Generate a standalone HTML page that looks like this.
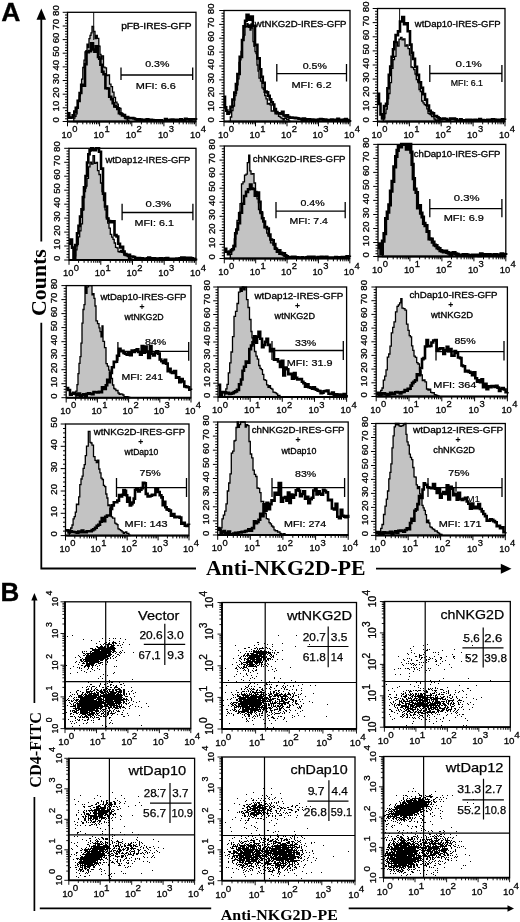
<!DOCTYPE html>
<html><head><meta charset="utf-8"><style>
html,body{margin:0;padding:0;background:#fff;width:520px;height:922px;overflow:hidden;position:relative}
text{fill:#000}
</style></head><body>
<svg width="520" height="922" viewBox="0 0 520 922" style="position:absolute;left:0;top:0;filter:blur(0.3px)"><text x="1.2" y="20.7" font-size="26.5" text-anchor="start" font-weight="bold" font-family='"Liberation Sans", sans-serif' stroke="#000" stroke-width="0.3">A</text><text x="0.4" y="600.8" font-size="26" text-anchor="start" font-weight="bold" font-family='"Liberation Sans", sans-serif' stroke="#000" stroke-width="0.3">B</text><path d="M41.3 18V241.4M41.3 322.7V568.5H196M376 568.6H502" stroke="#000" stroke-width="1.8" fill="none"/><path d="M41.3 8.5L36.5 19.7H46Z" fill="#000"/><path d="M511.5 568.7L500.8 563.8V573.8Z" fill="#000"/><text transform="translate(46.3,282.6) rotate(-90)" font-size="22" font-weight="bold" text-anchor="middle" font-family='"Liberation Serif", serif' textLength="67" lengthAdjust="spacingAndGlyphs">Counts</text><text x="205.9" y="575.4" font-size="21.5" font-weight="bold" font-family='"Liberation Serif", serif' textLength="159.7" lengthAdjust="spacingAndGlyphs">Anti-NKG2D-PE</text><path d="M72.7 121.5H73.8V118.1H74.9V116.4H76V113.9H77.1V106.8H78.2V100.3H79.3V95.9H80.4V93H81.6V79.1H82.8V67.5H84V60.2H85V51.8H86V50.6H87V44.2H88V47.7H89V38.7H90V35.4H91V32.8H92V26.5H93.5V31.5H95V38.6H96.2V35.3H97.3V38.3H98.8V46.1H100V54.3H101V59.2H102V55.8H103.5V67.1H105V67.9H106.5V75.5H108V75H109.5V84.2H111V86.6H112.5V92.2H114V97.4H115.5V102.1H117V104.1H118.3V107.7H119.7V108.3H121V113.2H122.2V114H123.5V116.4H124.8V118.5H126V118.8H127.3V120.1H128.7V121.5H130V121.5V121.5H72.7Z" fill="#c3c3c3" stroke="#000" stroke-width="1.3"/><path d="M93.7 12.3V40" stroke="#111" stroke-width="1"/><path d="M67.5 113.4H69.3V117.6H71.2V117.5H72.7V115.4H74.3V111.6H75.8V107.7H77.7V100.9H79.6V93H81.2V84.9H82.7V85.7H85V64.3H86.5V52.1H88.8V51.1H91V43.4H93V49.5H94.4V51.7H95.8V46.4H98V57H99.2V58.8H100.4V64.7H102V71.8H103.5V74.3H105.4V88.3H107.3V88.5H109.2V96.8H111.2V99.1H112.7V103.2H114.3V106.4H115.8V106.7H117.3V108.9H118.9V113.3H120.5V113.9H122V115.4H123.5V115H125V117.1H126.5V117H128.2V118.1H129.9V118.1H131.6V118H133.3V118.5H135V119.2H136.7V119.8H138.3V119.2H140V119.6H141.7V120.7H143.3V119.9H145V120.2H146.7V119.3H148.3V119.9H150V119.9H151.7V120H153.3V120.2H155V120.3H156.7V120.3H158.3V120.3H160V120.2H161.7V120.7H163.3V120.7H165V119.1H166.7V120.1H168.3V120.5H170V119.9H171.7V119.5H173.3V119.7H175V119.8H176.7V120H178.3V120H180V119.4H181.7V120.7H183.3V120.1H185V118.7H186.6V119.5H188.1V119.3H189.7V120.1H191.3V119.3H192.9V119.5H194.4V119.4H196V120" fill="none" stroke="#000" stroke-width="2.6" stroke-linejoin="miter" stroke-miterlimit="2"/><rect x="67.5" y="12.3" width="128.5" height="109.2" fill="none" stroke="#000" stroke-width="1.3"/><path d="M67.5 121.5H196" stroke="#000" stroke-width="2"/><path d="M67.5 121.5h-4.8M67.5 118.8h-2.5M67.5 116h-2.5M67.5 113.3h-2.5M67.5 110.6h-2.5M67.5 107.8h-4.8M67.5 105.1h-2.5M67.5 102.4h-2.5M67.5 99.7h-2.5M67.5 96.9h-2.5M67.5 94.2h-4.8M67.5 91.5h-2.5M67.5 88.7h-2.5M67.5 86h-2.5M67.5 83.3h-2.5M67.5 80.5h-4.8M67.5 77.8h-2.5M67.5 75.1h-2.5M67.5 72.4h-2.5M67.5 69.6h-2.5M67.5 66.9h-4.8M67.5 64.2h-2.5M67.5 61.4h-2.5M67.5 58.7h-2.5M67.5 56h-2.5M67.5 53.2h-4.8M67.5 50.5h-2.5M67.5 47.8h-2.5M67.5 45.1h-2.5M67.5 42.3h-2.5M67.5 39.6h-4.8M67.5 36.9h-2.5M67.5 34.1h-2.5M67.5 31.4h-2.5M67.5 28.7h-2.5M67.5 26h-4.8M67.5 23.2h-2.5M67.5 20.5h-2.5M67.5 17.8h-2.5M67.5 15h-2.5M67.5 12.3h-4.8" stroke="#000" stroke-width="1" fill="none"/><text transform="translate(59.4,119.8) rotate(-90)" font-size="9.6" text-anchor="middle" font-family='"Liberation Sans", sans-serif' stroke="#000" stroke-width="0.32">0</text><text transform="translate(59.4,106.1) rotate(-90)" font-size="9.6" text-anchor="middle" font-family='"Liberation Sans", sans-serif' stroke="#000" stroke-width="0.32">10</text><text transform="translate(59.4,92.5) rotate(-90)" font-size="9.6" text-anchor="middle" font-family='"Liberation Sans", sans-serif' stroke="#000" stroke-width="0.32">20</text><text transform="translate(59.4,78.8) rotate(-90)" font-size="9.6" text-anchor="middle" font-family='"Liberation Sans", sans-serif' stroke="#000" stroke-width="0.32">30</text><text transform="translate(59.4,65.2) rotate(-90)" font-size="9.6" text-anchor="middle" font-family='"Liberation Sans", sans-serif' stroke="#000" stroke-width="0.32">40</text><text transform="translate(59.4,51.5) rotate(-90)" font-size="9.6" text-anchor="middle" font-family='"Liberation Sans", sans-serif' stroke="#000" stroke-width="0.32">50</text><text transform="translate(59.4,37.9) rotate(-90)" font-size="9.6" text-anchor="middle" font-family='"Liberation Sans", sans-serif' stroke="#000" stroke-width="0.32">60</text><text transform="translate(59.4,24.3) rotate(-90)" font-size="9.6" text-anchor="middle" font-family='"Liberation Sans", sans-serif' stroke="#000" stroke-width="0.32">70</text><text transform="translate(59.4,10.6) rotate(-90)" font-size="9.6" text-anchor="middle" font-family='"Liberation Sans", sans-serif' stroke="#000" stroke-width="0.32">80</text><path d="M67.5 121.5v4.8M77.2 121.5v2.8M82.8 121.5v2.8M86.8 121.5v2.8M90 121.5v2.8M92.5 121.5v2.8M94.6 121.5v2.8M96.5 121.5v2.8M98.2 121.5v2.8M99.6 121.5v4.8M109.3 121.5v2.8M115 121.5v2.8M119 121.5v2.8M122.1 121.5v2.8M124.6 121.5v2.8M126.8 121.5v2.8M128.6 121.5v2.8M130.3 121.5v2.8M131.8 121.5v4.8M141.4 121.5v2.8M147.1 121.5v2.8M151.1 121.5v2.8M154.2 121.5v2.8M156.7 121.5v2.8M158.9 121.5v2.8M160.8 121.5v2.8M162.4 121.5v2.8M163.9 121.5v4.8M173.5 121.5v2.8M179.2 121.5v2.8M183.2 121.5v2.8M186.3 121.5v2.8M188.9 121.5v2.8M191 121.5v2.8M192.9 121.5v2.8M194.5 121.5v2.8M196 121.5v4.8" stroke="#000" stroke-width="1" fill="none"/><text x="66.7" y="137.8" font-size="9.4" text-anchor="middle" font-family='"Liberation Sans", sans-serif' stroke="#000" stroke-width="0.3">10</text><text x="74.9" y="132" font-size="9.4" text-anchor="middle" font-family='"Liberation Sans", sans-serif' stroke="#000" stroke-width="0.3">0</text><text x="98.8" y="137.8" font-size="9.4" text-anchor="middle" font-family='"Liberation Sans", sans-serif' stroke="#000" stroke-width="0.3">10</text><text x="107" y="132" font-size="9.4" text-anchor="middle" font-family='"Liberation Sans", sans-serif' stroke="#000" stroke-width="0.3">1</text><text x="130.9" y="137.8" font-size="9.4" text-anchor="middle" font-family='"Liberation Sans", sans-serif' stroke="#000" stroke-width="0.3">10</text><text x="139.2" y="132" font-size="9.4" text-anchor="middle" font-family='"Liberation Sans", sans-serif' stroke="#000" stroke-width="0.3">2</text><text x="163.1" y="137.8" font-size="9.4" text-anchor="middle" font-family='"Liberation Sans", sans-serif' stroke="#000" stroke-width="0.3">10</text><text x="171.3" y="132" font-size="9.4" text-anchor="middle" font-family='"Liberation Sans", sans-serif' stroke="#000" stroke-width="0.3">3</text><text x="195.2" y="137.8" font-size="9.4" text-anchor="middle" font-family='"Liberation Sans", sans-serif' stroke="#000" stroke-width="0.3">10</text><text x="203.4" y="132" font-size="9.4" text-anchor="middle" font-family='"Liberation Sans", sans-serif' stroke="#000" stroke-width="0.3">4</text><text x="121.2" y="29.2" font-size="8.3" text-anchor="start" font-weight="normal" font-family='"Liberation Sans", sans-serif' textLength="70.4" lengthAdjust="spacingAndGlyphs" stroke="#000" stroke-width="0.3">pFB-IRES-GFP</text><path d="M121 75H192.7M121 67.5V80M192.7 67.5V80" stroke="#000" stroke-width="1.3" fill="none"/><text x="145.2" y="66.8" font-size="8.8" text-anchor="start" font-weight="normal" font-family='"Liberation Sans", sans-serif' textLength="24.2" lengthAdjust="spacingAndGlyphs" stroke="#000" stroke-width="0.22">0.3%</text><text x="135.8" y="88.8" font-size="8.8" text-anchor="start" font-weight="normal" font-family='"Liberation Sans", sans-serif' textLength="40" lengthAdjust="spacingAndGlyphs" stroke="#000" stroke-width="0.22">MFI: 6.6</text><path d="M229 121.4H230.3V117H231.7V110.5H233V106H234.5V95.7H236V90.2H237.5V78.9H239V62.4H240V59.8H241V51.3H242V39.7H243V36.8H244V35H245V27.2H246V26.4H247V23.6H248V27.3H249V25H250V30.2H251V23.9H252V28H253V41.7H254V46.4H255V51.6H256V53.5H257V65H258V71H259V78.1H260.5V81.1H262V87.9H263.3V89.3H264.7V95.5H266V98.8H267.3V104.2H268.7V103.3H270V104.9H271.2V111.1H272.5V111H273.8V109.8H275V113.9H276.2V113.6H277.3V113.5H278.5V116.3H279.7V116.9H280.8V117.8H282V118.7H283.1V119.8H284.3V118.4H285.4V117.8H286.6V119.3H287.7V119.3H288.9V121.1H290V121.5V121.5H229Z" fill="#c3c3c3" stroke="#000" stroke-width="1.3"/><path d="M224 96.7H225V107.4H226.2V110.6H227.4V113.6H228.9V112.2H230.5V106.9H232.4V99.5H234.3V92.6H235.9V84.1H237.4V74H239.7V56.9H242V40H243.5V26.2H245.1V20.7H246.6V14.8H248.5V19.7H250.5V16.6H252.8V25.9H255V44.9H257.4V58.4H259.7V69.3H261.2V76.7H262.8V82.8H264.7V91.6H266.6V92.4H268.1V95.8H269.7V99.4H271.2V102.3H272.8V104.5H274.3V109H275.9V112H277.4V113.3H278.9V113.3H280.5V114H282V111.7H283.5V115.5H285V116.2H286.5V115.2H288V117H289.5V117.6H291V117.5H292.5V117.8H294V117.9H295.5V118.1H297V118.2H298.5V118.8H300V118.8H301.7V120.4H303.3V118.6H305V119.9H306.7V119.4H308.3V119.3H310V120.7H311.7V119.5H313.3V120.3H315V119.7H316.7V119.8H318.3V119.5H320V119.1H321.6V119.4H323.2V120.2H324.7V119.5H326.3V120H327.9V120.5H329.5V120H331.1V119.6H332.6V119.8H334.2V119.8H335.8V120.6H337.4V118.9H338.9V119.7H340.5V120.1H342.1V120.7H343.7V119.6H345.3V119H346.8V120H348.4V120.6H350V120" fill="none" stroke="#000" stroke-width="2.6" stroke-linejoin="miter" stroke-miterlimit="2"/><rect x="224" y="10.5" width="126" height="111" fill="none" stroke="#000" stroke-width="1.3"/><path d="M224 121.5H350" stroke="#000" stroke-width="2"/><path d="M224 121.5h-4.8M224 118.7h-2.5M224 116h-2.5M224 113.2h-2.5M224 110.4h-2.5M224 107.6h-4.8M224 104.8h-2.5M224 102.1h-2.5M224 99.3h-2.5M224 96.5h-2.5M224 93.8h-4.8M224 91h-2.5M224 88.2h-2.5M224 85.4h-2.5M224 82.7h-2.5M224 79.9h-4.8M224 77.1h-2.5M224 74.3h-2.5M224 71.5h-2.5M224 68.8h-2.5M224 66h-4.8M224 63.2h-2.5M224 60.5h-2.5M224 57.7h-2.5M224 54.9h-2.5M224 52.1h-4.8M224 49.3h-2.5M224 46.6h-2.5M224 43.8h-2.5M224 41h-2.5M224 38.2h-4.8M224 35.5h-2.5M224 32.7h-2.5M224 29.9h-2.5M224 27.2h-2.5M224 24.4h-4.8M224 21.6h-2.5M224 18.8h-2.5M224 16h-2.5M224 13.3h-2.5M224 10.5h-4.8" stroke="#000" stroke-width="1" fill="none"/><text transform="translate(214,119.8) rotate(-90)" font-size="9.6" text-anchor="middle" font-family='"Liberation Sans", sans-serif' stroke="#000" stroke-width="0.32">0</text><text transform="translate(214,105.9) rotate(-90)" font-size="9.6" text-anchor="middle" font-family='"Liberation Sans", sans-serif' stroke="#000" stroke-width="0.32">10</text><text transform="translate(214,92) rotate(-90)" font-size="9.6" text-anchor="middle" font-family='"Liberation Sans", sans-serif' stroke="#000" stroke-width="0.32">20</text><text transform="translate(214,78.2) rotate(-90)" font-size="9.6" text-anchor="middle" font-family='"Liberation Sans", sans-serif' stroke="#000" stroke-width="0.32">30</text><text transform="translate(214,64.3) rotate(-90)" font-size="9.6" text-anchor="middle" font-family='"Liberation Sans", sans-serif' stroke="#000" stroke-width="0.32">40</text><text transform="translate(214,50.4) rotate(-90)" font-size="9.6" text-anchor="middle" font-family='"Liberation Sans", sans-serif' stroke="#000" stroke-width="0.32">50</text><text transform="translate(214,36.5) rotate(-90)" font-size="9.6" text-anchor="middle" font-family='"Liberation Sans", sans-serif' stroke="#000" stroke-width="0.32">60</text><text transform="translate(214,22.7) rotate(-90)" font-size="9.6" text-anchor="middle" font-family='"Liberation Sans", sans-serif' stroke="#000" stroke-width="0.32">70</text><text transform="translate(214,8.8) rotate(-90)" font-size="9.6" text-anchor="middle" font-family='"Liberation Sans", sans-serif' stroke="#000" stroke-width="0.32">80</text><path d="M224 121.5v4.8M233.5 121.5v2.8M239 121.5v2.8M243 121.5v2.8M246 121.5v2.8M248.5 121.5v2.8M250.6 121.5v2.8M252.4 121.5v2.8M254.1 121.5v2.8M255.5 121.5v4.8M265 121.5v2.8M270.5 121.5v2.8M274.5 121.5v2.8M277.5 121.5v2.8M280 121.5v2.8M282.1 121.5v2.8M283.9 121.5v2.8M285.6 121.5v2.8M287 121.5v4.8M296.5 121.5v2.8M302 121.5v2.8M306 121.5v2.8M309 121.5v2.8M311.5 121.5v2.8M313.6 121.5v2.8M315.4 121.5v2.8M317.1 121.5v2.8M318.5 121.5v4.8M328 121.5v2.8M333.5 121.5v2.8M337.5 121.5v2.8M340.5 121.5v2.8M343 121.5v2.8M345.1 121.5v2.8M346.9 121.5v2.8M348.6 121.5v2.8M350 121.5v4.8" stroke="#000" stroke-width="1" fill="none"/><text x="223.2" y="137.8" font-size="9.4" text-anchor="middle" font-family='"Liberation Sans", sans-serif' stroke="#000" stroke-width="0.3">10</text><text x="231.4" y="132" font-size="9.4" text-anchor="middle" font-family='"Liberation Sans", sans-serif' stroke="#000" stroke-width="0.3">0</text><text x="254.7" y="137.8" font-size="9.4" text-anchor="middle" font-family='"Liberation Sans", sans-serif' stroke="#000" stroke-width="0.3">10</text><text x="262.9" y="132" font-size="9.4" text-anchor="middle" font-family='"Liberation Sans", sans-serif' stroke="#000" stroke-width="0.3">1</text><text x="286.2" y="137.8" font-size="9.4" text-anchor="middle" font-family='"Liberation Sans", sans-serif' stroke="#000" stroke-width="0.3">10</text><text x="294.4" y="132" font-size="9.4" text-anchor="middle" font-family='"Liberation Sans", sans-serif' stroke="#000" stroke-width="0.3">2</text><text x="317.7" y="137.8" font-size="9.4" text-anchor="middle" font-family='"Liberation Sans", sans-serif' stroke="#000" stroke-width="0.3">10</text><text x="325.9" y="132" font-size="9.4" text-anchor="middle" font-family='"Liberation Sans", sans-serif' stroke="#000" stroke-width="0.3">3</text><text x="349.2" y="137.8" font-size="9.4" text-anchor="middle" font-family='"Liberation Sans", sans-serif' stroke="#000" stroke-width="0.3">10</text><text x="357.4" y="132" font-size="9.4" text-anchor="middle" font-family='"Liberation Sans", sans-serif' stroke="#000" stroke-width="0.3">4</text><text x="254.8" y="27.3" font-size="8.3" text-anchor="start" font-weight="normal" font-family='"Liberation Sans", sans-serif' textLength="91.7" lengthAdjust="spacingAndGlyphs" stroke="#000" stroke-width="0.3">wtNKG2D-IRES-GFP</text><path d="M276.8 73.6H346.5M276.8 64V81.5M346.5 64V81.5" stroke="#000" stroke-width="1.3" fill="none"/><text x="302.7" y="68.6" font-size="8.8" text-anchor="start" font-weight="normal" font-family='"Liberation Sans", sans-serif' textLength="24.2" lengthAdjust="spacingAndGlyphs" stroke="#000" stroke-width="0.22">0.5%</text><text x="291.4" y="88" font-size="8.8" text-anchor="start" font-weight="normal" font-family='"Liberation Sans", sans-serif' textLength="40.2" lengthAdjust="spacingAndGlyphs" stroke="#000" stroke-width="0.22">MFI: 6.2</text><path d="M382 121.4H383.3V117.5H384.7V113.5H386V109H387.3V98.7H388.7V93.5H390V82.6H391.5V68.4H393V59.6H394.5V56.4H396V41.9H397.5V46.2H399V39.1H400.5V37.5H402V39.9H403.5V38.9H405V46.2H406.5V44.8H408V48.6H409.5V54.8H411V67H412.3V67.7H413.7V69.6H415V74H416.3V79.7H417.7V82.2H419V89.5H420.3V91.5H421.7V101H423V102.8H424.2V104.6H425.5V105.3H426.8V108.9H428V113.3H429.2V114.1H430.4V114.9H431.6V116.5H432.8V116.6H434V119H435.2V120H436.4V119.9H437.6V120H438.8V120.7H440V121.5V121.5H382Z" fill="#c3c3c3" stroke="#000" stroke-width="1.3"/><path d="M399.6 8.5V30" stroke="#111" stroke-width="1"/><path d="M377.5 93.9H379V103.9H380.5V114.4H382V118.4H384V106.1H386V103.7H387.4V88.3H388.8V74.9H390.2V66.5H391.6V56.8H393V49.2H394.3V42H395.6V35.1H398V31.4H400V21.5H402.3V17H404V24.1H405.5V23.4H407.7V31.3H410V44.6H411.5V52.8H413V58.9H415V66.7H417V74.9H419V82.3H421V87.7H423V94.1H425V99.6H427V105.5H429V110.7H430.7V112.6H432.3V113.4H434V116H435.5V116.1H437V117.2H438.5V118.3H440V119.5H441.7V119.1H443.3V118.6H445V119H446.7V120H448.3V119.8H450V118.6H451.7V118.9H453.3V118.6H455V119.4H456.7V120.5H458.3V120.5H460V119.4H461.6V120.4H463.2V120.2H464.8V120.2H466.4V119.7H468V120.7H469.6V119.7H471.2V120.5H472.9V120H474.5V119.8H476.1V120H477.7V120.7H479.3V119.1H480.9V120.3H482.5V120H484.1V120.7H485.7V120.4H487.3V119.8H488.9V120.2H490.5V119.7H492.1V119.3H493.8V119.5H495.4V120H497V119.7H498.6V120.1H500.2V120.2H501.8V119.3H503.4V119.7H505V120" fill="none" stroke="#000" stroke-width="2.6" stroke-linejoin="miter" stroke-miterlimit="2"/><rect x="377.5" y="8.5" width="127.5" height="113" fill="none" stroke="#000" stroke-width="1.3"/><path d="M377.5 121.5H505" stroke="#000" stroke-width="2"/><path d="M377.5 121.5h-4.8M377.5 118.7h-2.5M377.5 115.8h-2.5M377.5 113h-2.5M377.5 110.2h-2.5M377.5 107.4h-4.8M377.5 104.5h-2.5M377.5 101.7h-2.5M377.5 98.9h-2.5M377.5 96.1h-2.5M377.5 93.2h-4.8M377.5 90.4h-2.5M377.5 87.6h-2.5M377.5 84.8h-2.5M377.5 82h-2.5M377.5 79.1h-4.8M377.5 76.3h-2.5M377.5 73.5h-2.5M377.5 70.7h-2.5M377.5 67.8h-2.5M377.5 65h-4.8M377.5 62.2h-2.5M377.5 59.4h-2.5M377.5 56.5h-2.5M377.5 53.7h-2.5M377.5 50.9h-4.8M377.5 48h-2.5M377.5 45.2h-2.5M377.5 42.4h-2.5M377.5 39.6h-2.5M377.5 36.8h-4.8M377.5 33.9h-2.5M377.5 31.1h-2.5M377.5 28.3h-2.5M377.5 25.5h-2.5M377.5 22.6h-4.8M377.5 19.8h-2.5M377.5 17h-2.5M377.5 14.2h-2.5M377.5 11.3h-2.5M377.5 8.5h-4.8" stroke="#000" stroke-width="1" fill="none"/><text transform="translate(368.7,119.8) rotate(-90)" font-size="9.6" text-anchor="middle" font-family='"Liberation Sans", sans-serif' stroke="#000" stroke-width="0.32">0</text><text transform="translate(368.7,105.7) rotate(-90)" font-size="9.6" text-anchor="middle" font-family='"Liberation Sans", sans-serif' stroke="#000" stroke-width="0.32">10</text><text transform="translate(368.7,91.5) rotate(-90)" font-size="9.6" text-anchor="middle" font-family='"Liberation Sans", sans-serif' stroke="#000" stroke-width="0.32">20</text><text transform="translate(368.7,77.4) rotate(-90)" font-size="9.6" text-anchor="middle" font-family='"Liberation Sans", sans-serif' stroke="#000" stroke-width="0.32">30</text><text transform="translate(368.7,63.3) rotate(-90)" font-size="9.6" text-anchor="middle" font-family='"Liberation Sans", sans-serif' stroke="#000" stroke-width="0.32">40</text><text transform="translate(368.7,49.2) rotate(-90)" font-size="9.6" text-anchor="middle" font-family='"Liberation Sans", sans-serif' stroke="#000" stroke-width="0.32">50</text><text transform="translate(368.7,35) rotate(-90)" font-size="9.6" text-anchor="middle" font-family='"Liberation Sans", sans-serif' stroke="#000" stroke-width="0.32">60</text><text transform="translate(368.7,20.9) rotate(-90)" font-size="9.6" text-anchor="middle" font-family='"Liberation Sans", sans-serif' stroke="#000" stroke-width="0.32">70</text><text transform="translate(368.7,6.8) rotate(-90)" font-size="9.6" text-anchor="middle" font-family='"Liberation Sans", sans-serif' stroke="#000" stroke-width="0.32">80</text><path d="M377.5 121.5v4.8M387.1 121.5v2.8M392.7 121.5v2.8M396.7 121.5v2.8M399.8 121.5v2.8M402.3 121.5v2.8M404.4 121.5v2.8M406.3 121.5v2.8M407.9 121.5v2.8M409.4 121.5v4.8M419 121.5v2.8M424.6 121.5v2.8M428.6 121.5v2.8M431.7 121.5v2.8M434.2 121.5v2.8M436.3 121.5v2.8M438.2 121.5v2.8M439.8 121.5v2.8M441.2 121.5v4.8M450.8 121.5v2.8M456.5 121.5v2.8M460.4 121.5v2.8M463.5 121.5v2.8M466.1 121.5v2.8M468.2 121.5v2.8M470 121.5v2.8M471.7 121.5v2.8M473.1 121.5v4.8M482.7 121.5v2.8M488.3 121.5v2.8M492.3 121.5v2.8M495.4 121.5v2.8M497.9 121.5v2.8M500.1 121.5v2.8M501.9 121.5v2.8M503.5 121.5v2.8M505 121.5v4.8" stroke="#000" stroke-width="1" fill="none"/><text x="376.7" y="137.8" font-size="9.4" text-anchor="middle" font-family='"Liberation Sans", sans-serif' stroke="#000" stroke-width="0.3">10</text><text x="384.9" y="132" font-size="9.4" text-anchor="middle" font-family='"Liberation Sans", sans-serif' stroke="#000" stroke-width="0.3">0</text><text x="408.6" y="137.8" font-size="9.4" text-anchor="middle" font-family='"Liberation Sans", sans-serif' stroke="#000" stroke-width="0.3">10</text><text x="416.8" y="132" font-size="9.4" text-anchor="middle" font-family='"Liberation Sans", sans-serif' stroke="#000" stroke-width="0.3">1</text><text x="440.4" y="137.8" font-size="9.4" text-anchor="middle" font-family='"Liberation Sans", sans-serif' stroke="#000" stroke-width="0.3">10</text><text x="448.6" y="132" font-size="9.4" text-anchor="middle" font-family='"Liberation Sans", sans-serif' stroke="#000" stroke-width="0.3">2</text><text x="472.3" y="137.8" font-size="9.4" text-anchor="middle" font-family='"Liberation Sans", sans-serif' stroke="#000" stroke-width="0.3">10</text><text x="480.5" y="132" font-size="9.4" text-anchor="middle" font-family='"Liberation Sans", sans-serif' stroke="#000" stroke-width="0.3">3</text><text x="504.2" y="137.8" font-size="9.4" text-anchor="middle" font-family='"Liberation Sans", sans-serif' stroke="#000" stroke-width="0.3">10</text><text x="512.4" y="132" font-size="9.4" text-anchor="middle" font-family='"Liberation Sans", sans-serif' stroke="#000" stroke-width="0.3">4</text><text x="414.8" y="27.2" font-size="8.3" text-anchor="start" font-weight="normal" font-family='"Liberation Sans", sans-serif' textLength="85.8" lengthAdjust="spacingAndGlyphs" stroke="#000" stroke-width="0.3">wtDap10-IRES-GFP</text><path d="M429.8 73.5H501.9M429.8 65V82M501.9 65V82" stroke="#000" stroke-width="1.3" fill="none"/><text x="455.5" y="66.8" font-size="9.6" text-anchor="start" font-weight="normal" font-family='"Liberation Sans", sans-serif' textLength="26.4" lengthAdjust="spacingAndGlyphs" stroke="#000" stroke-width="0.22">0.1%</text><text x="450.8" y="85.8" font-size="8.8" text-anchor="start" font-weight="normal" font-family='"Liberation Sans", sans-serif' textLength="32.2" lengthAdjust="spacingAndGlyphs" stroke="#000" stroke-width="0.22">MFI: 6.1</text><path d="M73 260H74.3V255.8H75.7V249.9H77V244.4H78.3V236.8H79.7V230.8H81V223.8H82.5V209.9H84V191.6H85.5V186.2H87V178.3H88.5V166.8H90V162.1H91.5V164.2H93V155.6H94.5V163.4H96V162.4H97.5V170.6H99V174.5H100.5V183H102V191.6H103.5V200.5H105V209.8H106.3V217.7H107.7V223.2H109V228.1H110.3V234.3H111.7V237.1H113V239.3H114.2V243H115.5V247.4H116.8V247.8H118V251.6H119.2V252.2H120.3V250.3H121.5V252.3H122.7V252.7H123.8V255.2H125V255.6H126.2V255.8H127.3V256.6H128.5V259H129.7V257.9H130.8V259H132V260V260H73Z" fill="#c3c3c3" stroke="#000" stroke-width="1.3"/><path d="M69 243.8H70.5V239.6H72V247.6H73.5V257.6H75.2V245.1H77V233.2H78.5V225.9H80V216.6H81.5V209.4H82.8V197H84V187.4H85.5V176H87V162.5H88.3V154.2H89.6V150.4H91.2V148.3H92.7V149.8H94.3V150.2H95.9V148.3H97.4V148.3H99V151.7H101V168.6H103V193.6H105V206.5H107V218.5H108.5V221.1H110V222.3H111.2V222.2H112.5V221.4H114.5V235.1H116.5V236.5H118.2V243.8H120V247.5H121.5V246.7H123.1V251.5H124.6V254H126.4V254.8H128.2V254.8H130V256.5H131.7V256.5H133.3V257H135V258.5H136.7V258.1H138.3V258H140V258.8H141.7V258.3H143.3V259H145V259.2H146.7V258.3H148.3V257.6H150V258.3H151.7V258.6H153.3V258.4H155V258.6H156.7V258.5H158.3V258.6H160V258.3H161.6V258.5H163.3V259.2H164.9V258.2H166.5V258H168.2V259.2H169.8V258.8H171.5V258.7H173.1V259H174.7V258.7H176.4V258.6H178V259H179.6V258.2H181.3V257.5H182.9V257.6H184.5V258.5H186.2V257.9H187.8V259.2H189.5V257.7H191.1V258.4H192.7V258.8H194.4V259.1H196V258.5" fill="none" stroke="#000" stroke-width="2.6" stroke-linejoin="miter" stroke-miterlimit="2"/><rect x="69" y="148.3" width="127" height="111.7" fill="none" stroke="#000" stroke-width="1.3"/><path d="M69 260H196" stroke="#000" stroke-width="2"/><path d="M69 260h-4.8M69 257.2h-2.5M69 254.4h-2.5M69 251.6h-2.5M69 248.8h-2.5M69 246h-4.8M69 243.2h-2.5M69 240.5h-2.5M69 237.7h-2.5M69 234.9h-2.5M69 232.1h-4.8M69 229.3h-2.5M69 226.5h-2.5M69 223.7h-2.5M69 220.9h-2.5M69 218.1h-4.8M69 215.3h-2.5M69 212.5h-2.5M69 209.7h-2.5M69 206.9h-2.5M69 204.2h-4.8M69 201.4h-2.5M69 198.6h-2.5M69 195.8h-2.5M69 193h-2.5M69 190.2h-4.8M69 187.4h-2.5M69 184.6h-2.5M69 181.8h-2.5M69 179h-2.5M69 176.2h-4.8M69 173.4h-2.5M69 170.6h-2.5M69 167.8h-2.5M69 165.1h-2.5M69 162.3h-4.8M69 159.5h-2.5M69 156.7h-2.5M69 153.9h-2.5M69 151.1h-2.5M69 148.3h-4.8" stroke="#000" stroke-width="1" fill="none"/><text transform="translate(59.8,258.3) rotate(-90)" font-size="9.6" text-anchor="middle" font-family='"Liberation Sans", sans-serif' stroke="#000" stroke-width="0.32">0</text><text transform="translate(59.8,244.3) rotate(-90)" font-size="9.6" text-anchor="middle" font-family='"Liberation Sans", sans-serif' stroke="#000" stroke-width="0.32">10</text><text transform="translate(59.8,230.4) rotate(-90)" font-size="9.6" text-anchor="middle" font-family='"Liberation Sans", sans-serif' stroke="#000" stroke-width="0.32">20</text><text transform="translate(59.8,216.4) rotate(-90)" font-size="9.6" text-anchor="middle" font-family='"Liberation Sans", sans-serif' stroke="#000" stroke-width="0.32">30</text><text transform="translate(59.8,202.5) rotate(-90)" font-size="9.6" text-anchor="middle" font-family='"Liberation Sans", sans-serif' stroke="#000" stroke-width="0.32">40</text><text transform="translate(59.8,188.5) rotate(-90)" font-size="9.6" text-anchor="middle" font-family='"Liberation Sans", sans-serif' stroke="#000" stroke-width="0.32">50</text><text transform="translate(59.8,174.5) rotate(-90)" font-size="9.6" text-anchor="middle" font-family='"Liberation Sans", sans-serif' stroke="#000" stroke-width="0.32">60</text><text transform="translate(59.8,160.6) rotate(-90)" font-size="9.6" text-anchor="middle" font-family='"Liberation Sans", sans-serif' stroke="#000" stroke-width="0.32">70</text><text transform="translate(59.8,146.6) rotate(-90)" font-size="9.6" text-anchor="middle" font-family='"Liberation Sans", sans-serif' stroke="#000" stroke-width="0.32">80</text><path d="M69 260v4.8M78.6 260v2.8M84.1 260v2.8M88.1 260v2.8M91.2 260v2.8M93.7 260v2.8M95.8 260v2.8M97.7 260v2.8M99.3 260v2.8M100.8 260v4.8M110.3 260v2.8M115.9 260v2.8M119.9 260v2.8M122.9 260v2.8M125.5 260v2.8M127.6 260v2.8M129.4 260v2.8M131 260v2.8M132.5 260v4.8M142.1 260v2.8M147.6 260v2.8M151.6 260v2.8M154.7 260v2.8M157.2 260v2.8M159.3 260v2.8M161.2 260v2.8M162.8 260v2.8M164.2 260v4.8M173.8 260v2.8M179.4 260v2.8M183.4 260v2.8M186.4 260v2.8M189 260v2.8M191.1 260v2.8M192.9 260v2.8M194.5 260v2.8M196 260v4.8" stroke="#000" stroke-width="1" fill="none"/><text x="68.2" y="276.3" font-size="9.4" text-anchor="middle" font-family='"Liberation Sans", sans-serif' stroke="#000" stroke-width="0.3">10</text><text x="76.4" y="270.5" font-size="9.4" text-anchor="middle" font-family='"Liberation Sans", sans-serif' stroke="#000" stroke-width="0.3">0</text><text x="100" y="276.3" font-size="9.4" text-anchor="middle" font-family='"Liberation Sans", sans-serif' stroke="#000" stroke-width="0.3">10</text><text x="108.2" y="270.5" font-size="9.4" text-anchor="middle" font-family='"Liberation Sans", sans-serif' stroke="#000" stroke-width="0.3">1</text><text x="131.7" y="276.3" font-size="9.4" text-anchor="middle" font-family='"Liberation Sans", sans-serif' stroke="#000" stroke-width="0.3">10</text><text x="139.9" y="270.5" font-size="9.4" text-anchor="middle" font-family='"Liberation Sans", sans-serif' stroke="#000" stroke-width="0.3">2</text><text x="163.4" y="276.3" font-size="9.4" text-anchor="middle" font-family='"Liberation Sans", sans-serif' stroke="#000" stroke-width="0.3">10</text><text x="171.7" y="270.5" font-size="9.4" text-anchor="middle" font-family='"Liberation Sans", sans-serif' stroke="#000" stroke-width="0.3">3</text><text x="195.2" y="276.3" font-size="9.4" text-anchor="middle" font-family='"Liberation Sans", sans-serif' stroke="#000" stroke-width="0.3">10</text><text x="203.4" y="270.5" font-size="9.4" text-anchor="middle" font-family='"Liberation Sans", sans-serif' stroke="#000" stroke-width="0.3">4</text><text x="105.4" y="163.1" font-size="8.3" text-anchor="start" font-weight="normal" font-family='"Liberation Sans", sans-serif' textLength="85" lengthAdjust="spacingAndGlyphs" stroke="#000" stroke-width="0.3">wtDap12-IRES-GFP</text><path d="M122.1 212.5H192.9M122.1 203.8V220.2M192.9 203.8V220.2" stroke="#000" stroke-width="1.3" fill="none"/><text x="145.6" y="206.7" font-size="9.4" text-anchor="start" font-weight="normal" font-family='"Liberation Sans", sans-serif' textLength="25.8" lengthAdjust="spacingAndGlyphs" stroke="#000" stroke-width="0.22">0.3%</text><text x="134.6" y="226" font-size="8.8" text-anchor="start" font-weight="normal" font-family='"Liberation Sans", sans-serif' textLength="39.4" lengthAdjust="spacingAndGlyphs" stroke="#000" stroke-width="0.22">MFI: 6.1</text><path d="M229 258.5H230.3V254.3H231.7V248.7H233V245.5H234.3V239H235.7V229.7H237V220.5H238.5V212.6H240V203.6H241.5V183.8H243V181.9H244.5V175.1H246V174.1H247.3V162.6H248.7V155.1H249.8V170.8H251V174.2H252.5V173.7H254V183H255.5V191.5H257V198.9H258.5V209.5H260V213.7H261.3V212.9H262.7V221.6H264V227.8H265.3V227.9H266.7V233.2H268V236.1H269.2V236.6H270.5V242.8H271.8V242.8H273V245.2H274.2V249.2H275.3V247.7H276.5V252H277.7V252.2H278.8V254.4H280V254H281.1V254.6H282.3V255.1H283.4V256H284.6V256.3H285.7V257.7H286.9V258.4H288V258.5V258.5H229Z" fill="#c3c3c3" stroke="#000" stroke-width="1.3"/><path d="M224.3 248.8H226.2V251.7H228V254.1H229.4V251.6H230.9V250.1H232.4V249.2H233.8V246.1H235.2V233.3H236.6V229.4H238V223.1H240V212.8H242V203.7H244V196H246V191.9H248V189.3H250V184.5H251.5V188.6H253V189H254.8V195.8H256.7V192.5H259V201.9H260.5V212.3H262V218.2H263.5V221.5H265V227H266.9V228.6H268.8V234.5H270.4V239.5H272V240.3H273.7V244.1H275.3V248.7H277V251.8H278.7V250.4H280.3V252.7H282V253.5H283.4V253.2H284.9V255.2H286.3V256.4H287.7V257.6H289.2V257.1H290.8V257.2H292.3V256.7H293.9V256.8H295.4V257.4H296.9V257.3H298.5V257.7H300V257.7H301.6V257.2H303.2V257.7H304.8V257.7H306.4V257.4H308V256.8H309.6V257.7H311.2V256.9H312.9V256.9H314.5V257.6H316.1V257.5H317.7V257H319.3V257.4H320.9V256.7H322.5V257.1H324.1V257.3H325.7V256.9H327.3V257.6H328.9V257.7H330.5V257.6H332.1V257.7H333.7V257.6H335.3V257.1H336.9V257.2H338.6V257.5H340.2V257.3H341.8V257.1H343.4V257.5H345V257H346.6V256.3H348.2V256.9H349.8V257" fill="none" stroke="#000" stroke-width="2.6" stroke-linejoin="miter" stroke-miterlimit="2"/><rect x="224.3" y="146" width="125.5" height="112.5" fill="none" stroke="#000" stroke-width="1.3"/><path d="M224.3 258.5H349.8" stroke="#000" stroke-width="2"/><path d="M224.3 258.5h-4.8M224.3 255.7h-2.5M224.3 252.9h-2.5M224.3 250.1h-2.5M224.3 247.2h-2.5M224.3 244.4h-4.8M224.3 241.6h-2.5M224.3 238.8h-2.5M224.3 236h-2.5M224.3 233.2h-2.5M224.3 230.4h-4.8M224.3 227.6h-2.5M224.3 224.8h-2.5M224.3 221.9h-2.5M224.3 219.1h-2.5M224.3 216.3h-4.8M224.3 213.5h-2.5M224.3 210.7h-2.5M224.3 207.9h-2.5M224.3 205.1h-2.5M224.3 202.2h-4.8M224.3 199.4h-2.5M224.3 196.6h-2.5M224.3 193.8h-2.5M224.3 191h-2.5M224.3 188.2h-4.8M224.3 185.4h-2.5M224.3 182.6h-2.5M224.3 179.8h-2.5M224.3 176.9h-2.5M224.3 174.1h-4.8M224.3 171.3h-2.5M224.3 168.5h-2.5M224.3 165.7h-2.5M224.3 162.9h-2.5M224.3 160.1h-4.8M224.3 157.2h-2.5M224.3 154.4h-2.5M224.3 151.6h-2.5M224.3 148.8h-2.5M224.3 146h-4.8" stroke="#000" stroke-width="1" fill="none"/><text transform="translate(215.3,256.8) rotate(-90)" font-size="9.6" text-anchor="middle" font-family='"Liberation Sans", sans-serif' stroke="#000" stroke-width="0.32">0</text><text transform="translate(215.3,242.7) rotate(-90)" font-size="9.6" text-anchor="middle" font-family='"Liberation Sans", sans-serif' stroke="#000" stroke-width="0.32">10</text><text transform="translate(215.3,228.7) rotate(-90)" font-size="9.6" text-anchor="middle" font-family='"Liberation Sans", sans-serif' stroke="#000" stroke-width="0.32">20</text><text transform="translate(215.3,214.6) rotate(-90)" font-size="9.6" text-anchor="middle" font-family='"Liberation Sans", sans-serif' stroke="#000" stroke-width="0.32">30</text><text transform="translate(215.3,200.6) rotate(-90)" font-size="9.6" text-anchor="middle" font-family='"Liberation Sans", sans-serif' stroke="#000" stroke-width="0.32">40</text><text transform="translate(215.3,186.5) rotate(-90)" font-size="9.6" text-anchor="middle" font-family='"Liberation Sans", sans-serif' stroke="#000" stroke-width="0.32">50</text><text transform="translate(215.3,172.4) rotate(-90)" font-size="9.6" text-anchor="middle" font-family='"Liberation Sans", sans-serif' stroke="#000" stroke-width="0.32">60</text><text transform="translate(215.3,158.4) rotate(-90)" font-size="9.6" text-anchor="middle" font-family='"Liberation Sans", sans-serif' stroke="#000" stroke-width="0.32">70</text><text transform="translate(215.3,144.3) rotate(-90)" font-size="9.6" text-anchor="middle" font-family='"Liberation Sans", sans-serif' stroke="#000" stroke-width="0.32">80</text><path d="M224.3 258.5v4.8M233.7 258.5v2.8M239.3 258.5v2.8M243.2 258.5v2.8M246.2 258.5v2.8M248.7 258.5v2.8M250.8 258.5v2.8M252.6 258.5v2.8M254.2 258.5v2.8M255.7 258.5v4.8M265.1 258.5v2.8M270.6 258.5v2.8M274.6 258.5v2.8M277.6 258.5v2.8M280.1 258.5v2.8M282.2 258.5v2.8M284 258.5v2.8M285.6 258.5v2.8M287.1 258.5v4.8M296.5 258.5v2.8M302 258.5v2.8M305.9 258.5v2.8M309 258.5v2.8M311.5 258.5v2.8M313.6 258.5v2.8M315.4 258.5v2.8M317 258.5v2.8M318.4 258.5v4.8M327.9 258.5v2.8M333.4 258.5v2.8M337.3 258.5v2.8M340.4 258.5v2.8M342.8 258.5v2.8M344.9 258.5v2.8M346.8 258.5v2.8M348.4 258.5v2.8M349.8 258.5v4.8" stroke="#000" stroke-width="1" fill="none"/><text x="223.5" y="274.8" font-size="9.4" text-anchor="middle" font-family='"Liberation Sans", sans-serif' stroke="#000" stroke-width="0.3">10</text><text x="231.7" y="269" font-size="9.4" text-anchor="middle" font-family='"Liberation Sans", sans-serif' stroke="#000" stroke-width="0.3">0</text><text x="254.9" y="274.8" font-size="9.4" text-anchor="middle" font-family='"Liberation Sans", sans-serif' stroke="#000" stroke-width="0.3">10</text><text x="263.1" y="269" font-size="9.4" text-anchor="middle" font-family='"Liberation Sans", sans-serif' stroke="#000" stroke-width="0.3">1</text><text x="286.2" y="274.8" font-size="9.4" text-anchor="middle" font-family='"Liberation Sans", sans-serif' stroke="#000" stroke-width="0.3">10</text><text x="294.4" y="269" font-size="9.4" text-anchor="middle" font-family='"Liberation Sans", sans-serif' stroke="#000" stroke-width="0.3">2</text><text x="317.6" y="274.8" font-size="9.4" text-anchor="middle" font-family='"Liberation Sans", sans-serif' stroke="#000" stroke-width="0.3">10</text><text x="325.8" y="269" font-size="9.4" text-anchor="middle" font-family='"Liberation Sans", sans-serif' stroke="#000" stroke-width="0.3">3</text><text x="349" y="274.8" font-size="9.4" text-anchor="middle" font-family='"Liberation Sans", sans-serif' stroke="#000" stroke-width="0.3">10</text><text x="357.2" y="269" font-size="9.4" text-anchor="middle" font-family='"Liberation Sans", sans-serif' stroke="#000" stroke-width="0.3">4</text><text x="252.7" y="161.5" font-size="8.3" text-anchor="start" font-weight="normal" font-family='"Liberation Sans", sans-serif' textLength="92.9" lengthAdjust="spacingAndGlyphs" stroke="#000" stroke-width="0.3">chNKG2D-IRES-GFP</text><path d="M276 211.2H345.2M276 202V218.3M345.2 202V218.3" stroke="#000" stroke-width="1.3" fill="none"/><text x="300.4" y="205.8" font-size="8.8" text-anchor="start" font-weight="normal" font-family='"Liberation Sans", sans-serif' textLength="24.2" lengthAdjust="spacingAndGlyphs" stroke="#000" stroke-width="0.22">0.4%</text><text x="289.4" y="224" font-size="8.8" text-anchor="start" font-weight="normal" font-family='"Liberation Sans", sans-serif' textLength="38.5" lengthAdjust="spacingAndGlyphs" stroke="#000" stroke-width="0.22">MFI: 7.4</text><path d="M382.4 241.2H384V233.6H385.6V218.5H387.2V212.2H388.8V204.8H390.4V191.1H392V181.4H393.8V166.8H395.6V156.5H397V150.3H398.3V145.8H399.9V147H401.5V144.4H403.1V144.4H404.7V144.4H406.3V149.2H407.9V144.5H409.5V144.4H410.8V152.2H412V164.3H413.2V178.7H414.5V189.2H416V192.5H417.5V208H419V205.7H420.5V213.2H422V217H423.5V223.3H425V225.6H427V231.5H429V238.8H430.7V239.2H432.3V242.1H434V245H435.5V245.6H437V247.9H438.5V248.7H440V250.7H441.7V251.1H443.3V251.8H445V251H446.7V252.5H448.3V253.1H450V254.8V256.5H382.4Z" fill="#c3c3c3" stroke="#000" stroke-width="1.3"/><path d="M378 243.9H379.5V247.6H380.8V253.8H382.4V241.2H384V233.6H385.6V218.5H387.2V212.2H388.8V204.8H390.4V191.1H392V181.4H393.8V166.8H395.6V156.5H397V150.3H398.3V145.8H399.9V147H401.5V144.4H403.1V144.4H404.7V144.4H406.3V149.2H407.9V144.5H409.5V144.4H410.8V152.2H412V164.3H413.2V178.7H414.5V189.2H416V192.5H417.5V208H419V205.7H420.5V213.2H422V217H423.5V223.3H425V225.6H427V231.5H429V238.8H430.7V239.2H432.3V242.1H434V245H435.5V245.6H437V247.9H438.5V248.7H440V250.7H441.7V251.1H443.3V251.8H445V251H446.7V252.5H448.3V253.1H450V254.8H451.7V253H453.3V252.7H455V253.8H456.7V254.3H458.3V255.3H460V255.4H461.6V255.2H463.2V254.5H464.7V254.6H466.3V254.8H467.9V255.5H469.5V255.6H471.1V255.4H472.6V255H474.2V255.5H475.8V255.2H477.4V255.1H479V255.7H480.5V253.8H482.1V255.5H483.7V254.6H485.3V255H486.8V255H488.4V254.7H490V254.9H491.6V254.9H493.2V254.9H494.7V254.5H496.3V254.9H497.9V255.6H499.5V255.6H501.1V253.9H502.6V254.4H504.2V254.7H505.8V255" fill="none" stroke="#000" stroke-width="3.2" stroke-linejoin="miter" stroke-miterlimit="2"/><rect x="378" y="144.4" width="127.8" height="112.1" fill="none" stroke="#000" stroke-width="1.3"/><path d="M378 256.5H505.8" stroke="#000" stroke-width="2"/><path d="M378 256.5h-4.8M378 253.7h-2.5M378 250.9h-2.5M378 248.1h-2.5M378 245.3h-2.5M378 242.5h-4.8M378 239.7h-2.5M378 236.9h-2.5M378 234.1h-2.5M378 231.3h-2.5M378 228.5h-4.8M378 225.7h-2.5M378 222.9h-2.5M378 220.1h-2.5M378 217.3h-2.5M378 214.5h-4.8M378 211.7h-2.5M378 208.9h-2.5M378 206.1h-2.5M378 203.3h-2.5M378 200.4h-4.8M378 197.6h-2.5M378 194.8h-2.5M378 192h-2.5M378 189.2h-2.5M378 186.4h-4.8M378 183.6h-2.5M378 180.8h-2.5M378 178h-2.5M378 175.2h-2.5M378 172.4h-4.8M378 169.6h-2.5M378 166.8h-2.5M378 164h-2.5M378 161.2h-2.5M378 158.4h-4.8M378 155.6h-2.5M378 152.8h-2.5M378 150h-2.5M378 147.2h-2.5M378 144.4h-4.8" stroke="#000" stroke-width="1" fill="none"/><text transform="translate(369,254.8) rotate(-90)" font-size="9.6" text-anchor="middle" font-family='"Liberation Sans", sans-serif' stroke="#000" stroke-width="0.32">0</text><text transform="translate(369,240.8) rotate(-90)" font-size="9.6" text-anchor="middle" font-family='"Liberation Sans", sans-serif' stroke="#000" stroke-width="0.32">10</text><text transform="translate(369,226.8) rotate(-90)" font-size="9.6" text-anchor="middle" font-family='"Liberation Sans", sans-serif' stroke="#000" stroke-width="0.32">20</text><text transform="translate(369,212.8) rotate(-90)" font-size="9.6" text-anchor="middle" font-family='"Liberation Sans", sans-serif' stroke="#000" stroke-width="0.32">30</text><text transform="translate(369,198.8) rotate(-90)" font-size="9.6" text-anchor="middle" font-family='"Liberation Sans", sans-serif' stroke="#000" stroke-width="0.32">40</text><text transform="translate(369,184.7) rotate(-90)" font-size="9.6" text-anchor="middle" font-family='"Liberation Sans", sans-serif' stroke="#000" stroke-width="0.32">50</text><text transform="translate(369,170.7) rotate(-90)" font-size="9.6" text-anchor="middle" font-family='"Liberation Sans", sans-serif' stroke="#000" stroke-width="0.32">60</text><text transform="translate(369,156.7) rotate(-90)" font-size="9.6" text-anchor="middle" font-family='"Liberation Sans", sans-serif' stroke="#000" stroke-width="0.32">70</text><text transform="translate(369,142.7) rotate(-90)" font-size="9.6" text-anchor="middle" font-family='"Liberation Sans", sans-serif' stroke="#000" stroke-width="0.32">80</text><path d="M378 256.5v4.8M387.6 256.5v2.8M393.2 256.5v2.8M397.2 256.5v2.8M400.3 256.5v2.8M402.9 256.5v2.8M405 256.5v2.8M406.9 256.5v2.8M408.5 256.5v2.8M409.9 256.5v4.8M419.6 256.5v2.8M425.2 256.5v2.8M429.2 256.5v2.8M432.3 256.5v2.8M434.8 256.5v2.8M437 256.5v2.8M438.8 256.5v2.8M440.4 256.5v2.8M441.9 256.5v4.8M451.5 256.5v2.8M457.1 256.5v2.8M461.1 256.5v2.8M464.2 256.5v2.8M466.8 256.5v2.8M468.9 256.5v2.8M470.8 256.5v2.8M472.4 256.5v2.8M473.9 256.5v4.8M483.5 256.5v2.8M489.1 256.5v2.8M493.1 256.5v2.8M496.2 256.5v2.8M498.7 256.5v2.8M500.9 256.5v2.8M502.7 256.5v2.8M504.3 256.5v2.8M505.8 256.5v4.8" stroke="#000" stroke-width="1" fill="none"/><text x="377.2" y="272.8" font-size="9.4" text-anchor="middle" font-family='"Liberation Sans", sans-serif' stroke="#000" stroke-width="0.3">10</text><text x="385.4" y="267" font-size="9.4" text-anchor="middle" font-family='"Liberation Sans", sans-serif' stroke="#000" stroke-width="0.3">0</text><text x="409.1" y="272.8" font-size="9.4" text-anchor="middle" font-family='"Liberation Sans", sans-serif' stroke="#000" stroke-width="0.3">10</text><text x="417.3" y="267" font-size="9.4" text-anchor="middle" font-family='"Liberation Sans", sans-serif' stroke="#000" stroke-width="0.3">1</text><text x="441.1" y="272.8" font-size="9.4" text-anchor="middle" font-family='"Liberation Sans", sans-serif' stroke="#000" stroke-width="0.3">10</text><text x="449.3" y="267" font-size="9.4" text-anchor="middle" font-family='"Liberation Sans", sans-serif' stroke="#000" stroke-width="0.3">2</text><text x="473.1" y="272.8" font-size="9.4" text-anchor="middle" font-family='"Liberation Sans", sans-serif' stroke="#000" stroke-width="0.3">10</text><text x="481.2" y="267" font-size="9.4" text-anchor="middle" font-family='"Liberation Sans", sans-serif' stroke="#000" stroke-width="0.3">3</text><text x="505" y="272.8" font-size="9.4" text-anchor="middle" font-family='"Liberation Sans", sans-serif' stroke="#000" stroke-width="0.3">10</text><text x="513.2" y="267" font-size="9.4" text-anchor="middle" font-family='"Liberation Sans", sans-serif' stroke="#000" stroke-width="0.3">4</text><text x="413.8" y="157" font-size="8.3" text-anchor="start" font-weight="normal" font-family='"Liberation Sans", sans-serif' textLength="86.6" lengthAdjust="spacingAndGlyphs" stroke="#000" stroke-width="0.3">chDap10-IRES-GFP</text><path d="M429.8 208.6H501.9M429.8 199V217.2M501.9 199V217.2" stroke="#000" stroke-width="1.3" fill="none"/><text x="453.8" y="200.9" font-size="9.4" text-anchor="start" font-weight="normal" font-family='"Liberation Sans", sans-serif' textLength="25.8" lengthAdjust="spacingAndGlyphs" stroke="#000" stroke-width="0.22">0.3%</text><text x="443.7" y="221" font-size="8.8" text-anchor="start" font-weight="normal" font-family='"Liberation Sans", sans-serif' textLength="40.3" lengthAdjust="spacingAndGlyphs" stroke="#000" stroke-width="0.22">MFI: 6.9</text><path d="M74.8 397.6H75.9V391.2H77V384.6H78V373.6H79V363.4H80V356.7H81V343.1H82V323.1H83V309.5H84V304.7H85V286.4H86V293.3H87V286.9H88.5V285.6H90V285.6H91V285.6H92V294.8H93V293.7H94V298.4H95V306H96V320.9H97.5V323.7H99V327.9H100V331.6H101V336.9H102V325.8H103V341.4H104.5V347.7H106V363.7H107.3V366.1H108.7V370.2H110V373H111.3V378.5H112.5V385H113.8V388.5H114.8V389.2H115.9V390.7H117V390.5H118V393H119.2V394.3H120.4V394H121.6V394.1H122.8V395H124V396.8H125.2V396.7H126.4V396.7H127.6V397H128.8V397.3H130V397.7V397.7H74.8Z" fill="#c3c3c3" stroke="#000" stroke-width="1.3"/><path d="M66.2 388.1H68.1V390H70V394.7H71.7V393.8H73.3V392.9H75V394H76.7V395.2H78.3V393.6H80V396.2H81.7V395H83.3V394.2H85V396.1H86.7V393.8H88.3V393.4H90V393.8H91.8V394.1H93.5V392H95.2V392.2H97V392.4H98.7V391.9H100.3V392.1H102V387.2H103.9V389H105.8V385.2H107.2V379.9H108.6V382.3H110V372.9H111.9V367.2H113.8V361.9H115.4V361.8H117V355.8H119V348.9H120.5V351.3H122V350.8H123.5V352.9H125V353.7H126.7V354.8H128.3V352.3H130V355.1H131.7V350.6H133.3V352H135V350.2H136.7V349.4H138.3V352H140V354.7H141.7V346H143.3V352.8H145V346.6H146.6V351.6H148.2V358H149.9V346H151.5V353.7H153.1V355.4H154.8V352.7H156.4V351.3H158V353.6H159.7V359.5H161.3V361.3H163V362.9H164.6V359.9H166.1V363.6H167.7V371.2H169.1V368.9H170.6V372.1H172V372.9H174V371.1H176V377.7H177.7V377.3H179.3V382.3H181V379H182.7V381.5H184.3V386.4H186V386.9H187.7V387.2H189.3V389.7H191V390" fill="none" stroke="#000" stroke-width="2.6" stroke-linejoin="miter" stroke-miterlimit="2"/><rect x="66.2" y="285.6" width="124.8" height="112.1" fill="none" stroke="#000" stroke-width="1.3"/><path d="M66.2 397.7H191" stroke="#000" stroke-width="2"/><path d="M66.2 397.7h-4.8M66.2 394.9h-2.5M66.2 392.1h-2.5M66.2 389.3h-2.5M66.2 386.5h-2.5M66.2 383.7h-4.8M66.2 380.9h-2.5M66.2 378.1h-2.5M66.2 375.3h-2.5M66.2 372.5h-2.5M66.2 369.7h-4.8M66.2 366.9h-2.5M66.2 364.1h-2.5M66.2 361.3h-2.5M66.2 358.5h-2.5M66.2 355.7h-4.8M66.2 352.9h-2.5M66.2 350.1h-2.5M66.2 347.3h-2.5M66.2 344.5h-2.5M66.2 341.7h-4.8M66.2 338.8h-2.5M66.2 336h-2.5M66.2 333.2h-2.5M66.2 330.4h-2.5M66.2 327.6h-4.8M66.2 324.8h-2.5M66.2 322h-2.5M66.2 319.2h-2.5M66.2 316.4h-2.5M66.2 313.6h-4.8M66.2 310.8h-2.5M66.2 308h-2.5M66.2 305.2h-2.5M66.2 302.4h-2.5M66.2 299.6h-4.8M66.2 296.8h-2.5M66.2 294h-2.5M66.2 291.2h-2.5M66.2 288.4h-2.5M66.2 285.6h-4.8" stroke="#000" stroke-width="1" fill="none"/><text transform="translate(57.1,396) rotate(-90)" font-size="9.6" text-anchor="middle" font-family='"Liberation Sans", sans-serif' stroke="#000" stroke-width="0.32">0</text><text transform="translate(57.1,382) rotate(-90)" font-size="9.6" text-anchor="middle" font-family='"Liberation Sans", sans-serif' stroke="#000" stroke-width="0.32">10</text><text transform="translate(57.1,368) rotate(-90)" font-size="9.6" text-anchor="middle" font-family='"Liberation Sans", sans-serif' stroke="#000" stroke-width="0.32">20</text><text transform="translate(57.1,354) rotate(-90)" font-size="9.6" text-anchor="middle" font-family='"Liberation Sans", sans-serif' stroke="#000" stroke-width="0.32">30</text><text transform="translate(57.1,340) rotate(-90)" font-size="9.6" text-anchor="middle" font-family='"Liberation Sans", sans-serif' stroke="#000" stroke-width="0.32">40</text><text transform="translate(57.1,325.9) rotate(-90)" font-size="9.6" text-anchor="middle" font-family='"Liberation Sans", sans-serif' stroke="#000" stroke-width="0.32">50</text><text transform="translate(57.1,311.9) rotate(-90)" font-size="9.6" text-anchor="middle" font-family='"Liberation Sans", sans-serif' stroke="#000" stroke-width="0.32">60</text><text transform="translate(57.1,297.9) rotate(-90)" font-size="9.6" text-anchor="middle" font-family='"Liberation Sans", sans-serif' stroke="#000" stroke-width="0.32">70</text><text transform="translate(57.1,283.9) rotate(-90)" font-size="9.6" text-anchor="middle" font-family='"Liberation Sans", sans-serif' stroke="#000" stroke-width="0.32">80</text><path d="M66.2 397.7v4.8M75.6 397.7v2.8M81.1 397.7v2.8M85 397.7v2.8M88 397.7v2.8M90.5 397.7v2.8M92.6 397.7v2.8M94.4 397.7v2.8M96 397.7v2.8M97.4 397.7v4.8M106.8 397.7v2.8M112.3 397.7v2.8M116.2 397.7v2.8M119.2 397.7v2.8M121.7 397.7v2.8M123.8 397.7v2.8M125.6 397.7v2.8M127.2 397.7v2.8M128.6 397.7v4.8M138 397.7v2.8M143.5 397.7v2.8M147.4 397.7v2.8M150.4 397.7v2.8M152.9 397.7v2.8M155 397.7v2.8M156.8 397.7v2.8M158.4 397.7v2.8M159.8 397.7v4.8M169.2 397.7v2.8M174.7 397.7v2.8M178.6 397.7v2.8M181.6 397.7v2.8M184.1 397.7v2.8M186.2 397.7v2.8M188 397.7v2.8M189.6 397.7v2.8M191 397.7v4.8" stroke="#000" stroke-width="1" fill="none"/><text x="65.4" y="414" font-size="9.4" text-anchor="middle" font-family='"Liberation Sans", sans-serif' stroke="#000" stroke-width="0.3">10</text><text x="73.6" y="408.2" font-size="9.4" text-anchor="middle" font-family='"Liberation Sans", sans-serif' stroke="#000" stroke-width="0.3">0</text><text x="96.6" y="414" font-size="9.4" text-anchor="middle" font-family='"Liberation Sans", sans-serif' stroke="#000" stroke-width="0.3">10</text><text x="104.8" y="408.2" font-size="9.4" text-anchor="middle" font-family='"Liberation Sans", sans-serif' stroke="#000" stroke-width="0.3">1</text><text x="127.8" y="414" font-size="9.4" text-anchor="middle" font-family='"Liberation Sans", sans-serif' stroke="#000" stroke-width="0.3">10</text><text x="136" y="408.2" font-size="9.4" text-anchor="middle" font-family='"Liberation Sans", sans-serif' stroke="#000" stroke-width="0.3">2</text><text x="159" y="414" font-size="9.4" text-anchor="middle" font-family='"Liberation Sans", sans-serif' stroke="#000" stroke-width="0.3">10</text><text x="167.2" y="408.2" font-size="9.4" text-anchor="middle" font-family='"Liberation Sans", sans-serif' stroke="#000" stroke-width="0.3">3</text><text x="190.2" y="414" font-size="9.4" text-anchor="middle" font-family='"Liberation Sans", sans-serif' stroke="#000" stroke-width="0.3">10</text><text x="198.4" y="408.2" font-size="9.4" text-anchor="middle" font-family='"Liberation Sans", sans-serif' stroke="#000" stroke-width="0.3">4</text><text x="100.4" y="300.2" font-size="8.3" text-anchor="start" font-weight="normal" font-family='"Liberation Sans", sans-serif' textLength="86.1" lengthAdjust="spacingAndGlyphs" stroke="#000" stroke-width="0.3">wtDap10-IRES-GFP</text><text x="142" y="309.8" font-size="8.5" text-anchor="middle" font-weight="bold" font-family='"Liberation Sans", sans-serif' stroke="#000" stroke-width="0.1">+</text><text x="124.6" y="319.8" font-size="8.3" text-anchor="start" font-weight="normal" font-family='"Liberation Sans", sans-serif' textLength="39.1" lengthAdjust="spacingAndGlyphs" stroke="#000" stroke-width="0.3">wtNKG2D</text><path d="M117.9 351.4H188.7M117.9 342V360.8M188.7 342V360.8" stroke="#000" stroke-width="1.3" fill="none"/><text x="145" y="344.6" font-size="8.8" text-anchor="start" font-weight="normal" font-family='"Liberation Sans", sans-serif' textLength="21.2" lengthAdjust="spacingAndGlyphs" stroke="#000" stroke-width="0.22">84%</text><text x="121.5" y="380" font-size="8.8" text-anchor="start" font-weight="normal" font-family='"Liberation Sans", sans-serif' textLength="41.5" lengthAdjust="spacingAndGlyphs" stroke="#000" stroke-width="0.22">MFI: 241</text><path d="M223.5 397H224.7V393.7H225.8V388.9H227V384.4H228.3V372.8H229.7V362.8H231V352H232.5V336.6H234V316.3H235.5V311.3H237V303.5H238.5V292.2H240V288H241.2V291.3H242.3V287H243.7V289.9H245V287.2H246.5V299.6H248V307.5H249.5V319.5H251V331.5H252V337.8H253V344.4H254.5V351.5H256V356.2H257.3V359.1H258.7V365.5H260V368.3H261.3V369.6H262.5V374.3H263.8V379.7H265.2V380.3H266.6V384.9H268V387.3H269.2V385.7H270.5V388.3H271.8V389.2H273V392.2H274.2V392.4H275.3V392.8H276.5V393.8H277.7V396.3H278.8V395.5H280V397V397H223.5Z" fill="#c3c3c3" stroke="#000" stroke-width="1.3"/><path d="M218 384.7H220V394.8H222V392H224V392.4H226V393.1H227.5V392.9H229V393.9H230.5V393.8H232V393.1H233.7V392.1H235.3V391.4H237V389.9H239V384.4H241V379.5H242.5V370.8H244V366.7H245.8V361.5H247.7V362.6H249.3V349.1H251V345.5H252.5V342.2H254V336.3H255.5V342.8H257V336.7H258.5V331.8H260.2V338.8H262V347.3H263.5V345H265V341.9H266.5V338.9H268V344.9H270V351.1H272V349.1H274V359.6H276V359.4H278V361.5H280V366.9H281.7V360.9H283.3V375.4H285V367.6H286.7V369.3H288.3V374.1H290V373.8H292V378.7H294V373H295.6V377.9H297.2V379.4H298.8V379.3H300.4V379H301.9V381.7H303.4V383.3H305V386.8H306.8V384.2H308.5V387.2H310.2V387.6H312V388.6H313.4V387.4H314.9V389.1H316.3V389.8H317.7V390.8H319.2V391H320.6V393.1H322.1V392.7H323.5V391.2H325V391.1H326.8V390.6H328.5V393.7H330.2V393.9H332V392.5H333.8V395.2H335.5V394.4H337.2V395.1H339V394.6H340.5V395.4H342V394.8H343.6V394H345.1V396.2H346.6V395" fill="none" stroke="#000" stroke-width="2.6" stroke-linejoin="miter" stroke-miterlimit="2"/><rect x="218" y="287" width="128.6" height="110" fill="none" stroke="#000" stroke-width="1.3"/><path d="M218 397H346.6" stroke="#000" stroke-width="2"/><path d="M218 397h-4.8M218 394.2h-2.5M218 391.5h-2.5M218 388.8h-2.5M218 386h-2.5M218 383.2h-4.8M218 380.5h-2.5M218 377.8h-2.5M218 375h-2.5M218 372.2h-2.5M218 369.5h-4.8M218 366.8h-2.5M218 364h-2.5M218 361.2h-2.5M218 358.5h-2.5M218 355.8h-4.8M218 353h-2.5M218 350.2h-2.5M218 347.5h-2.5M218 344.8h-2.5M218 342h-4.8M218 339.2h-2.5M218 336.5h-2.5M218 333.8h-2.5M218 331h-2.5M218 328.2h-4.8M218 325.5h-2.5M218 322.8h-2.5M218 320h-2.5M218 317.2h-2.5M218 314.5h-4.8M218 311.8h-2.5M218 309h-2.5M218 306.2h-2.5M218 303.5h-2.5M218 300.8h-4.8M218 298h-2.5M218 295.2h-2.5M218 292.5h-2.5M218 289.8h-2.5M218 287h-4.8" stroke="#000" stroke-width="1" fill="none"/><text transform="translate(209.5,395.3) rotate(-90)" font-size="9.6" text-anchor="middle" font-family='"Liberation Sans", sans-serif' stroke="#000" stroke-width="0.32">0</text><text transform="translate(209.5,381.6) rotate(-90)" font-size="9.6" text-anchor="middle" font-family='"Liberation Sans", sans-serif' stroke="#000" stroke-width="0.32">10</text><text transform="translate(209.5,367.8) rotate(-90)" font-size="9.6" text-anchor="middle" font-family='"Liberation Sans", sans-serif' stroke="#000" stroke-width="0.32">20</text><text transform="translate(209.5,354.1) rotate(-90)" font-size="9.6" text-anchor="middle" font-family='"Liberation Sans", sans-serif' stroke="#000" stroke-width="0.32">30</text><text transform="translate(209.5,340.3) rotate(-90)" font-size="9.6" text-anchor="middle" font-family='"Liberation Sans", sans-serif' stroke="#000" stroke-width="0.32">40</text><text transform="translate(209.5,326.6) rotate(-90)" font-size="9.6" text-anchor="middle" font-family='"Liberation Sans", sans-serif' stroke="#000" stroke-width="0.32">50</text><text transform="translate(209.5,312.8) rotate(-90)" font-size="9.6" text-anchor="middle" font-family='"Liberation Sans", sans-serif' stroke="#000" stroke-width="0.32">60</text><text transform="translate(209.5,299.1) rotate(-90)" font-size="9.6" text-anchor="middle" font-family='"Liberation Sans", sans-serif' stroke="#000" stroke-width="0.32">70</text><text transform="translate(209.5,285.3) rotate(-90)" font-size="9.6" text-anchor="middle" font-family='"Liberation Sans", sans-serif' stroke="#000" stroke-width="0.32">80</text><path d="M218 397v4.8M227.7 397v2.8M233.3 397v2.8M237.4 397v2.8M240.5 397v2.8M243 397v2.8M245.2 397v2.8M247 397v2.8M248.7 397v2.8M250.2 397v4.8M259.8 397v2.8M265.5 397v2.8M269.5 397v2.8M272.6 397v2.8M275.2 397v2.8M277.3 397v2.8M279.2 397v2.8M280.8 397v2.8M282.3 397v4.8M292 397v2.8M297.6 397v2.8M301.7 397v2.8M304.8 397v2.8M307.3 397v2.8M309.5 397v2.8M311.3 397v2.8M313 397v2.8M314.5 397v4.8M324.1 397v2.8M329.8 397v2.8M333.8 397v2.8M336.9 397v2.8M339.5 397v2.8M341.6 397v2.8M343.5 397v2.8M345.1 397v2.8M346.6 397v4.8" stroke="#000" stroke-width="1" fill="none"/><text x="217.2" y="413.3" font-size="9.4" text-anchor="middle" font-family='"Liberation Sans", sans-serif' stroke="#000" stroke-width="0.3">10</text><text x="225.4" y="407.5" font-size="9.4" text-anchor="middle" font-family='"Liberation Sans", sans-serif' stroke="#000" stroke-width="0.3">0</text><text x="249.3" y="413.3" font-size="9.4" text-anchor="middle" font-family='"Liberation Sans", sans-serif' stroke="#000" stroke-width="0.3">10</text><text x="257.6" y="407.5" font-size="9.4" text-anchor="middle" font-family='"Liberation Sans", sans-serif' stroke="#000" stroke-width="0.3">1</text><text x="281.5" y="413.3" font-size="9.4" text-anchor="middle" font-family='"Liberation Sans", sans-serif' stroke="#000" stroke-width="0.3">10</text><text x="289.7" y="407.5" font-size="9.4" text-anchor="middle" font-family='"Liberation Sans", sans-serif' stroke="#000" stroke-width="0.3">2</text><text x="313.7" y="413.3" font-size="9.4" text-anchor="middle" font-family='"Liberation Sans", sans-serif' stroke="#000" stroke-width="0.3">10</text><text x="321.9" y="407.5" font-size="9.4" text-anchor="middle" font-family='"Liberation Sans", sans-serif' stroke="#000" stroke-width="0.3">3</text><text x="345.8" y="413.3" font-size="9.4" text-anchor="middle" font-family='"Liberation Sans", sans-serif' stroke="#000" stroke-width="0.3">10</text><text x="354" y="407.5" font-size="9.4" text-anchor="middle" font-family='"Liberation Sans", sans-serif' stroke="#000" stroke-width="0.3">4</text><text x="254.4" y="298.8" font-size="8.3" text-anchor="start" font-weight="normal" font-family='"Liberation Sans", sans-serif' textLength="88.9" lengthAdjust="spacingAndGlyphs" stroke="#000" stroke-width="0.3">wtDap12-IRES-GFP</text><text x="297.5" y="308.8" font-size="8.5" text-anchor="middle" font-weight="bold" font-family='"Liberation Sans", sans-serif' stroke="#000" stroke-width="0.1">+</text><text x="274.6" y="319" font-size="8.3" text-anchor="start" font-weight="normal" font-family='"Liberation Sans", sans-serif' textLength="40.4" lengthAdjust="spacingAndGlyphs" stroke="#000" stroke-width="0.3">wtNKG2D</text><path d="M272 350.5H343.3M272 341V360M343.3 341V360" stroke="#000" stroke-width="1.3" fill="none"/><text x="295" y="346" font-size="8.8" text-anchor="start" font-weight="normal" font-family='"Liberation Sans", sans-serif' textLength="21.2" lengthAdjust="spacingAndGlyphs" stroke="#000" stroke-width="0.22">33%</text><text x="286.7" y="366.2" font-size="8.8" text-anchor="start" font-weight="normal" font-family='"Liberation Sans", sans-serif' textLength="45.8" lengthAdjust="spacingAndGlyphs" stroke="#000" stroke-width="0.22">MFI: 31.9</text><path d="M378 396.4H379.3V394.2H380.7V390.3H382V388H383.3V380.1H384.7V376.2H386V369.9H387.3V357.1H388.7V354H390V346.1H391.3V332.9H392.7V327.3H394V321.8H395.5V311.8H397V306.4H398.3V304.8H399.6V302.8H400.8V298.7H402V308.2H403.5V308.6H405V310.2H406.5V324.1H408V330.4H409.2V335.7H410.4V336.8H411.6V345.8H412.8V350.4H414V356.1H415.3V357.4H416.7V362.6H418V364H419.5V370.8H421V374.8H422.3V380.5H423.7V380H425V381.9H426.5V389H428V390.2H429.3V389.2H430.7V392.4H432V392.9H433.1V392.7H434.3V394.6H435.4V394.9H436.6V395.4H437.7V396H438.9V396.5H440V396.5V396.5H378Z" fill="#c3c3c3" stroke="#000" stroke-width="1.3"/><path d="M376.2 394.3H377.7V392.8H379.1V394.6H380.6V394.4H382.1V393.3H383.5V393.4H385V394H386.7V395.7H388.3V394.4H390V392.8H391.7V393.7H393.3V393.6H395V392.2H396.6V392.1H398.2V392.5H399.8V393.5H401.4V392.2H403V392H404.6V390H406.1V390.8H407.7V388.9H409.1V388.8H410.6V385.6H412V383.1H413.5V381.7H415V380.2H416.8V374.4H418.5V375.2H420.2V368H422V359.1H423.5V358.1H425V346.5H426.5V340H428V346.1H429.7V346H431.4V342.5H433.2V340.5H435V340H436.7V350.8H438.3V349.1H440V348.2H441.7V348.4H443.3V354H445V350H446.7V346.9H448.3V351.1H450V349.1H451.5V355.7H453V355.8H454.5V351H456V352.9H458V357.5H460V358.1H461.5V365.5H463V366.2H465V371.5H467V370.7H468.7V371.9H470.3V372.6H472V375.3H473.7V372.3H475.3V378.3H477V381.7H478.5V380.2H480V382.3H481.5V379.4H483V387.2H484.8V383.7H486.5V389.1H488.2V386.4H490V387.2H491.5V386H493V386.1H494.5V387H496V385.9H497.5V387.6H499V391H500.5V388.7H502V388.1H503.8V389.5H505.6V392.3H507.4V392" fill="none" stroke="#000" stroke-width="2.6" stroke-linejoin="miter" stroke-miterlimit="2"/><rect x="376.2" y="287" width="131.2" height="109.5" fill="none" stroke="#000" stroke-width="1.3"/><path d="M376.2 396.5H507.4" stroke="#000" stroke-width="2"/><path d="M376.2 396.5h-4.8M376.2 393.8h-2.5M376.2 391h-2.5M376.2 388.3h-2.5M376.2 385.6h-2.5M376.2 382.8h-4.8M376.2 380.1h-2.5M376.2 377.3h-2.5M376.2 374.6h-2.5M376.2 371.9h-2.5M376.2 369.1h-4.8M376.2 366.4h-2.5M376.2 363.6h-2.5M376.2 360.9h-2.5M376.2 358.2h-2.5M376.2 355.4h-4.8M376.2 352.7h-2.5M376.2 350h-2.5M376.2 347.2h-2.5M376.2 344.5h-2.5M376.2 341.8h-4.8M376.2 339h-2.5M376.2 336.3h-2.5M376.2 333.5h-2.5M376.2 330.8h-2.5M376.2 328.1h-4.8M376.2 325.3h-2.5M376.2 322.6h-2.5M376.2 319.9h-2.5M376.2 317.1h-2.5M376.2 314.4h-4.8M376.2 311.6h-2.5M376.2 308.9h-2.5M376.2 306.2h-2.5M376.2 303.4h-2.5M376.2 300.7h-4.8M376.2 297.9h-2.5M376.2 295.2h-2.5M376.2 292.5h-2.5M376.2 289.7h-2.5M376.2 287h-4.8" stroke="#000" stroke-width="1" fill="none"/><text transform="translate(367.2,394.8) rotate(-90)" font-size="9.6" text-anchor="middle" font-family='"Liberation Sans", sans-serif' stroke="#000" stroke-width="0.32">0</text><text transform="translate(367.2,381.1) rotate(-90)" font-size="9.6" text-anchor="middle" font-family='"Liberation Sans", sans-serif' stroke="#000" stroke-width="0.32">10</text><text transform="translate(367.2,367.4) rotate(-90)" font-size="9.6" text-anchor="middle" font-family='"Liberation Sans", sans-serif' stroke="#000" stroke-width="0.32">20</text><text transform="translate(367.2,353.7) rotate(-90)" font-size="9.6" text-anchor="middle" font-family='"Liberation Sans", sans-serif' stroke="#000" stroke-width="0.32">30</text><text transform="translate(367.2,340.1) rotate(-90)" font-size="9.6" text-anchor="middle" font-family='"Liberation Sans", sans-serif' stroke="#000" stroke-width="0.32">40</text><text transform="translate(367.2,326.4) rotate(-90)" font-size="9.6" text-anchor="middle" font-family='"Liberation Sans", sans-serif' stroke="#000" stroke-width="0.32">50</text><text transform="translate(367.2,312.7) rotate(-90)" font-size="9.6" text-anchor="middle" font-family='"Liberation Sans", sans-serif' stroke="#000" stroke-width="0.32">60</text><text transform="translate(367.2,299) rotate(-90)" font-size="9.6" text-anchor="middle" font-family='"Liberation Sans", sans-serif' stroke="#000" stroke-width="0.32">70</text><text transform="translate(367.2,285.3) rotate(-90)" font-size="9.6" text-anchor="middle" font-family='"Liberation Sans", sans-serif' stroke="#000" stroke-width="0.32">80</text><path d="M376.2 396.5v4.8M386.1 396.5v2.8M391.8 396.5v2.8M395.9 396.5v2.8M399.1 396.5v2.8M401.7 396.5v2.8M403.9 396.5v2.8M405.8 396.5v2.8M407.5 396.5v2.8M409 396.5v4.8M418.9 396.5v2.8M424.6 396.5v2.8M428.7 396.5v2.8M431.9 396.5v2.8M434.5 396.5v2.8M436.7 396.5v2.8M438.6 396.5v2.8M440.3 396.5v2.8M441.8 396.5v4.8M451.7 396.5v2.8M457.4 396.5v2.8M461.5 396.5v2.8M464.7 396.5v2.8M467.3 396.5v2.8M469.5 396.5v2.8M471.4 396.5v2.8M473.1 396.5v2.8M474.6 396.5v4.8M484.5 396.5v2.8M490.2 396.5v2.8M494.3 396.5v2.8M497.5 396.5v2.8M500.1 396.5v2.8M502.3 396.5v2.8M504.2 396.5v2.8M505.9 396.5v2.8M507.4 396.5v4.8" stroke="#000" stroke-width="1" fill="none"/><text x="375.4" y="412.8" font-size="9.4" text-anchor="middle" font-family='"Liberation Sans", sans-serif' stroke="#000" stroke-width="0.3">10</text><text x="383.6" y="407" font-size="9.4" text-anchor="middle" font-family='"Liberation Sans", sans-serif' stroke="#000" stroke-width="0.3">0</text><text x="408.2" y="412.8" font-size="9.4" text-anchor="middle" font-family='"Liberation Sans", sans-serif' stroke="#000" stroke-width="0.3">10</text><text x="416.4" y="407" font-size="9.4" text-anchor="middle" font-family='"Liberation Sans", sans-serif' stroke="#000" stroke-width="0.3">1</text><text x="441" y="412.8" font-size="9.4" text-anchor="middle" font-family='"Liberation Sans", sans-serif' stroke="#000" stroke-width="0.3">10</text><text x="449.2" y="407" font-size="9.4" text-anchor="middle" font-family='"Liberation Sans", sans-serif' stroke="#000" stroke-width="0.3">2</text><text x="473.8" y="412.8" font-size="9.4" text-anchor="middle" font-family='"Liberation Sans", sans-serif' stroke="#000" stroke-width="0.3">10</text><text x="482" y="407" font-size="9.4" text-anchor="middle" font-family='"Liberation Sans", sans-serif' stroke="#000" stroke-width="0.3">3</text><text x="506.6" y="412.8" font-size="9.4" text-anchor="middle" font-family='"Liberation Sans", sans-serif' stroke="#000" stroke-width="0.3">10</text><text x="514.8" y="407" font-size="9.4" text-anchor="middle" font-family='"Liberation Sans", sans-serif' stroke="#000" stroke-width="0.3">4</text><text x="409.5" y="297.5" font-size="8.3" text-anchor="start" font-weight="normal" font-family='"Liberation Sans", sans-serif' textLength="88" lengthAdjust="spacingAndGlyphs" stroke="#000" stroke-width="0.3">chDap10-IRES-GFP</text><text x="450.8" y="307.8" font-size="8.5" text-anchor="middle" font-weight="bold" font-family='"Liberation Sans", sans-serif' stroke="#000" stroke-width="0.1">+</text><text x="431" y="317.8" font-size="8.3" text-anchor="start" font-weight="normal" font-family='"Liberation Sans", sans-serif' textLength="42" lengthAdjust="spacingAndGlyphs" stroke="#000" stroke-width="0.3">wtNKG2D</text><path d="M436 351.7H504M436 341V360.4M504 341V360.4" stroke="#000" stroke-width="1.3" fill="none"/><text x="454.4" y="344.3" font-size="8.8" text-anchor="start" font-weight="normal" font-family='"Liberation Sans", sans-serif' textLength="21.2" lengthAdjust="spacingAndGlyphs" stroke="#000" stroke-width="0.22">85%</text><text x="433.3" y="387.6" font-size="8.8" text-anchor="start" font-weight="normal" font-family='"Liberation Sans", sans-serif' textLength="43.1" lengthAdjust="spacingAndGlyphs" stroke="#000" stroke-width="0.22">MFI: 364</text><path d="M68 535.5H69.3V532.7H70.7V528H72V525H73.1V518.9H74.2V516.7H75.3V512.2H76.4V504.1H77.5V504.5H78.7V496.9H79.8V484.6H81V479H82.1V476.1H83.1V468.4H84.2V464.7H85.3V455.7H86.5V446.2H88.3V431.3H90V442.3H91V443H92V445.1H93.5V456.6H95V460.4H96.3V462.6H97.7V460.2H98.8V469H99.9V472.9H101V478.1H102.2V479.5H103.4V485.4H104.6V486.7H105.8V494H106.9V498H107.9V505.6H109V505H110.2V507.3H111.4V516.8H112.6V518.2H113.8V518.2H114.8V523.1H115.9V523.8H117V524.7H118V528.9H119.3V529.7H120.6V530.7H122V531.8H123.3V533.3H124.6V532.4H125.7V531.8H126.8V533.3H127.8V533.4H128.9V535.2H130V535.6V535.6H68Z" fill="#c3c3c3" stroke="#000" stroke-width="1.3"/><path d="M65.5 530.3H67V530.4H68.5V532.5H70V531.4H71.7V531.7H73.3V532H75V532.2H76.7V532.8H78.3V531.6H80V532.1H81.7V530.5H83.3V532.1H85V532.2H86.7V531.3H88.3V531.2H90V531.2H91.7V530.1H93.3V529.3H95V527.7H96.7V525.8H98.3V524.8H100V521.7H101.7V518.1H103.5V521.1H105.2V516.7H106.9V515.5H108.7V515.5H110.4V509H112.1V505.4H113.8V502.2H115.5V502.3H117.3V500.6H119V495.1H120.8V496.5H122.1V494.8H123.4V490.1H124.7V490.9H126V495.3H127.2V501.6H128.5V497.8H129.8V505.5H131.1V504.1H132.4V502.5H133.7V498.6H135V489.8H136.3V488.2H138.1V491.5H139.8V489.8H141.4V488.1H142.9V482.7H144.4V483.2H145.8V493.9H147.6V496.4H149.3V496.2H150.6V495.8H151.9V494.9H153.7V495H155.4V488.5H156.7V488.8H158V492H159.7V495.2H161.4V497.4H162.7V505.1H164V501.7H165.3V507.2H166.6V509.4H167.9V509.6H169.2V510.6H170.9V515.8H172.7V514.1H174.4V517.1H176.1V516.9H177.8V516.8H179.6V517.6H181.3V523.7H183V522.8H184.8V525.8H186.5V526H187.8V524.8H189V525" fill="none" stroke="#000" stroke-width="2.6" stroke-linejoin="miter" stroke-miterlimit="2"/><rect x="65.5" y="424" width="123.5" height="111.6" fill="none" stroke="#000" stroke-width="1.3"/><path d="M65.5 535.6H189" stroke="#000" stroke-width="2"/><path d="M65.5 535.6h-4.8M65.5 531.1h-2.5M65.5 526.7h-2.5M65.5 522.2h-2.5M65.5 517.7h-2.5M65.5 513.3h-4.8M65.5 508.8h-2.5M65.5 504.4h-2.5M65.5 499.9h-2.5M65.5 495.4h-2.5M65.5 491h-4.8M65.5 486.5h-2.5M65.5 482h-2.5M65.5 477.6h-2.5M65.5 473.1h-2.5M65.5 468.6h-4.8M65.5 464.2h-2.5M65.5 459.7h-2.5M65.5 455.2h-2.5M65.5 450.8h-2.5M65.5 446.3h-4.8M65.5 441.9h-2.5M65.5 437.4h-2.5M65.5 432.9h-2.5M65.5 428.5h-2.5M65.5 424h-4.8" stroke="#000" stroke-width="1" fill="none"/><text transform="translate(57.1,533.9) rotate(-90)" font-size="9.6" text-anchor="middle" font-family='"Liberation Sans", sans-serif' stroke="#000" stroke-width="0.32">0</text><text transform="translate(57.1,511.6) rotate(-90)" font-size="9.6" text-anchor="middle" font-family='"Liberation Sans", sans-serif' stroke="#000" stroke-width="0.32">10</text><text transform="translate(57.1,489.3) rotate(-90)" font-size="9.6" text-anchor="middle" font-family='"Liberation Sans", sans-serif' stroke="#000" stroke-width="0.32">20</text><text transform="translate(57.1,466.9) rotate(-90)" font-size="9.6" text-anchor="middle" font-family='"Liberation Sans", sans-serif' stroke="#000" stroke-width="0.32">30</text><text transform="translate(57.1,444.6) rotate(-90)" font-size="9.6" text-anchor="middle" font-family='"Liberation Sans", sans-serif' stroke="#000" stroke-width="0.32">40</text><text transform="translate(57.1,422.3) rotate(-90)" font-size="9.6" text-anchor="middle" font-family='"Liberation Sans", sans-serif' stroke="#000" stroke-width="0.32">50</text><path d="M65.5 535.6v4.8M74.8 535.6v2.8M80.2 535.6v2.8M84.1 535.6v2.8M87.1 535.6v2.8M89.5 535.6v2.8M91.6 535.6v2.8M93.4 535.6v2.8M95 535.6v2.8M96.4 535.6v4.8M105.7 535.6v2.8M111.1 535.6v2.8M115 535.6v2.8M118 535.6v2.8M120.4 535.6v2.8M122.5 535.6v2.8M124.3 535.6v2.8M125.8 535.6v2.8M127.2 535.6v4.8M136.5 535.6v2.8M142 535.6v2.8M145.8 535.6v2.8M148.8 535.6v2.8M151.3 535.6v2.8M153.3 535.6v2.8M155.1 535.6v2.8M156.7 535.6v2.8M158.1 535.6v4.8M167.4 535.6v2.8M172.9 535.6v2.8M176.7 535.6v2.8M179.7 535.6v2.8M182.2 535.6v2.8M184.2 535.6v2.8M186 535.6v2.8M187.6 535.6v2.8M189 535.6v4.8" stroke="#000" stroke-width="1" fill="none"/><text x="64.7" y="551.9" font-size="9.4" text-anchor="middle" font-family='"Liberation Sans", sans-serif' stroke="#000" stroke-width="0.3">10</text><text x="72.9" y="546.1" font-size="9.4" text-anchor="middle" font-family='"Liberation Sans", sans-serif' stroke="#000" stroke-width="0.3">0</text><text x="95.6" y="551.9" font-size="9.4" text-anchor="middle" font-family='"Liberation Sans", sans-serif' stroke="#000" stroke-width="0.3">10</text><text x="103.8" y="546.1" font-size="9.4" text-anchor="middle" font-family='"Liberation Sans", sans-serif' stroke="#000" stroke-width="0.3">1</text><text x="126.5" y="551.9" font-size="9.4" text-anchor="middle" font-family='"Liberation Sans", sans-serif' stroke="#000" stroke-width="0.3">10</text><text x="134.7" y="546.1" font-size="9.4" text-anchor="middle" font-family='"Liberation Sans", sans-serif' stroke="#000" stroke-width="0.3">2</text><text x="157.3" y="551.9" font-size="9.4" text-anchor="middle" font-family='"Liberation Sans", sans-serif' stroke="#000" stroke-width="0.3">10</text><text x="165.5" y="546.1" font-size="9.4" text-anchor="middle" font-family='"Liberation Sans", sans-serif' stroke="#000" stroke-width="0.3">3</text><text x="188.2" y="551.9" font-size="9.4" text-anchor="middle" font-family='"Liberation Sans", sans-serif' stroke="#000" stroke-width="0.3">10</text><text x="196.4" y="546.1" font-size="9.4" text-anchor="middle" font-family='"Liberation Sans", sans-serif' stroke="#000" stroke-width="0.3">4</text><text x="93.7" y="435.2" font-size="8.3" text-anchor="start" font-weight="normal" font-family='"Liberation Sans", sans-serif' textLength="91.5" lengthAdjust="spacingAndGlyphs" stroke="#000" stroke-width="0.3">wtNKG2D-IRES-GFP</text><text x="140.8" y="444.8" font-size="8.5" text-anchor="middle" font-weight="bold" font-family='"Liberation Sans", sans-serif' stroke="#000" stroke-width="0.1">+</text><text x="124.6" y="455.4" font-size="8.3" text-anchor="start" font-weight="normal" font-family='"Liberation Sans", sans-serif' textLength="33.7" lengthAdjust="spacingAndGlyphs" stroke="#000" stroke-width="0.3">wtDap10</text><path d="M116.5 487.7H186.5M116.5 478V497M186.5 478V497" stroke="#000" stroke-width="1.3" fill="none"/><text x="139.6" y="475.6" font-size="8.8" text-anchor="start" font-weight="normal" font-family='"Liberation Sans", sans-serif' textLength="21.2" lengthAdjust="spacingAndGlyphs" stroke="#000" stroke-width="0.22">75%</text><text x="124.6" y="526.7" font-size="8.8" text-anchor="start" font-weight="normal" font-family='"Liberation Sans", sans-serif' textLength="43.1" lengthAdjust="spacingAndGlyphs" stroke="#000" stroke-width="0.22">MFI: 143</text><path d="M219.4 535H220.7V527.9H222V518.9H223.3V515.2H224.7V511.2H226V503.9H227.3V491H228.7V483H230V473.8H231.3V453.1H232.7V451.2H234V441H235V440.3H236V427.5H237.2V422H238.3V427.3H239.4V424.5H240.6V422H241.7V422H242.9V422H244V422H245.2V427.2H246.3V424.7H247.7V425.7H249V441.5H250.3V454H251.7V457.9H253V470.1H254.3V474.4H255.7V476.5H257V488H258.3V488.4H259.7V492.6H261V501.7H262.3V501.3H263.7V510.9H265V513.5H266.3V518.6H267.7V519.1H269V522.7H270.2V523.9H271.5V526H272.8V527H274V529.8H275.2V530.9H276.4V530.7H277.6V532H278.8V531.8H280V533.4H281.2V534H282.5V534.4H283.8V533.6H285V535V535H219.4Z" fill="#c3c3c3" stroke="#000" stroke-width="1.3"/><path d="M217.7 528H219.2V529.7H220.6V532.6H222.1V531.9H223.5V531H225V533H226.7V532.7H228.3V531.5H230V534.2H231.7V534.2H233.3V533.5H235V532.8H236.7V532.7H238.3V532.5H240V532.4H241.7V531.9H243.3V532H245V531.1H246.7V530.8H248.3V529.4H250V530.8H252V528.1H254V521.3H255.5V523.1H257V522H258.5V519.7H260.2V513.9H262V516.3H263.5V504.2H265V510.7H266.5V502.8H268.2V509.3H270V504.1H271.5V500.3H273.1V500.8H274.6V492.9H277V494.8H278.7V483.1H281V501.7H283V497.9H285V497.1H286.4V500.6H287.9V492.6H289.4V503H290.8V494.6H292.4V497.8H294V495H295.8V490.3H297.5V489H298.8V490.8H300V496.3H301.7V494H303.3V491.4H305V498.8H306.7V496.8H308.3V503.3H310V499.1H311.7V497.8H313.3V490.5H315V489.4H316.5V494.4H318V491.2H319.7V493.7H321.3V494.6H323V489.8H324.5V490.8H326V492.4H328V500.3H330V499.9H331.9V508.5H333.9V509.5H335.6V503.8H337.3V516.7H339V518.1H340.7V509.8H342.3V515.7H344V516.6H345.4V517.3H346.8V516H348.2V518" fill="none" stroke="#000" stroke-width="2.6" stroke-linejoin="miter" stroke-miterlimit="2"/><rect x="217.7" y="422" width="130.5" height="113" fill="none" stroke="#000" stroke-width="1.3"/><path d="M217.7 535H348.2" stroke="#000" stroke-width="2"/><path d="M217.7 535h-4.8M217.7 532.2h-2.5M217.7 529.4h-2.5M217.7 526.5h-2.5M217.7 523.7h-2.5M217.7 520.9h-4.8M217.7 518h-2.5M217.7 515.2h-2.5M217.7 512.4h-2.5M217.7 509.6h-2.5M217.7 506.8h-4.8M217.7 503.9h-2.5M217.7 501.1h-2.5M217.7 498.3h-2.5M217.7 495.4h-2.5M217.7 492.6h-4.8M217.7 489.8h-2.5M217.7 487h-2.5M217.7 484.1h-2.5M217.7 481.3h-2.5M217.7 478.5h-4.8M217.7 475.7h-2.5M217.7 472.9h-2.5M217.7 470h-2.5M217.7 467.2h-2.5M217.7 464.4h-4.8M217.7 461.6h-2.5M217.7 458.7h-2.5M217.7 455.9h-2.5M217.7 453.1h-2.5M217.7 450.2h-4.8M217.7 447.4h-2.5M217.7 444.6h-2.5M217.7 441.8h-2.5M217.7 438.9h-2.5M217.7 436.1h-4.8M217.7 433.3h-2.5M217.7 430.5h-2.5M217.7 427.6h-2.5M217.7 424.8h-2.5M217.7 422h-4.8" stroke="#000" stroke-width="1" fill="none"/><text transform="translate(208.7,533.3) rotate(-90)" font-size="9.6" text-anchor="middle" font-family='"Liberation Sans", sans-serif' stroke="#000" stroke-width="0.32">0</text><text transform="translate(208.7,519.2) rotate(-90)" font-size="9.6" text-anchor="middle" font-family='"Liberation Sans", sans-serif' stroke="#000" stroke-width="0.32">10</text><text transform="translate(208.7,505.1) rotate(-90)" font-size="9.6" text-anchor="middle" font-family='"Liberation Sans", sans-serif' stroke="#000" stroke-width="0.32">20</text><text transform="translate(208.7,490.9) rotate(-90)" font-size="9.6" text-anchor="middle" font-family='"Liberation Sans", sans-serif' stroke="#000" stroke-width="0.32">30</text><text transform="translate(208.7,476.8) rotate(-90)" font-size="9.6" text-anchor="middle" font-family='"Liberation Sans", sans-serif' stroke="#000" stroke-width="0.32">40</text><text transform="translate(208.7,462.7) rotate(-90)" font-size="9.6" text-anchor="middle" font-family='"Liberation Sans", sans-serif' stroke="#000" stroke-width="0.32">50</text><text transform="translate(208.7,448.6) rotate(-90)" font-size="9.6" text-anchor="middle" font-family='"Liberation Sans", sans-serif' stroke="#000" stroke-width="0.32">60</text><text transform="translate(208.7,434.4) rotate(-90)" font-size="9.6" text-anchor="middle" font-family='"Liberation Sans", sans-serif' stroke="#000" stroke-width="0.32">70</text><text transform="translate(208.7,420.3) rotate(-90)" font-size="9.6" text-anchor="middle" font-family='"Liberation Sans", sans-serif' stroke="#000" stroke-width="0.32">80</text><path d="M217.7 535v4.8M227.5 535v2.8M233.3 535v2.8M237.3 535v2.8M240.5 535v2.8M243.1 535v2.8M245.3 535v2.8M247.2 535v2.8M248.8 535v2.8M250.3 535v4.8M260.1 535v2.8M265.9 535v2.8M270 535v2.8M273.1 535v2.8M275.7 535v2.8M277.9 535v2.8M279.8 535v2.8M281.5 535v2.8M282.9 535v4.8M292.8 535v2.8M298.5 535v2.8M302.6 535v2.8M305.8 535v2.8M308.3 535v2.8M310.5 535v2.8M312.4 535v2.8M314.1 535v2.8M315.6 535v4.8M325.4 535v2.8M331.1 535v2.8M335.2 535v2.8M338.4 535v2.8M341 535v2.8M343.1 535v2.8M345 535v2.8M346.7 535v2.8M348.2 535v4.8" stroke="#000" stroke-width="1" fill="none"/><text x="216.9" y="551.3" font-size="9.4" text-anchor="middle" font-family='"Liberation Sans", sans-serif' stroke="#000" stroke-width="0.3">10</text><text x="225.1" y="545.5" font-size="9.4" text-anchor="middle" font-family='"Liberation Sans", sans-serif' stroke="#000" stroke-width="0.3">0</text><text x="249.5" y="551.3" font-size="9.4" text-anchor="middle" font-family='"Liberation Sans", sans-serif' stroke="#000" stroke-width="0.3">10</text><text x="257.7" y="545.5" font-size="9.4" text-anchor="middle" font-family='"Liberation Sans", sans-serif' stroke="#000" stroke-width="0.3">1</text><text x="282.1" y="551.3" font-size="9.4" text-anchor="middle" font-family='"Liberation Sans", sans-serif' stroke="#000" stroke-width="0.3">10</text><text x="290.3" y="545.5" font-size="9.4" text-anchor="middle" font-family='"Liberation Sans", sans-serif' stroke="#000" stroke-width="0.3">2</text><text x="314.8" y="551.3" font-size="9.4" text-anchor="middle" font-family='"Liberation Sans", sans-serif' stroke="#000" stroke-width="0.3">10</text><text x="323" y="545.5" font-size="9.4" text-anchor="middle" font-family='"Liberation Sans", sans-serif' stroke="#000" stroke-width="0.3">3</text><text x="347.4" y="551.3" font-size="9.4" text-anchor="middle" font-family='"Liberation Sans", sans-serif' stroke="#000" stroke-width="0.3">10</text><text x="355.6" y="545.5" font-size="9.4" text-anchor="middle" font-family='"Liberation Sans", sans-serif' stroke="#000" stroke-width="0.3">4</text><text x="251.7" y="432.5" font-size="8.3" text-anchor="start" font-weight="normal" font-family='"Liberation Sans", sans-serif' textLength="92.9" lengthAdjust="spacingAndGlyphs" stroke="#000" stroke-width="0.3">chNKG2D-IRES-GFP</text><text x="298" y="442.8" font-size="8.5" text-anchor="middle" font-weight="bold" font-family='"Liberation Sans", sans-serif' stroke="#000" stroke-width="0.1">+</text><text x="281.4" y="454" font-size="8.3" text-anchor="start" font-weight="normal" font-family='"Liberation Sans", sans-serif' textLength="35" lengthAdjust="spacingAndGlyphs" stroke="#000" stroke-width="0.3">wtDap10</text><path d="M272 487.7H344.6M272 478V497M344.6 478V497" stroke="#000" stroke-width="1.3" fill="none"/><text x="295" y="477" font-size="8.8" text-anchor="start" font-weight="normal" font-family='"Liberation Sans", sans-serif' textLength="21.2" lengthAdjust="spacingAndGlyphs" stroke="#000" stroke-width="0.22">83%</text><text x="284" y="526.7" font-size="8.8" text-anchor="start" font-weight="normal" font-family='"Liberation Sans", sans-serif' textLength="42.3" lengthAdjust="spacingAndGlyphs" stroke="#000" stroke-width="0.22">MFI: 274</text><path d="M378 535.4H379.3V532.6H380.7V528.3H382V524.5H383.5V514.5H385V506.1H386.3V499.2H387.5V491H388.8V478.9H389.9V472.4H390.9V463.8H392V447.9H393.1V435.8H394.2V426.9H395.4V423.5H396.6V424.9H397.8V423.5H399V425.8H400.2V426.3H401.4V425.8H402.6V425.5H403.8V424.2H405V423.5H406V434.3H407V441.8H408.1V445.2H409.3V454.2H410.4V457.4H411.6V459.7H412.8V467.5H414V476.8H415.1V477.2H416.2V484.8H417.4V488.5H418.5V486.6H419.7V493.8H420.8V497.2H422V505.4H423.1V507.8H424.2V510.4H425.4V514.6H426.5V522.5H427.6V520.1H428.8V523H429.9V526.9H431V527.5H432.3V528.8H433.5V529.5H434.8V531.1H436V530.8H437.3V532.5H438.5V533.2H439.6V534.2H440.8V534.4H442V535.4V535.4H378Z" fill="#c3c3c3" stroke="#000" stroke-width="1.3"/><path d="M375.8 533H377.3V532H378.9V534.3H380.4V532.6H381.9V533.7H383.5V532.4H385V532.8H386.7V532.5H388.3V532.7H390V531.9H391.7V533.9H393.3V532.5H395V531.2H396.7V532.8H398.3V530.9H400V530.6H401.7V530.9H403.3V531.8H405V530H406.7V528.2H408.3V529.3H410V523H411.4V518.8H412.9V520.7H414.4V510.7H415.8V509.4H417.4V504.1H419V496.1H420.8V498H422.5V489.5H423.8V483.4H425V484.7H427.3V487.2H429.1V487.7H431V488.1H433V484H435V488.8H436.7V492.9H438.3V489.1H440V497.7H441.7V493.8H443.3V492.1H445V494H446.7V485.2H448.3V499.4H450V486.8H451.7V488.7H453.3V495.2H455V493.8H456.7V499.8H458.3V492.7H460V499H461.7V500H463.3V498.9H465V497.9H466.7V501.5H468.3V503.7H470V508.8H471.7V503.6H473.3V508.3H475V506.7H476.7V508.2H478.3V504.1H480V509H481.7V511.4H483.3V514H485V516.1H486.7V520.6H488.3V520.8H490V519.4H491.7V519.9H493.3V521.1H495V522.2H496.7V526.2H498.3V525.8H500V528.2H501.8V527.2H503.5V532.1H505.3V532" fill="none" stroke="#000" stroke-width="2.6" stroke-linejoin="miter" stroke-miterlimit="2"/><rect x="375.8" y="423.5" width="129.5" height="111.9" fill="none" stroke="#000" stroke-width="1.3"/><path d="M375.8 535.4H505.3" stroke="#000" stroke-width="2"/><path d="M375.8 535.4h-4.8M375.8 532.6h-2.5M375.8 529.8h-2.5M375.8 527h-2.5M375.8 524.2h-2.5M375.8 521.4h-4.8M375.8 518.6h-2.5M375.8 515.8h-2.5M375.8 513h-2.5M375.8 510.2h-2.5M375.8 507.4h-4.8M375.8 504.6h-2.5M375.8 501.8h-2.5M375.8 499h-2.5M375.8 496.2h-2.5M375.8 493.4h-4.8M375.8 490.6h-2.5M375.8 487.8h-2.5M375.8 485h-2.5M375.8 482.2h-2.5M375.8 479.4h-4.8M375.8 476.7h-2.5M375.8 473.9h-2.5M375.8 471.1h-2.5M375.8 468.3h-2.5M375.8 465.5h-4.8M375.8 462.7h-2.5M375.8 459.9h-2.5M375.8 457.1h-2.5M375.8 454.3h-2.5M375.8 451.5h-4.8M375.8 448.7h-2.5M375.8 445.9h-2.5M375.8 443.1h-2.5M375.8 440.3h-2.5M375.8 437.5h-4.8M375.8 434.7h-2.5M375.8 431.9h-2.5M375.8 429.1h-2.5M375.8 426.3h-2.5M375.8 423.5h-4.8" stroke="#000" stroke-width="1" fill="none"/><text transform="translate(367.6,533.7) rotate(-90)" font-size="9.6" text-anchor="middle" font-family='"Liberation Sans", sans-serif' stroke="#000" stroke-width="0.32">0</text><text transform="translate(367.6,519.7) rotate(-90)" font-size="9.6" text-anchor="middle" font-family='"Liberation Sans", sans-serif' stroke="#000" stroke-width="0.32">10</text><text transform="translate(367.6,505.7) rotate(-90)" font-size="9.6" text-anchor="middle" font-family='"Liberation Sans", sans-serif' stroke="#000" stroke-width="0.32">20</text><text transform="translate(367.6,491.7) rotate(-90)" font-size="9.6" text-anchor="middle" font-family='"Liberation Sans", sans-serif' stroke="#000" stroke-width="0.32">30</text><text transform="translate(367.6,477.8) rotate(-90)" font-size="9.6" text-anchor="middle" font-family='"Liberation Sans", sans-serif' stroke="#000" stroke-width="0.32">40</text><text transform="translate(367.6,463.8) rotate(-90)" font-size="9.6" text-anchor="middle" font-family='"Liberation Sans", sans-serif' stroke="#000" stroke-width="0.32">50</text><text transform="translate(367.6,449.8) rotate(-90)" font-size="9.6" text-anchor="middle" font-family='"Liberation Sans", sans-serif' stroke="#000" stroke-width="0.32">60</text><text transform="translate(367.6,435.8) rotate(-90)" font-size="9.6" text-anchor="middle" font-family='"Liberation Sans", sans-serif' stroke="#000" stroke-width="0.32">70</text><text transform="translate(367.6,421.8) rotate(-90)" font-size="9.6" text-anchor="middle" font-family='"Liberation Sans", sans-serif' stroke="#000" stroke-width="0.32">80</text><path d="M375.8 535.4v4.8M385.5 535.4v2.8M391.2 535.4v2.8M395.3 535.4v2.8M398.4 535.4v2.8M401 535.4v2.8M403.2 535.4v2.8M405 535.4v2.8M406.7 535.4v2.8M408.2 535.4v4.8M417.9 535.4v2.8M423.6 535.4v2.8M427.7 535.4v2.8M430.8 535.4v2.8M433.4 535.4v2.8M435.5 535.4v2.8M437.4 535.4v2.8M439.1 535.4v2.8M440.6 535.4v4.8M450.3 535.4v2.8M456 535.4v2.8M460 535.4v2.8M463.2 535.4v2.8M465.7 535.4v2.8M467.9 535.4v2.8M469.8 535.4v2.8M471.4 535.4v2.8M472.9 535.4v4.8M482.7 535.4v2.8M488.4 535.4v2.8M492.4 535.4v2.8M495.6 535.4v2.8M498.1 535.4v2.8M500.3 535.4v2.8M502.2 535.4v2.8M503.8 535.4v2.8M505.3 535.4v4.8" stroke="#000" stroke-width="1" fill="none"/><text x="375" y="551.7" font-size="9.4" text-anchor="middle" font-family='"Liberation Sans", sans-serif' stroke="#000" stroke-width="0.3">10</text><text x="383.2" y="545.9" font-size="9.4" text-anchor="middle" font-family='"Liberation Sans", sans-serif' stroke="#000" stroke-width="0.3">0</text><text x="407.4" y="551.7" font-size="9.4" text-anchor="middle" font-family='"Liberation Sans", sans-serif' stroke="#000" stroke-width="0.3">10</text><text x="415.6" y="545.9" font-size="9.4" text-anchor="middle" font-family='"Liberation Sans", sans-serif' stroke="#000" stroke-width="0.3">1</text><text x="439.8" y="551.7" font-size="9.4" text-anchor="middle" font-family='"Liberation Sans", sans-serif' stroke="#000" stroke-width="0.3">10</text><text x="447.9" y="545.9" font-size="9.4" text-anchor="middle" font-family='"Liberation Sans", sans-serif' stroke="#000" stroke-width="0.3">2</text><text x="472.1" y="551.7" font-size="9.4" text-anchor="middle" font-family='"Liberation Sans", sans-serif' stroke="#000" stroke-width="0.3">10</text><text x="480.3" y="545.9" font-size="9.4" text-anchor="middle" font-family='"Liberation Sans", sans-serif' stroke="#000" stroke-width="0.3">3</text><text x="504.5" y="551.7" font-size="9.4" text-anchor="middle" font-family='"Liberation Sans", sans-serif' stroke="#000" stroke-width="0.3">10</text><text x="512.7" y="545.9" font-size="9.4" text-anchor="middle" font-family='"Liberation Sans", sans-serif' stroke="#000" stroke-width="0.3">4</text><text x="413" y="432.5" font-size="8.3" text-anchor="start" font-weight="normal" font-family='"Liberation Sans", sans-serif' textLength="90.3" lengthAdjust="spacingAndGlyphs" stroke="#000" stroke-width="0.3">wtDap12-IRES-GFP</text><text x="458" y="442.8" font-size="8.5" text-anchor="middle" font-weight="bold" font-family='"Liberation Sans", sans-serif' stroke="#000" stroke-width="0.1">+</text><text x="433.3" y="452.7" font-size="8.3" text-anchor="start" font-weight="normal" font-family='"Liberation Sans", sans-serif' textLength="41.7" lengthAdjust="spacingAndGlyphs" stroke="#000" stroke-width="0.3">chNKG2D</text><path d="M428 487.7H502M428 478V497M502 478V497M456 481.7V491.7" stroke="#000" stroke-width="1.3" fill="none"/><text x="448.3" y="476.2" font-size="8.8" text-anchor="start" font-weight="normal" font-family='"Liberation Sans", sans-serif' textLength="21.2" lengthAdjust="spacingAndGlyphs" stroke="#000" stroke-width="0.22">75%</text><text x="438.7" y="526.7" font-size="8.8" text-anchor="start" font-weight="normal" font-family='"Liberation Sans", sans-serif' textLength="43" lengthAdjust="spacingAndGlyphs" stroke="#000" stroke-width="0.22">MFI: 171</text><text x="466.5" y="501.5" font-size="9" text-anchor="start" font-weight="normal" font-family='"Liberation Sans", sans-serif' textLength="13.5" lengthAdjust="spacingAndGlyphs" stroke="#000" stroke-width="0.1">M1</text><path d="M34.4 598V703M34.4 797V911M39.8 908.3H211.2M348.7 908.3H508" stroke="#000" stroke-width="1.7" fill="none"/><path d="M34.4 593L31.3 600.5H37.5Z" fill="#000"/><path d="M514 908.5L507.5 905.3V911.7Z" fill="#000"/><text transform="translate(40.8,749.9) rotate(-90)" font-size="16.5" font-weight="bold" text-anchor="middle" font-family='"Liberation Serif", serif' textLength="75.6" lengthAdjust="spacingAndGlyphs">CD4-FITC</text><text x="220.8" y="919.5" font-size="15.5" font-weight="bold" font-family='"Liberation Serif", serif' textLength="117" lengthAdjust="spacingAndGlyphs">Anti-NKG2D-PE</text><path d="M143 634.5h1M72 635.5h1M67 636.5h1M102 638.5h1M109 638.5h1M113 638.5h1M115 638.5h1M120 638.5h1M83 639.5h1M125 639.5h1M91 640.5h1M109 640.5h1M99 641.5h1M113 641.5h1M119 641.5h1M105 642.5h2M109 642.5h1M112 642.5h4M123 642.5h1M96 643.5h1M104 643.5h1M108 643.5h2M112 643.5h2M115 643.5h2M119 643.5h1M100 644.5h1M103 644.5h1M106 644.5h6M113 644.5h1M122 644.5h1M129 644.5h1M101 645.5h1M107 645.5h2M111 645.5h4M117 645.5h2M120 645.5h1M96 646.5h2M100 646.5h3M104 646.5h2M107 646.5h2M110 646.5h4M97 647.5h9M107 647.5h8M121 647.5h1M90 648.5h3M95 648.5h1M98 648.5h18M92 649.5h23M92 650.5h8M101 650.5h10M112 650.5h3M122 650.5h1M82 651.5h1M84 651.5h1M86 651.5h1M90 651.5h2M94 651.5h18M113 651.5h3M120 651.5h1M82 652.5h1M90 652.5h1M92 652.5h19M112 652.5h2M116 652.5h1M119 652.5h1M121 652.5h1M124 652.5h1M133 652.5h1M83 653.5h2M86 653.5h25M115 653.5h1M120 653.5h1M85 654.5h1M87 654.5h2M90 654.5h17M108 654.5h4M117 654.5h2M78 655.5h1M83 655.5h2M86 655.5h25M113 655.5h1M119 655.5h1M79 656.5h1M86 656.5h24M112 656.5h1M116 656.5h1M75 657.5h1M80 657.5h1M85 657.5h23M110 657.5h1M115 657.5h1M82 658.5h1M85 658.5h20M107 658.5h2M110 658.5h1M113 658.5h1M80 659.5h2M83 659.5h21M105 659.5h3M153 659.5h1M80 660.5h2M83 660.5h1M85 660.5h14M100 660.5h3M105 660.5h2M116 660.5h1M76 661.5h1M81 661.5h2M84 661.5h16M105 661.5h1M107 661.5h1M75 662.5h1M79 662.5h1M83 662.5h1M86 662.5h2M89 662.5h10M100 662.5h3M107 662.5h1M82 663.5h3M86 663.5h9M98 663.5h3M78 664.5h1M86 664.5h8M96 664.5h1M102 664.5h1M106 664.5h1M66 665.5h1M81 665.5h2M85 665.5h5M91 665.5h3M95 665.5h1M99 665.5h1M73 666.5h1M84 666.5h2M87 666.5h3M92 666.5h1M97 666.5h1M114 666.5h1M116 666.5h1M77 667.5h1M79 667.5h1M84 667.5h1M88 667.5h1M92 667.5h1M70 668.5h1M79 668.5h1M81 668.5h1M88 668.5h1M91 668.5h1M97 668.5h1M87 669.5h1M92 669.5h1M99 669.5h1M81 670.5h1M94 670.5h1M84 671.5h1M90 671.5h1M105 671.5h1M77 672.5h1M86 672.5h1M114 672.5h1M70 673.5h1M113 673.5h1M103 674.5h1M107 675.5h1M100 676.5h1M98 678.5h1M102 678.5h1M132 679.5h1M109 680.5h1M69 681.5h1M88 682.5h1M109 682.5h1M111 682.5h2M119 682.5h1M100 683.5h1M107 683.5h1M123 683.5h1M90 684.5h2M100 684.5h1M104 684.5h2M110 684.5h2M120 684.5h2M99 685.5h1M110 685.5h1M113 685.5h1M116 685.5h1M124 685.5h1M87 686.5h1M89 686.5h1M92 686.5h3M99 686.5h1M107 686.5h2M115 686.5h2M82 687.5h1M86 687.5h1M91 687.5h1M96 687.5h1M102 687.5h2M106 687.5h1M110 687.5h2M114 687.5h4M121 687.5h1M131 687.5h1M88 688.5h1M91 688.5h1M95 688.5h1M105 688.5h3M114 688.5h1M118 688.5h2M86 689.5h3M91 689.5h1M94 689.5h1M96 689.5h2M101 689.5h1M103 689.5h2M106 689.5h1M108 689.5h3M112 689.5h2M115 689.5h6M123 689.5h2M77 690.5h2M86 690.5h1M90 690.5h1M93 690.5h2M97 690.5h2M100 690.5h2M103 690.5h3M107 690.5h1M109 690.5h1M112 690.5h2M115 690.5h2M119 690.5h3M123 690.5h2M132 690.5h1M76 691.5h1M80 691.5h1M86 691.5h7M96 691.5h1M99 691.5h4M104 691.5h1M106 691.5h2M109 691.5h5M116 691.5h6M123 691.5h2M128 691.5h1M131 691.5h1M70 692.5h1M76 692.5h1M82 692.5h2M86 692.5h4M91 692.5h1M94 692.5h1M96 692.5h3M100 692.5h6M107 692.5h2M110 692.5h7M118 692.5h4M123 692.5h2M135 692.5h1M77 693.5h1M82 693.5h1M85 693.5h1M87 693.5h1M89 693.5h7M97 693.5h2M101 693.5h3M105 693.5h2M108 693.5h8M117 693.5h2M120 693.5h1M123 693.5h2M126 693.5h1M129 693.5h1M133 693.5h1M72 694.5h1M74 694.5h1M77 694.5h1M81 694.5h2M84 694.5h3M88 694.5h4M93 694.5h6M100 694.5h1M103 694.5h2M106 694.5h9M116 694.5h6M123 694.5h2M126 694.5h1M129 694.5h1M70 695.5h1M78 695.5h4M83 695.5h1M85 695.5h14M100 695.5h23M124 695.5h1M69 696.5h1M71 696.5h1M78 696.5h5M84 696.5h13M98 696.5h24M125 696.5h3M134 696.5h1M74 697.5h1M76 697.5h1M78 697.5h23M103 697.5h20M130 697.5h1M68 698.5h1M73 698.5h1M80 698.5h16M97 698.5h5M103 698.5h1M105 698.5h17M123 698.5h2M126 698.5h1M131 698.5h1M67 699.5h1M74 699.5h1M76 699.5h3M80 699.5h14M96 699.5h8M105 699.5h23M131 699.5h1M66 700.5h1M68 700.5h2M71 700.5h1M73 700.5h1M75 700.5h3M79 700.5h18M98 700.5h4M103 700.5h10M114 700.5h10M126 700.5h1M128 700.5h1M131 700.5h1M71 701.5h2M76 701.5h1M78 701.5h26M105 701.5h16M123 701.5h2M126 701.5h1M133 701.5h1M139 701.5h1M69 702.5h1M74 702.5h2M77 702.5h1M79 702.5h35M115 702.5h7M123 702.5h2M129 702.5h1M136 702.5h1M70 703.5h1M73 703.5h1M76 703.5h30M107 703.5h14M123 703.5h1M125 703.5h2M128 703.5h1M146 703.5h1M71 704.5h1M73 704.5h1M75 704.5h1M77 704.5h25M104 704.5h11M116 704.5h1M118 704.5h2M121 704.5h1M126 704.5h1M132 704.5h1M67 705.5h1M73 705.5h3M77 705.5h26M104 705.5h4M109 705.5h9M119 705.5h1M121 705.5h1M130 705.5h1M70 706.5h6M77 706.5h28M106 706.5h3M110 706.5h2M113 706.5h2M116 706.5h6M123 706.5h1M129 706.5h1M135 706.5h1M138 706.5h1M148 706.5h1M75 707.5h1M77 707.5h3M81 707.5h18M100 707.5h3M105 707.5h1M108 707.5h4M113 707.5h5M119 707.5h2M122 707.5h3M141 707.5h1M73 708.5h29M105 708.5h2M108 708.5h2M112 708.5h1M115 708.5h4M120 708.5h1M125 708.5h1M129 708.5h1M75 709.5h2M78 709.5h17M96 709.5h2M100 709.5h1M102 709.5h4M109 709.5h1M114 709.5h1M70 710.5h1M72 710.5h3M76 710.5h3M80 710.5h19M101 710.5h1M103 710.5h1M107 710.5h1M109 710.5h2M113 710.5h1M116 710.5h1M118 710.5h1M123 710.5h1M70 711.5h1M72 711.5h1M74 711.5h3M80 711.5h8M89 711.5h4M95 711.5h4M100 711.5h1M102 711.5h1M104 711.5h2M108 711.5h2M111 711.5h1M113 711.5h1M117 711.5h3M66 712.5h1M73 712.5h4M78 712.5h1M80 712.5h10M91 712.5h4M96 712.5h1M99 712.5h1M103 712.5h1M105 712.5h1M107 712.5h2M111 712.5h1M115 712.5h1M122 712.5h1M70 713.5h2M76 713.5h2M80 713.5h8M89 713.5h6M96 713.5h3M101 713.5h3M105 713.5h1M107 713.5h2M110 713.5h5M127 713.5h1M70 714.5h1M73 714.5h1M79 714.5h1M82 714.5h4M87 714.5h7M95 714.5h1M97 714.5h1M101 714.5h1M104 714.5h1M107 714.5h2M112 714.5h1M117 714.5h1M121 714.5h2M81 715.5h1M85 715.5h2M88 715.5h3M92 715.5h2M96 715.5h1M98 715.5h2M103 715.5h1M107 715.5h1M111 715.5h1M128 715.5h1M139 715.5h1M70 716.5h3M74 716.5h1M78 716.5h1M80 716.5h1M82 716.5h1M84 716.5h4M90 716.5h2M94 716.5h1M100 716.5h2M103 716.5h2M106 716.5h1M123 716.5h2M75 717.5h1M79 717.5h2M82 717.5h3M86 717.5h3M90 717.5h1M92 717.5h1M94 717.5h1M96 717.5h3M109 717.5h2M75 718.5h1M88 718.5h1M93 718.5h1M99 718.5h1M109 718.5h1M68 719.5h1M77 719.5h1M79 719.5h1M82 719.5h1M87 719.5h2M98 719.5h2M75 720.5h1M78 720.5h2M84 720.5h2M87 720.5h1M91 720.5h1M93 720.5h1M111 720.5h1M70 721.5h1M72 721.5h1M76 722.5h1M87 722.5h1M93 722.5h1M110 722.5h1M71 723.5h1M74 723.5h1M83 723.5h1M86 723.5h1M109 723.5h1M112 723.5h1M79 725.5h1M102 725.5h1M105 725.5h1M141 725.5h1M72 726.5h1M106 726.5h1M105 727.5h1" stroke="#000" stroke-width="1" fill="none"/><path d="M105.7 601.8V728.6M65 681.6H190.8" stroke="#000" stroke-width="1.2"/><rect x="65" y="601.8" width="125.8" height="126.8" fill="none" stroke="#000" stroke-width="1.3"/><path d="M65 728.6H190.8M65 601.8V728.6" stroke="#000" stroke-width="1.8"/><path d="M65 728.6v4.5M65 728.6h-4.5M74.5 728.6v2.6M65 719.1h-2.6M80 728.6v2.6M65 713.5h-2.6M83.9 728.6v2.6M65 709.5h-2.6M87 728.6v2.6M65 706.4h-2.6M89.5 728.6v2.6M65 703.9h-2.6M91.6 728.6v2.6M65 701.8h-2.6M93.4 728.6v2.6M65 700h-2.6M95 728.6v2.6M65 698.4h-2.6M96.5 728.6v4.5M65 696.9h-4.5M105.9 728.6v2.6M65 687.4h-2.6M111.5 728.6v2.6M65 681.8h-2.6M115.4 728.6v2.6M65 677.8h-2.6M118.4 728.6v2.6M65 674.7h-2.6M120.9 728.6v2.6M65 672.2h-2.6M123 728.6v2.6M65 670.1h-2.6M124.9 728.6v2.6M65 668.3h-2.6M126.5 728.6v2.6M65 666.7h-2.6M127.9 728.6v4.5M65 665.2h-4.5M137.4 728.6v2.6M65 655.7h-2.6M142.9 728.6v2.6M65 650.1h-2.6M146.8 728.6v2.6M65 646.1h-2.6M149.9 728.6v2.6M65 643h-2.6M152.4 728.6v2.6M65 640.5h-2.6M154.5 728.6v2.6M65 638.4h-2.6M156.3 728.6v2.6M65 636.6h-2.6M157.9 728.6v2.6M65 635h-2.6M159.4 728.6v4.5M65 633.5h-4.5M168.8 728.6v2.6M65 624h-2.6M174.4 728.6v2.6M65 618.4h-2.6M178.3 728.6v2.6M65 614.4h-2.6M181.3 728.6v2.6M65 611.3h-2.6M183.8 728.6v2.6M65 608.8h-2.6M185.9 728.6v2.6M65 606.7h-2.6M187.8 728.6v2.6M65 604.9h-2.6M189.4 728.6v2.6M65 603.3h-2.6M190.8 728.6v4.5M65 601.8h-4.5" stroke="#000" stroke-width="0.9" fill="none"/><text x="63.8" y="745.4" font-size="9.8" text-anchor="middle" font-family='"Liberation Sans", sans-serif' stroke="#000" stroke-width="0.3">10</text><text x="71.6" y="739.4" font-size="9.8" text-anchor="middle" font-family='"Liberation Sans", sans-serif' stroke="#000" stroke-width="0.3">0</text><text x="95.2" y="745.4" font-size="9.8" text-anchor="middle" font-family='"Liberation Sans", sans-serif' stroke="#000" stroke-width="0.3">10</text><text x="103" y="739.4" font-size="9.8" text-anchor="middle" font-family='"Liberation Sans", sans-serif' stroke="#000" stroke-width="0.3">1</text><text x="126.7" y="745.4" font-size="9.8" text-anchor="middle" font-family='"Liberation Sans", sans-serif' stroke="#000" stroke-width="0.3">10</text><text x="134.5" y="739.4" font-size="9.8" text-anchor="middle" font-family='"Liberation Sans", sans-serif' stroke="#000" stroke-width="0.3">2</text><text x="158.2" y="745.4" font-size="9.8" text-anchor="middle" font-family='"Liberation Sans", sans-serif' stroke="#000" stroke-width="0.3">10</text><text x="166" y="739.4" font-size="9.8" text-anchor="middle" font-family='"Liberation Sans", sans-serif' stroke="#000" stroke-width="0.3">3</text><text x="189.6" y="745.4" font-size="9.8" text-anchor="middle" font-family='"Liberation Sans", sans-serif' stroke="#000" stroke-width="0.3">10</text><text x="197.4" y="739.4" font-size="9.8" text-anchor="middle" font-family='"Liberation Sans", sans-serif' stroke="#000" stroke-width="0.3">4</text><text transform="translate(58.2,728.6) rotate(-90)" font-size="8.6" text-anchor="middle" font-family='"Liberation Sans", sans-serif' stroke="#000" stroke-width="0.3">10</text><text transform="translate(52.1,719.8) rotate(-90)" font-size="8.6" text-anchor="middle" font-family='"Liberation Sans", sans-serif' stroke="#000" stroke-width="0.3">0</text><text transform="translate(58.2,696.9) rotate(-90)" font-size="8.6" text-anchor="middle" font-family='"Liberation Sans", sans-serif' stroke="#000" stroke-width="0.3">10</text><text transform="translate(52.1,688.1) rotate(-90)" font-size="8.6" text-anchor="middle" font-family='"Liberation Sans", sans-serif' stroke="#000" stroke-width="0.3">1</text><text transform="translate(58.2,665.2) rotate(-90)" font-size="8.6" text-anchor="middle" font-family='"Liberation Sans", sans-serif' stroke="#000" stroke-width="0.3">10</text><text transform="translate(52.1,656.4) rotate(-90)" font-size="8.6" text-anchor="middle" font-family='"Liberation Sans", sans-serif' stroke="#000" stroke-width="0.3">2</text><text transform="translate(58.2,633.5) rotate(-90)" font-size="8.6" text-anchor="middle" font-family='"Liberation Sans", sans-serif' stroke="#000" stroke-width="0.3">10</text><text transform="translate(52.1,624.7) rotate(-90)" font-size="8.6" text-anchor="middle" font-family='"Liberation Sans", sans-serif' stroke="#000" stroke-width="0.3">3</text><text transform="translate(58.2,601.8) rotate(-90)" font-size="8.6" text-anchor="middle" font-family='"Liberation Sans", sans-serif' stroke="#000" stroke-width="0.3">10</text><text transform="translate(52.1,593) rotate(-90)" font-size="8.6" text-anchor="middle" font-family='"Liberation Sans", sans-serif' stroke="#000" stroke-width="0.3">4</text><text x="138.1" y="620" font-size="13.3" text-anchor="start" font-weight="normal" font-family='"Liberation Sans", sans-serif' textLength="41.3" lengthAdjust="spacingAndGlyphs" stroke="#000" stroke-width="0.25">Vector</text><text x="139.4" y="638.5" font-size="11.2" text-anchor="start" font-weight="normal" font-family='"Liberation Sans", sans-serif' textLength="23.3" lengthAdjust="spacingAndGlyphs" stroke="#000" stroke-width="0.25">20.6</text><text x="166.9" y="638.5" font-size="11.2" text-anchor="start" font-weight="normal" font-family='"Liberation Sans", sans-serif' textLength="16.8" lengthAdjust="spacingAndGlyphs" stroke="#000" stroke-width="0.25">3.0</text><text x="138.5" y="658.8" font-size="11.2" text-anchor="start" font-weight="normal" font-family='"Liberation Sans", sans-serif' textLength="22.1" lengthAdjust="spacingAndGlyphs" stroke="#000" stroke-width="0.25">67.1</text><text x="167.2" y="658.8" font-size="11.2" text-anchor="start" font-weight="normal" font-family='"Liberation Sans", sans-serif' textLength="16.8" lengthAdjust="spacingAndGlyphs" stroke="#000" stroke-width="0.25">9.3</text><path d="M143.8 644.4H185.2M164.8 623.8V665" stroke="#000" stroke-width="1.2"/><path d="M278 635.5h1M296 635.5h1M257 642.5h2M264 643.5h1M282 643.5h1M258 644.5h1M267 644.5h1M272 644.5h1M309 644.5h1M235 645.5h1M254 645.5h1M272 646.5h1M295 646.5h1M248 647.5h2M256 647.5h1M262 647.5h1M265 647.5h2M244 648.5h2M254 648.5h2M257 648.5h1M259 648.5h5M267 648.5h1M269 648.5h1M251 649.5h1M257 649.5h1M259 649.5h1M270 649.5h1M238 650.5h1M253 650.5h2M256 650.5h1M258 650.5h1M260 650.5h2M264 650.5h1M272 650.5h1M275 650.5h1M282 650.5h1M246 651.5h1M249 651.5h1M251 651.5h1M253 651.5h14M268 651.5h1M240 652.5h1M253 652.5h18M272 652.5h1M274 652.5h1M277 652.5h2M245 653.5h1M247 653.5h2M250 653.5h4M256 653.5h11M268 653.5h3M274 653.5h1M244 654.5h1M247 654.5h2M251 654.5h7M259 654.5h7M267 654.5h1M270 654.5h2M276 654.5h1M238 655.5h1M243 655.5h2M246 655.5h16M263 655.5h2M269 655.5h1M271 655.5h1M273 655.5h1M241 656.5h1M243 656.5h1M245 656.5h1M247 656.5h1M249 656.5h16M266 656.5h1M270 656.5h1M272 656.5h2M240 657.5h1M248 657.5h12M261 657.5h6M271 657.5h1M273 657.5h1M308 657.5h1M233 658.5h1M239 658.5h2M244 658.5h2M247 658.5h8M256 658.5h6M263 658.5h3M267 658.5h4M241 659.5h1M244 659.5h1M246 659.5h3M250 659.5h12M263 659.5h3M267 659.5h2M270 659.5h1M272 659.5h1M277 659.5h1M282 659.5h1M239 660.5h1M244 660.5h1M247 660.5h4M252 660.5h3M256 660.5h6M263 660.5h1M265 660.5h2M268 660.5h1M240 661.5h1M246 661.5h15M262 661.5h1M265 661.5h2M275 661.5h1M236 662.5h1M241 662.5h1M243 662.5h10M254 662.5h9M241 663.5h2M246 663.5h2M249 663.5h4M255 663.5h3M259 663.5h1M261 663.5h1M265 663.5h1M267 663.5h1M232 664.5h1M239 664.5h1M241 664.5h1M243 664.5h3M247 664.5h8M256 664.5h1M259 664.5h1M261 664.5h2M264 664.5h1M268 664.5h1M237 665.5h1M244 665.5h1M246 665.5h2M249 665.5h5M255 665.5h1M257 665.5h2M261 665.5h1M266 665.5h1M238 666.5h1M243 666.5h2M246 666.5h1M248 666.5h9M261 666.5h1M263 666.5h1M267 666.5h1M271 666.5h1M236 667.5h1M239 667.5h1M241 667.5h1M243 667.5h4M256 667.5h1M290 667.5h1M225 668.5h1M235 668.5h2M240 668.5h1M242 668.5h2M247 668.5h1M253 668.5h1M275 668.5h1M237 669.5h1M244 669.5h1M248 669.5h1M256 669.5h1M272 669.5h1M243 670.5h1M245 670.5h1M248 670.5h1M252 670.5h1M255 670.5h2M268 670.5h1M276 670.5h1M237 671.5h1M248 671.5h1M253 671.5h1M274 671.5h1M250 672.5h1M240 673.5h1M246 673.5h1M257 673.5h1M236 674.5h1M246 674.5h1M247 675.5h1M251 675.5h1M234 676.5h1M243 676.5h1M256 676.5h1M252 677.5h1M274 677.5h1M250 678.5h1M254 678.5h1M274 678.5h1M280 678.5h1M241 679.5h1M228 680.5h1M243 680.5h1M249 680.5h1M261 680.5h1M291 680.5h1M236 681.5h1M269 681.5h1M278 681.5h1M295 681.5h1M242 682.5h1M260 682.5h1M270 682.5h1M273 682.5h1M250 683.5h1M254 683.5h1M266 683.5h1M284 683.5h1M249 684.5h1M257 684.5h1M266 684.5h2M269 684.5h1M271 684.5h1M302 684.5h1M226 685.5h1M248 685.5h1M264 685.5h1M276 685.5h2M283 685.5h1M287 685.5h1M293 685.5h1M298 685.5h1M310 685.5h1M315 685.5h1M245 686.5h1M248 686.5h1M251 686.5h1M254 686.5h1M270 686.5h1M276 686.5h1M282 686.5h1M285 686.5h1M290 686.5h1M293 686.5h1M246 687.5h2M259 687.5h2M270 687.5h2M283 687.5h1M285 687.5h1M241 688.5h1M245 688.5h1M249 688.5h1M251 688.5h1M253 688.5h1M262 688.5h1M266 688.5h1M269 688.5h1M274 688.5h1M281 688.5h1M284 688.5h1M301 688.5h1M241 689.5h1M244 689.5h1M247 689.5h1M250 689.5h1M252 689.5h3M257 689.5h1M261 689.5h2M270 689.5h1M284 689.5h1M286 689.5h2M292 689.5h1M296 689.5h1M236 690.5h1M248 690.5h1M251 690.5h1M256 690.5h2M259 690.5h1M262 690.5h2M275 690.5h2M278 690.5h2M289 690.5h1M296 690.5h1M301 690.5h1M242 691.5h3M246 691.5h1M248 691.5h1M250 691.5h1M252 691.5h2M256 691.5h1M260 691.5h2M265 691.5h1M270 691.5h1M273 691.5h2M278 691.5h1M283 691.5h1M225 692.5h1M231 692.5h1M237 692.5h2M241 692.5h1M250 692.5h1M252 692.5h13M270 692.5h1M273 692.5h2M276 692.5h1M279 692.5h1M288 692.5h1M294 692.5h1M241 693.5h1M244 693.5h1M246 693.5h1M249 693.5h1M251 693.5h1M254 693.5h2M257 693.5h1M261 693.5h1M263 693.5h1M265 693.5h1M268 693.5h1M270 693.5h2M273 693.5h1M276 693.5h3M281 693.5h1M285 693.5h1M288 693.5h2M292 693.5h1M294 693.5h1M301 693.5h1M313 693.5h1M232 694.5h1M235 694.5h1M237 694.5h1M239 694.5h1M241 694.5h5M247 694.5h1M249 694.5h3M253 694.5h1M255 694.5h4M260 694.5h4M265 694.5h2M269 694.5h3M274 694.5h4M279 694.5h4M284 694.5h2M287 694.5h4M293 694.5h1M298 694.5h1M300 694.5h1M233 695.5h1M237 695.5h2M242 695.5h8M251 695.5h6M259 695.5h3M263 695.5h3M268 695.5h2M272 695.5h1M274 695.5h7M283 695.5h4M290 695.5h1M293 695.5h1M295 695.5h2M237 696.5h4M243 696.5h1M245 696.5h4M250 696.5h14M265 696.5h1M269 696.5h3M273 696.5h3M277 696.5h2M280 696.5h8M292 696.5h2M298 696.5h1M305 696.5h1M233 697.5h1M235 697.5h1M239 697.5h24M264 697.5h4M269 697.5h2M278 697.5h1M281 697.5h2M285 697.5h1M288 697.5h1M290 697.5h1M292 697.5h1M298 697.5h1M231 698.5h1M238 698.5h8M247 698.5h10M258 698.5h11M270 698.5h1M272 698.5h4M277 698.5h1M281 698.5h5M287 698.5h1M289 698.5h1M291 698.5h1M227 699.5h1M230 699.5h1M236 699.5h2M239 699.5h22M262 699.5h3M266 699.5h1M268 699.5h6M277 699.5h3M281 699.5h2M284 699.5h4M290 699.5h4M299 699.5h1M302 699.5h1M223 700.5h1M236 700.5h2M239 700.5h3M243 700.5h23M267 700.5h1M269 700.5h3M275 700.5h1M279 700.5h1M281 700.5h3M285 700.5h2M292 700.5h2M295 700.5h2M238 701.5h23M262 701.5h9M272 701.5h1M275 701.5h1M277 701.5h1M279 701.5h6M288 701.5h2M293 701.5h1M295 701.5h2M300 701.5h1M309 701.5h1M231 702.5h1M233 702.5h5M240 702.5h24M270 702.5h1M272 702.5h1M274 702.5h3M279 702.5h1M283 702.5h6M292 702.5h1M295 702.5h1M312 702.5h1M230 703.5h1M232 703.5h2M236 703.5h1M238 703.5h24M263 703.5h4M268 703.5h1M270 703.5h6M277 703.5h9M287 703.5h2M295 703.5h3M303 703.5h1M231 704.5h2M234 704.5h2M238 704.5h24M264 704.5h1M266 704.5h1M268 704.5h2M271 704.5h1M273 704.5h1M279 704.5h1M281 704.5h2M284 704.5h2M289 704.5h1M292 704.5h1M296 704.5h1M298 704.5h1M327 704.5h1M223 705.5h1M228 705.5h1M232 705.5h2M235 705.5h2M238 705.5h2M241 705.5h7M249 705.5h12M262 705.5h5M268 705.5h2M271 705.5h1M273 705.5h1M275 705.5h1M277 705.5h2M280 705.5h3M289 705.5h2M293 705.5h1M301 705.5h1M231 706.5h1M234 706.5h1M236 706.5h24M261 706.5h2M264 706.5h3M271 706.5h1M273 706.5h3M277 706.5h4M282 706.5h2M287 706.5h1M289 706.5h1M299 706.5h1M301 706.5h1M234 707.5h3M238 707.5h1M240 707.5h1M242 707.5h8M251 707.5h3M255 707.5h12M268 707.5h3M272 707.5h1M276 707.5h1M279 707.5h1M281 707.5h2M286 707.5h4M297 707.5h1M299 707.5h2M234 708.5h1M240 708.5h1M242 708.5h2M245 708.5h13M259 708.5h1M261 708.5h1M263 708.5h5M269 708.5h3M277 708.5h1M279 708.5h3M283 708.5h1M298 708.5h1M300 708.5h1M226 709.5h2M232 709.5h1M234 709.5h2M239 709.5h1M242 709.5h19M262 709.5h3M266 709.5h1M270 709.5h1M274 709.5h4M279 709.5h2M284 709.5h1M289 709.5h1M230 710.5h1M233 710.5h2M236 710.5h1M238 710.5h1M242 710.5h7M250 710.5h9M260 710.5h1M263 710.5h1M265 710.5h2M270 710.5h3M274 710.5h1M279 710.5h2M285 710.5h2M290 710.5h1M295 710.5h1M302 710.5h1M227 711.5h1M235 711.5h2M238 711.5h11M250 711.5h3M254 711.5h2M258 711.5h3M262 711.5h1M266 711.5h2M271 711.5h1M278 711.5h1M283 711.5h1M286 711.5h1M300 711.5h1M228 712.5h1M238 712.5h2M241 712.5h4M247 712.5h6M254 712.5h1M256 712.5h1M262 712.5h1M266 712.5h1M269 712.5h1M271 712.5h1M274 712.5h1M280 712.5h1M284 712.5h1M289 712.5h1M227 713.5h1M229 713.5h1M231 713.5h1M237 713.5h2M240 713.5h1M245 713.5h2M248 713.5h1M250 713.5h2M255 713.5h1M259 713.5h1M261 713.5h2M272 713.5h1M275 713.5h5M282 713.5h1M284 713.5h1M297 713.5h1M233 714.5h1M242 714.5h1M244 714.5h1M247 714.5h3M251 714.5h1M256 714.5h1M259 714.5h1M267 714.5h1M271 714.5h1M274 714.5h1M226 715.5h1M233 715.5h1M244 715.5h1M248 715.5h2M254 715.5h1M257 715.5h1M259 715.5h1M261 715.5h2M268 715.5h2M292 715.5h1M298 715.5h1M245 716.5h1M248 716.5h2M253 716.5h1M255 716.5h1M257 716.5h1M267 716.5h1M272 716.5h1M278 716.5h1M280 716.5h2M294 716.5h1M304 716.5h1M326 716.5h1M242 717.5h1M252 717.5h1M260 717.5h1M271 717.5h3M284 717.5h1M292 717.5h1M246 718.5h1M249 718.5h1M254 718.5h1M268 718.5h1M273 718.5h2M277 718.5h1M284 718.5h1M246 719.5h1M263 719.5h1M283 719.5h1M247 720.5h1M252 720.5h1M265 720.5h1M269 720.5h1M275 720.5h1M246 721.5h1M248 721.5h1M286 721.5h1M229 723.5h1M264 723.5h2M271 723.5h1M253 724.5h1M267 727.5h1M273 727.5h1" stroke="#000" stroke-width="1" fill="none"/><path d="M265.2 602.5V729M222 682.5H356.5" stroke="#000" stroke-width="1.2"/><rect x="222" y="602.5" width="134.5" height="126.5" fill="none" stroke="#000" stroke-width="1.3"/><path d="M222 729H356.5M222 602.5V729" stroke="#000" stroke-width="1.8"/><path d="M222 729v4.5M222 729h-4.5M232.1 729v2.6M222 719.5h-2.6M238 729v2.6M222 713.9h-2.6M242.2 729v2.6M222 710h-2.6M245.5 729v2.6M222 706.9h-2.6M248.2 729v2.6M222 704.4h-2.6M250.4 729v2.6M222 702.3h-2.6M252.4 729v2.6M222 700.4h-2.6M254.1 729v2.6M222 698.8h-2.6M255.6 729v4.5M222 697.4h-4.5M265.7 729v2.6M222 687.9h-2.6M271.7 729v2.6M222 682.3h-2.6M275.9 729v2.6M222 678.3h-2.6M279.1 729v2.6M222 675.3h-2.6M281.8 729v2.6M222 672.8h-2.6M284 729v2.6M222 670.6h-2.6M286 729v2.6M222 668.8h-2.6M287.7 729v2.6M222 667.2h-2.6M289.2 729v4.5M222 665.8h-4.5M299.4 729v2.6M222 656.2h-2.6M305.3 729v2.6M222 650.7h-2.6M309.5 729v2.6M222 646.7h-2.6M312.8 729v2.6M222 643.6h-2.6M315.4 729v2.6M222 641.1h-2.6M317.7 729v2.6M222 639h-2.6M319.6 729v2.6M222 637.2h-2.6M321.3 729v2.6M222 635.6h-2.6M322.9 729v4.5M222 634.1h-4.5M333 729v2.6M222 624.6h-2.6M338.9 729v2.6M222 619h-2.6M343.1 729v2.6M222 615.1h-2.6M346.4 729v2.6M222 612h-2.6M349 729v2.6M222 609.5h-2.6M351.3 729v2.6M222 607.4h-2.6M353.2 729v2.6M222 605.6h-2.6M355 729v2.6M222 603.9h-2.6M356.5 729v4.5M222 602.5h-4.5" stroke="#000" stroke-width="0.9" fill="none"/><text x="220.8" y="745.8" font-size="9.8" text-anchor="middle" font-family='"Liberation Sans", sans-serif' stroke="#000" stroke-width="0.3">10</text><text x="228.6" y="739.8" font-size="9.8" text-anchor="middle" font-family='"Liberation Sans", sans-serif' stroke="#000" stroke-width="0.3">0</text><text x="254.4" y="745.8" font-size="9.8" text-anchor="middle" font-family='"Liberation Sans", sans-serif' stroke="#000" stroke-width="0.3">10</text><text x="262.2" y="739.8" font-size="9.8" text-anchor="middle" font-family='"Liberation Sans", sans-serif' stroke="#000" stroke-width="0.3">1</text><text x="288.1" y="745.8" font-size="9.8" text-anchor="middle" font-family='"Liberation Sans", sans-serif' stroke="#000" stroke-width="0.3">10</text><text x="295.9" y="739.8" font-size="9.8" text-anchor="middle" font-family='"Liberation Sans", sans-serif' stroke="#000" stroke-width="0.3">2</text><text x="321.7" y="745.8" font-size="9.8" text-anchor="middle" font-family='"Liberation Sans", sans-serif' stroke="#000" stroke-width="0.3">10</text><text x="329.5" y="739.8" font-size="9.8" text-anchor="middle" font-family='"Liberation Sans", sans-serif' stroke="#000" stroke-width="0.3">3</text><text x="355.3" y="745.8" font-size="9.8" text-anchor="middle" font-family='"Liberation Sans", sans-serif' stroke="#000" stroke-width="0.3">10</text><text x="363.1" y="739.8" font-size="9.8" text-anchor="middle" font-family='"Liberation Sans", sans-serif' stroke="#000" stroke-width="0.3">4</text><text transform="translate(212.9,729) rotate(-90)" font-size="10.2" text-anchor="middle" font-family='"Liberation Sans", sans-serif' stroke="#000" stroke-width="0.3">10</text><text transform="translate(206.8,720.2) rotate(-90)" font-size="10.2" text-anchor="middle" font-family='"Liberation Sans", sans-serif' stroke="#000" stroke-width="0.3">0</text><text transform="translate(212.9,697.4) rotate(-90)" font-size="10.2" text-anchor="middle" font-family='"Liberation Sans", sans-serif' stroke="#000" stroke-width="0.3">10</text><text transform="translate(206.8,688.6) rotate(-90)" font-size="10.2" text-anchor="middle" font-family='"Liberation Sans", sans-serif' stroke="#000" stroke-width="0.3">1</text><text transform="translate(212.9,665.8) rotate(-90)" font-size="10.2" text-anchor="middle" font-family='"Liberation Sans", sans-serif' stroke="#000" stroke-width="0.3">10</text><text transform="translate(206.8,657) rotate(-90)" font-size="10.2" text-anchor="middle" font-family='"Liberation Sans", sans-serif' stroke="#000" stroke-width="0.3">2</text><text transform="translate(212.9,634.1) rotate(-90)" font-size="10.2" text-anchor="middle" font-family='"Liberation Sans", sans-serif' stroke="#000" stroke-width="0.3">10</text><text transform="translate(206.8,625.3) rotate(-90)" font-size="10.2" text-anchor="middle" font-family='"Liberation Sans", sans-serif' stroke="#000" stroke-width="0.3">3</text><text transform="translate(212.9,602.5) rotate(-90)" font-size="10.2" text-anchor="middle" font-family='"Liberation Sans", sans-serif' stroke="#000" stroke-width="0.3">10</text><text transform="translate(206.8,593.7) rotate(-90)" font-size="10.2" text-anchor="middle" font-family='"Liberation Sans", sans-serif' stroke="#000" stroke-width="0.3">4</text><text x="286.9" y="620.4" font-size="13.3" text-anchor="start" font-weight="normal" font-family='"Liberation Sans", sans-serif' textLength="65.1" lengthAdjust="spacingAndGlyphs" stroke="#000" stroke-width="0.25">wtNKG2D</text><text x="302.8" y="641.2" font-size="11.2" text-anchor="start" font-weight="normal" font-family='"Liberation Sans", sans-serif' textLength="23" lengthAdjust="spacingAndGlyphs" stroke="#000" stroke-width="0.25">20.7</text><text x="330.8" y="641.2" font-size="11.2" text-anchor="start" font-weight="normal" font-family='"Liberation Sans", sans-serif' textLength="16.6" lengthAdjust="spacingAndGlyphs" stroke="#000" stroke-width="0.25">3.5</text><text x="302.8" y="661.2" font-size="11.2" text-anchor="start" font-weight="normal" font-family='"Liberation Sans", sans-serif' textLength="23" lengthAdjust="spacingAndGlyphs" stroke="#000" stroke-width="0.25">61.8</text><text x="330.8" y="661.2" font-size="11.2" text-anchor="start" font-weight="normal" font-family='"Liberation Sans", sans-serif' textLength="12.2" lengthAdjust="spacingAndGlyphs" stroke="#000" stroke-width="0.25">14</text><path d="M307.4 646.5H348.5M328.2 626.5V667.3" stroke="#000" stroke-width="1.2"/><path d="M463 640.5h1M427 644.5h1M423 645.5h1M472 645.5h1M413 646.5h1M410 648.5h1M423 649.5h1M427 649.5h1M429 649.5h1M454 649.5h1M411 650.5h1M426 650.5h2M442 650.5h1M425 651.5h1M411 652.5h1M424 652.5h1M433 652.5h1M435 652.5h1M438 652.5h1M461 652.5h1M407 653.5h1M414 653.5h1M425 653.5h1M408 654.5h1M419 654.5h1M423 654.5h1M438 654.5h1M452 654.5h1M419 655.5h3M398 656.5h1M415 656.5h2M419 656.5h1M426 656.5h1M434 656.5h1M446 656.5h1M453 656.5h2M467 656.5h1M419 657.5h1M421 657.5h2M424 657.5h1M429 657.5h1M440 657.5h2M453 657.5h1M407 658.5h1M409 658.5h1M421 658.5h1M430 658.5h1M432 658.5h1M441 658.5h1M454 658.5h1M468 658.5h1M403 659.5h1M411 659.5h1M420 659.5h1M426 659.5h1M428 659.5h2M435 659.5h1M440 659.5h1M404 660.5h1M411 660.5h1M416 660.5h2M426 660.5h1M436 660.5h1M445 660.5h1M408 661.5h1M425 661.5h1M428 661.5h1M435 661.5h2M442 661.5h1M461 661.5h1M401 662.5h1M419 662.5h1M421 662.5h1M423 662.5h1M426 662.5h1M406 663.5h1M408 663.5h1M410 663.5h1M412 663.5h2M440 663.5h1M402 664.5h1M411 664.5h1M414 664.5h1M416 664.5h1M419 664.5h1M436 664.5h1M449 664.5h1M403 665.5h1M413 665.5h1M415 665.5h1M422 665.5h1M438 665.5h1M411 667.5h1M413 667.5h1M416 667.5h1M421 667.5h1M451 667.5h1M398 668.5h1M400 668.5h1M405 668.5h1M407 668.5h2M414 668.5h1M419 668.5h1M428 668.5h1M430 668.5h1M394 669.5h1M409 669.5h1M414 669.5h1M417 669.5h1M444 669.5h1M419 670.5h1M426 670.5h1M429 670.5h1M413 671.5h1M425 672.5h1M409 673.5h1M395 674.5h1M400 674.5h1M409 676.5h1M443 678.5h1M468 678.5h1M408 679.5h1M430 680.5h1M439 680.5h1M490 680.5h1M416 682.5h1M420 682.5h1M431 682.5h1M434 682.5h1M420 683.5h1M438 683.5h1M386 684.5h1M410 684.5h1M430 684.5h1M418 685.5h1M459 685.5h1M476 685.5h1M399 686.5h1M414 686.5h1M397 687.5h1M418 687.5h1M435 687.5h1M447 687.5h1M392 688.5h1M420 688.5h1M423 688.5h1M428 688.5h1M430 688.5h1M432 688.5h1M435 688.5h1M437 688.5h1M467 688.5h2M428 689.5h2M431 689.5h1M440 689.5h3M388 690.5h1M406 690.5h1M408 690.5h1M410 690.5h1M413 690.5h1M415 690.5h2M418 690.5h3M423 690.5h1M426 690.5h1M432 690.5h1M434 690.5h3M443 690.5h1M448 690.5h1M455 690.5h1M462 690.5h1M470 690.5h1M394 691.5h1M403 691.5h1M409 691.5h3M417 691.5h1M424 691.5h1M426 691.5h2M435 691.5h1M446 691.5h1M448 691.5h1M459 691.5h1M463 691.5h1M405 692.5h1M409 692.5h1M426 692.5h2M434 692.5h1M436 692.5h1M441 692.5h1M443 692.5h2M448 692.5h1M455 692.5h1M458 692.5h1M401 693.5h1M403 693.5h1M405 693.5h1M410 693.5h1M412 693.5h1M415 693.5h2M418 693.5h1M420 693.5h2M423 693.5h2M430 693.5h1M432 693.5h3M439 693.5h1M446 693.5h1M448 693.5h1M389 694.5h2M396 694.5h1M402 694.5h2M406 694.5h1M408 694.5h1M410 694.5h2M413 694.5h1M415 694.5h2M418 694.5h1M420 694.5h3M424 694.5h2M430 694.5h2M436 694.5h1M438 694.5h2M441 694.5h3M450 694.5h1M454 694.5h1M466 694.5h1M396 695.5h1M401 695.5h1M405 695.5h2M409 695.5h2M412 695.5h2M415 695.5h1M417 695.5h6M424 695.5h1M426 695.5h6M433 695.5h1M435 695.5h2M449 695.5h2M388 696.5h1M401 696.5h1M403 696.5h4M411 696.5h2M414 696.5h12M427 696.5h1M430 696.5h1M435 696.5h1M437 696.5h1M440 696.5h1M443 696.5h2M447 696.5h1M452 696.5h1M456 696.5h1M390 697.5h1M394 697.5h3M404 697.5h2M408 697.5h1M410 697.5h1M412 697.5h1M415 697.5h1M418 697.5h16M435 697.5h3M441 697.5h3M447 697.5h1M449 697.5h1M452 697.5h1M456 697.5h1M462 697.5h1M466 697.5h1M481 697.5h1M391 698.5h1M398 698.5h1M400 698.5h1M402 698.5h1M406 698.5h1M408 698.5h4M414 698.5h4M419 698.5h2M422 698.5h6M430 698.5h2M433 698.5h10M445 698.5h1M450 698.5h2M457 698.5h1M473 698.5h1M389 699.5h1M396 699.5h2M402 699.5h2M406 699.5h2M411 699.5h1M413 699.5h2M416 699.5h1M418 699.5h5M424 699.5h6M431 699.5h7M440 699.5h1M442 699.5h4M447 699.5h1M453 699.5h1M459 699.5h1M476 699.5h1M395 700.5h1M399 700.5h1M401 700.5h1M403 700.5h2M407 700.5h1M409 700.5h19M429 700.5h1M431 700.5h1M433 700.5h1M435 700.5h3M446 700.5h1M448 700.5h6M458 700.5h4M393 701.5h1M399 701.5h3M403 701.5h7M411 701.5h2M416 701.5h2M419 701.5h2M422 701.5h6M429 701.5h1M432 701.5h2M435 701.5h5M441 701.5h4M446 701.5h1M448 701.5h2M452 701.5h1M457 701.5h1M463 701.5h1M390 702.5h1M393 702.5h1M399 702.5h1M401 702.5h2M405 702.5h1M409 702.5h5M415 702.5h1M417 702.5h7M425 702.5h1M427 702.5h4M432 702.5h1M434 702.5h7M443 702.5h1M446 702.5h1M448 702.5h1M451 702.5h1M453 702.5h1M458 702.5h1M460 702.5h1M470 702.5h1M391 703.5h1M395 703.5h1M399 703.5h1M402 703.5h2M405 703.5h5M412 703.5h13M426 703.5h3M430 703.5h11M442 703.5h3M447 703.5h2M450 703.5h2M453 703.5h2M458 703.5h1M467 703.5h1M392 704.5h1M394 704.5h1M397 704.5h4M405 704.5h2M408 704.5h5M414 704.5h14M429 704.5h7M437 704.5h1M439 704.5h2M443 704.5h3M448 704.5h1M450 704.5h1M452 704.5h2M458 704.5h2M462 704.5h1M468 704.5h1M473 704.5h1M389 705.5h1M394 705.5h1M396 705.5h1M398 705.5h2M401 705.5h6M408 705.5h1M410 705.5h5M416 705.5h24M441 705.5h2M444 705.5h3M450 705.5h1M454 705.5h1M394 706.5h1M401 706.5h8M410 706.5h4M415 706.5h6M422 706.5h7M430 706.5h2M433 706.5h1M435 706.5h2M438 706.5h2M445 706.5h1M447 706.5h1M451 706.5h3M462 706.5h1M395 707.5h1M397 707.5h1M400 707.5h3M405 707.5h4M410 707.5h1M412 707.5h5M419 707.5h1M423 707.5h2M427 707.5h2M430 707.5h8M439 707.5h2M444 707.5h2M447 707.5h2M451 707.5h1M459 707.5h1M461 707.5h1M472 707.5h1M397 708.5h1M403 708.5h1M405 708.5h1M407 708.5h6M415 708.5h1M417 708.5h1M420 708.5h1M422 708.5h2M425 708.5h2M428 708.5h4M433 708.5h3M437 708.5h1M439 708.5h6M446 708.5h2M451 708.5h1M454 708.5h2M389 709.5h2M398 709.5h1M400 709.5h1M404 709.5h1M406 709.5h3M410 709.5h6M417 709.5h2M421 709.5h1M425 709.5h2M428 709.5h2M431 709.5h3M435 709.5h4M442 709.5h3M446 709.5h1M448 709.5h4M455 709.5h1M458 709.5h1M463 709.5h1M469 709.5h1M391 710.5h1M396 710.5h1M398 710.5h1M401 710.5h1M405 710.5h2M408 710.5h2M412 710.5h2M417 710.5h1M419 710.5h3M423 710.5h4M429 710.5h2M437 710.5h3M441 710.5h3M446 710.5h3M450 710.5h1M454 710.5h1M457 710.5h1M391 711.5h2M399 711.5h1M403 711.5h2M407 711.5h4M413 711.5h1M415 711.5h2M418 711.5h1M420 711.5h1M423 711.5h2M427 711.5h4M432 711.5h3M437 711.5h2M440 711.5h3M447 711.5h1M450 711.5h1M453 711.5h1M456 711.5h1M394 712.5h1M402 712.5h1M407 712.5h1M410 712.5h3M414 712.5h2M417 712.5h6M425 712.5h10M436 712.5h1M438 712.5h1M445 712.5h1M455 712.5h1M457 712.5h1M397 713.5h1M404 713.5h1M406 713.5h1M409 713.5h1M414 713.5h1M418 713.5h1M421 713.5h5M427 713.5h1M431 713.5h1M435 713.5h1M451 713.5h1M456 713.5h1M389 714.5h1M402 714.5h2M406 714.5h2M410 714.5h1M413 714.5h3M419 714.5h1M425 714.5h1M428 714.5h1M432 714.5h1M437 714.5h1M439 714.5h1M447 714.5h1M459 714.5h1M462 714.5h2M402 715.5h1M404 715.5h1M407 715.5h1M410 715.5h2M413 715.5h1M417 715.5h1M420 715.5h3M427 715.5h1M429 715.5h1M446 715.5h1M457 715.5h1M390 716.5h1M400 716.5h2M403 716.5h1M407 716.5h1M419 716.5h1M422 716.5h1M427 716.5h1M434 716.5h1M461 716.5h1M402 717.5h1M406 717.5h2M409 717.5h1M412 717.5h1M414 717.5h1M418 717.5h1M423 717.5h1M429 717.5h1M443 717.5h1M455 717.5h1M394 718.5h1M413 718.5h1M415 718.5h1M419 718.5h1M425 718.5h1M436 718.5h1M443 718.5h1M465 718.5h1M392 719.5h1M421 719.5h1M425 719.5h2M429 719.5h1M440 719.5h1M449 720.5h1M467 720.5h1M413 721.5h1M429 721.5h1M436 721.5h1M442 721.5h1M412 723.5h1M433 723.5h1M406 725.5h1M441 725.5h1M463 725.5h1M466 725.5h1M412 726.5h1" stroke="#000" stroke-width="1" fill="none"/><path d="M425.2 601.5V727.2M384.4 681.5H510.3" stroke="#000" stroke-width="1.2"/><rect x="384.4" y="601.5" width="125.9" height="125.7" fill="none" stroke="#000" stroke-width="1.3"/><path d="M384.4 727.2H510.3M384.4 601.5V727.2" stroke="#000" stroke-width="1.8"/><path d="M384.4 727.2v4.5M384.4 727.2h-4.5M393.9 727.2v2.6M384.4 717.7h-2.6M399.4 727.2v2.6M384.4 712.2h-2.6M403.3 727.2v2.6M384.4 708.3h-2.6M406.4 727.2v2.6M384.4 705.2h-2.6M408.9 727.2v2.6M384.4 702.7h-2.6M411 727.2v2.6M384.4 700.6h-2.6M412.8 727.2v2.6M384.4 698.8h-2.6M414.4 727.2v2.6M384.4 697.2h-2.6M415.9 727.2v4.5M384.4 695.8h-4.5M425.3 727.2v2.6M384.4 686.3h-2.6M430.9 727.2v2.6M384.4 680.8h-2.6M434.8 727.2v2.6M384.4 676.9h-2.6M437.9 727.2v2.6M384.4 673.8h-2.6M440.4 727.2v2.6M384.4 671.3h-2.6M442.5 727.2v2.6M384.4 669.2h-2.6M444.3 727.2v2.6M384.4 667.4h-2.6M445.9 727.2v2.6M384.4 665.8h-2.6M447.4 727.2v4.5M384.4 664.4h-4.5M456.8 727.2v2.6M384.4 654.9h-2.6M462.4 727.2v2.6M384.4 649.4h-2.6M466.3 727.2v2.6M384.4 645.4h-2.6M469.4 727.2v2.6M384.4 642.4h-2.6M471.8 727.2v2.6M384.4 639.9h-2.6M473.9 727.2v2.6M384.4 637.8h-2.6M475.8 727.2v2.6M384.4 636h-2.6M477.4 727.2v2.6M384.4 634.4h-2.6M478.8 727.2v4.5M384.4 632.9h-4.5M488.3 727.2v2.6M384.4 623.5h-2.6M493.8 727.2v2.6M384.4 617.9h-2.6M497.8 727.2v2.6M384.4 614h-2.6M500.8 727.2v2.6M384.4 611h-2.6M503.3 727.2v2.6M384.4 608.5h-2.6M505.4 727.2v2.6M384.4 606.4h-2.6M507.2 727.2v2.6M384.4 604.5h-2.6M508.9 727.2v2.6M384.4 602.9h-2.6M510.3 727.2v4.5M384.4 601.5h-4.5" stroke="#000" stroke-width="0.9" fill="none"/><text x="383.2" y="744" font-size="9.8" text-anchor="middle" font-family='"Liberation Sans", sans-serif' stroke="#000" stroke-width="0.3">10</text><text x="391" y="738" font-size="9.8" text-anchor="middle" font-family='"Liberation Sans", sans-serif' stroke="#000" stroke-width="0.3">0</text><text x="414.7" y="744" font-size="9.8" text-anchor="middle" font-family='"Liberation Sans", sans-serif' stroke="#000" stroke-width="0.3">10</text><text x="422.5" y="738" font-size="9.8" text-anchor="middle" font-family='"Liberation Sans", sans-serif' stroke="#000" stroke-width="0.3">1</text><text x="446.2" y="744" font-size="9.8" text-anchor="middle" font-family='"Liberation Sans", sans-serif' stroke="#000" stroke-width="0.3">10</text><text x="454" y="738" font-size="9.8" text-anchor="middle" font-family='"Liberation Sans", sans-serif' stroke="#000" stroke-width="0.3">2</text><text x="477.6" y="744" font-size="9.8" text-anchor="middle" font-family='"Liberation Sans", sans-serif' stroke="#000" stroke-width="0.3">10</text><text x="485.4" y="738" font-size="9.8" text-anchor="middle" font-family='"Liberation Sans", sans-serif' stroke="#000" stroke-width="0.3">3</text><text x="509.1" y="744" font-size="9.8" text-anchor="middle" font-family='"Liberation Sans", sans-serif' stroke="#000" stroke-width="0.3">10</text><text x="516.9" y="738" font-size="9.8" text-anchor="middle" font-family='"Liberation Sans", sans-serif' stroke="#000" stroke-width="0.3">4</text><text transform="translate(375.8,727.2) rotate(-90)" font-size="10.2" text-anchor="middle" font-family='"Liberation Sans", sans-serif' stroke="#000" stroke-width="0.3">10</text><text transform="translate(369.7,718.4) rotate(-90)" font-size="10.2" text-anchor="middle" font-family='"Liberation Sans", sans-serif' stroke="#000" stroke-width="0.3">0</text><text transform="translate(375.8,695.8) rotate(-90)" font-size="10.2" text-anchor="middle" font-family='"Liberation Sans", sans-serif' stroke="#000" stroke-width="0.3">10</text><text transform="translate(369.7,687) rotate(-90)" font-size="10.2" text-anchor="middle" font-family='"Liberation Sans", sans-serif' stroke="#000" stroke-width="0.3">1</text><text transform="translate(375.8,664.4) rotate(-90)" font-size="10.2" text-anchor="middle" font-family='"Liberation Sans", sans-serif' stroke="#000" stroke-width="0.3">10</text><text transform="translate(369.7,655.6) rotate(-90)" font-size="10.2" text-anchor="middle" font-family='"Liberation Sans", sans-serif' stroke="#000" stroke-width="0.3">2</text><text transform="translate(375.8,632.9) rotate(-90)" font-size="10.2" text-anchor="middle" font-family='"Liberation Sans", sans-serif' stroke="#000" stroke-width="0.3">10</text><text transform="translate(369.7,624.1) rotate(-90)" font-size="10.2" text-anchor="middle" font-family='"Liberation Sans", sans-serif' stroke="#000" stroke-width="0.3">3</text><text transform="translate(375.8,601.5) rotate(-90)" font-size="10.2" text-anchor="middle" font-family='"Liberation Sans", sans-serif' stroke="#000" stroke-width="0.3">10</text><text transform="translate(369.7,592.7) rotate(-90)" font-size="10.2" text-anchor="middle" font-family='"Liberation Sans", sans-serif' stroke="#000" stroke-width="0.3">4</text><text x="440.4" y="619.2" font-size="13.3" text-anchor="start" font-weight="normal" font-family='"Liberation Sans", sans-serif' textLength="63.8" lengthAdjust="spacingAndGlyphs" stroke="#000" stroke-width="0.25">chNKG2D</text><text x="463.5" y="641.5" font-size="11.2" text-anchor="start" font-weight="normal" font-family='"Liberation Sans", sans-serif' textLength="16.1" lengthAdjust="spacingAndGlyphs" stroke="#000" stroke-width="0.25">5.6</text><text x="484.2" y="641.5" font-size="11.2" text-anchor="start" font-weight="normal" font-family='"Liberation Sans", sans-serif' textLength="18.2" lengthAdjust="spacingAndGlyphs" stroke="#000" stroke-width="0.25">2.6</text><text x="465" y="662.2" font-size="11.2" text-anchor="start" font-weight="normal" font-family='"Liberation Sans", sans-serif' textLength="13" lengthAdjust="spacingAndGlyphs" stroke="#000" stroke-width="0.25">52</text><text x="484.2" y="662.2" font-size="11.2" text-anchor="start" font-weight="normal" font-family='"Liberation Sans", sans-serif' textLength="22.8" lengthAdjust="spacingAndGlyphs" stroke="#000" stroke-width="0.25">39.8</text><path d="M462.4 647.9H503.5M483.2 627.6V667.6" stroke="#000" stroke-width="1.2"/><path d="M158 789.5h1M112 792.5h1M80 795.5h1M97 795.5h1M121 795.5h1M156 795.5h1M100 796.5h1M138 796.5h1M94 798.5h1M115 798.5h1M124 798.5h1M74 799.5h1M101 800.5h1M106 800.5h2M117 800.5h1M78 801.5h1M101 801.5h1M103 801.5h1M106 801.5h1M113 801.5h2M119 801.5h1M125 801.5h1M88 802.5h1M97 802.5h2M103 802.5h1M106 802.5h2M110 802.5h2M114 802.5h2M120 802.5h1M139 802.5h1M96 803.5h1M98 803.5h1M103 803.5h1M106 803.5h2M110 803.5h2M114 803.5h2M119 803.5h1M124 803.5h1M75 804.5h1M82 804.5h1M84 804.5h1M95 804.5h2M100 804.5h1M102 804.5h2M105 804.5h2M108 804.5h5M114 804.5h2M91 805.5h2M98 805.5h2M104 805.5h2M107 805.5h1M109 805.5h3M135 805.5h1M141 805.5h1M83 806.5h2M88 806.5h3M96 806.5h5M104 806.5h2M108 806.5h2M111 806.5h1M113 806.5h2M116 806.5h1M119 806.5h1M128 806.5h1M84 807.5h1M93 807.5h2M96 807.5h3M100 807.5h6M107 807.5h1M109 807.5h2M117 807.5h1M90 808.5h1M96 808.5h10M107 808.5h1M110 808.5h1M120 808.5h1M91 809.5h1M94 809.5h6M101 809.5h4M107 809.5h2M110 809.5h1M112 809.5h2M117 809.5h2M78 810.5h1M84 810.5h1M86 810.5h1M88 810.5h22M111 810.5h1M114 810.5h1M83 811.5h1M86 811.5h1M89 811.5h1M92 811.5h1M94 811.5h3M98 811.5h11M111 811.5h3M78 812.5h1M83 812.5h2M90 812.5h1M93 812.5h4M98 812.5h10M109 812.5h3M84 813.5h1M86 813.5h3M90 813.5h1M93 813.5h14M109 813.5h3M114 813.5h2M76 814.5h1M81 814.5h1M84 814.5h1M86 814.5h4M94 814.5h3M98 814.5h6M105 814.5h3M109 814.5h2M112 814.5h2M115 814.5h1M76 815.5h1M85 815.5h1M88 815.5h9M98 815.5h5M104 815.5h2M107 815.5h2M113 815.5h1M120 815.5h1M132 815.5h1M82 816.5h2M85 816.5h2M88 816.5h1M90 816.5h13M107 816.5h2M121 816.5h1M83 817.5h1M85 817.5h1M88 817.5h1M90 817.5h2M93 817.5h5M99 817.5h7M108 817.5h2M112 817.5h1M115 817.5h1M78 818.5h1M84 818.5h2M88 818.5h4M93 818.5h5M99 818.5h1M101 818.5h4M106 818.5h1M108 818.5h1M111 818.5h1M78 819.5h1M84 819.5h2M88 819.5h1M90 819.5h1M92 819.5h2M95 819.5h3M101 819.5h1M105 819.5h1M120 819.5h1M84 820.5h2M88 820.5h1M90 820.5h2M95 820.5h1M98 820.5h3M108 820.5h1M112 820.5h1M74 821.5h1M81 821.5h1M86 821.5h1M91 821.5h1M93 821.5h3M97 821.5h1M99 821.5h2M104 821.5h1M77 822.5h1M82 822.5h2M86 822.5h1M88 822.5h1M90 822.5h1M92 822.5h3M99 822.5h1M104 822.5h1M106 822.5h1M108 822.5h1M82 823.5h2M95 823.5h1M98 823.5h1M101 823.5h1M75 824.5h1M91 824.5h2M94 824.5h1M96 824.5h1M99 824.5h1M77 825.5h1M80 825.5h1M85 825.5h1M89 825.5h2M96 825.5h1M108 825.5h1M124 826.5h1M97 827.5h1M75 828.5h1M100 828.5h1M112 828.5h1M105 829.5h1M80 831.5h1M102 831.5h1M77 832.5h2M120 832.5h1M132 832.5h1M77 833.5h1M85 833.5h1M102 833.5h1M100 834.5h1M105 834.5h1M112 834.5h1M124 834.5h1M138 834.5h1M114 835.5h1M74 836.5h1M77 836.5h1M92 836.5h1M112 836.5h1M95 837.5h1M101 837.5h2M109 837.5h1M137 837.5h1M89 838.5h2M98 838.5h1M102 838.5h2M105 838.5h3M112 838.5h1M82 839.5h1M96 839.5h1M99 839.5h1M103 839.5h1M105 839.5h3M122 839.5h1M136 839.5h1M153 839.5h1M86 840.5h1M90 840.5h1M95 840.5h1M97 840.5h1M111 840.5h1M117 840.5h1M137 840.5h1M90 841.5h1M96 841.5h3M100 841.5h2M105 841.5h1M112 841.5h1M116 841.5h3M122 841.5h1M139 841.5h1M158 841.5h1M71 842.5h1M77 842.5h1M88 842.5h1M92 842.5h1M95 842.5h1M97 842.5h1M100 842.5h1M102 842.5h1M105 842.5h3M109 842.5h1M112 842.5h1M114 842.5h1M118 842.5h4M131 842.5h1M133 842.5h1M135 842.5h1M139 842.5h1M141 842.5h1M74 843.5h1M90 843.5h1M93 843.5h7M101 843.5h1M103 843.5h1M105 843.5h1M107 843.5h1M112 843.5h1M116 843.5h1M118 843.5h1M122 843.5h1M125 843.5h1M128 843.5h1M130 843.5h2M139 843.5h1M142 843.5h1M87 844.5h2M95 844.5h1M97 844.5h6M105 844.5h2M110 844.5h1M118 844.5h1M120 844.5h1M124 844.5h1M128 844.5h3M133 844.5h1M136 844.5h1M139 844.5h1M76 845.5h1M89 845.5h1M93 845.5h3M97 845.5h3M103 845.5h5M113 845.5h1M115 845.5h4M120 845.5h1M124 845.5h2M127 845.5h5M133 845.5h3M139 845.5h1M144 845.5h1M77 846.5h1M89 846.5h1M91 846.5h18M113 846.5h1M115 846.5h2M118 846.5h2M121 846.5h2M124 846.5h2M130 846.5h2M133 846.5h1M135 846.5h3M141 846.5h1M146 846.5h1M153 846.5h1M86 847.5h1M91 847.5h1M93 847.5h16M114 847.5h1M119 847.5h1M121 847.5h1M126 847.5h3M131 847.5h2M140 847.5h1M143 847.5h1M146 847.5h1M149 847.5h2M158 847.5h1M71 848.5h1M81 848.5h1M85 848.5h1M88 848.5h1M90 848.5h15M106 848.5h5M113 848.5h2M116 848.5h1M118 848.5h2M123 848.5h1M125 848.5h1M127 848.5h2M130 848.5h6M143 848.5h1M147 848.5h1M154 848.5h1M163 848.5h1M72 849.5h1M82 849.5h1M84 849.5h7M92 849.5h16M109 849.5h1M112 849.5h1M118 849.5h3M122 849.5h3M127 849.5h2M131 849.5h1M133 849.5h1M137 849.5h2M140 849.5h1M148 849.5h1M80 850.5h2M84 850.5h4M89 850.5h1M91 850.5h7M99 850.5h5M105 850.5h1M107 850.5h1M109 850.5h1M111 850.5h1M113 850.5h3M117 850.5h1M119 850.5h3M123 850.5h1M126 850.5h2M130 850.5h1M134 850.5h1M138 850.5h2M144 850.5h2M150 850.5h1M156 850.5h1M85 851.5h20M106 851.5h2M109 851.5h3M113 851.5h1M116 851.5h5M129 851.5h1M131 851.5h4M138 851.5h1M146 851.5h1M157 851.5h1M76 852.5h2M81 852.5h1M84 852.5h2M87 852.5h3M91 852.5h10M102 852.5h2M105 852.5h2M108 852.5h1M114 852.5h1M116 852.5h1M118 852.5h2M122 852.5h1M126 852.5h2M130 852.5h1M134 852.5h1M138 852.5h1M142 852.5h1M145 852.5h1M147 852.5h1M149 852.5h1M154 852.5h1M159 852.5h1M76 853.5h1M83 853.5h1M86 853.5h19M107 853.5h3M111 853.5h2M115 853.5h3M119 853.5h1M121 853.5h3M125 853.5h2M128 853.5h1M130 853.5h1M133 853.5h2M136 853.5h3M140 853.5h2M143 853.5h1M147 853.5h1M152 853.5h1M71 854.5h1M74 854.5h1M82 854.5h23M110 854.5h1M113 854.5h1M116 854.5h2M124 854.5h1M128 854.5h4M133 854.5h1M136 854.5h2M144 854.5h1M76 855.5h1M80 855.5h1M85 855.5h22M108 855.5h1M111 855.5h3M115 855.5h1M121 855.5h3M125 855.5h1M127 855.5h1M132 855.5h2M153 855.5h1M70 856.5h1M81 856.5h2M84 856.5h19M104 856.5h1M110 856.5h1M115 856.5h5M121 856.5h3M125 856.5h1M143 856.5h1M152 856.5h1M80 857.5h22M103 857.5h2M106 857.5h1M109 857.5h1M117 857.5h1M121 857.5h2M126 857.5h1M131 857.5h1M144 857.5h1M147 857.5h1M151 857.5h1M154 857.5h1M76 858.5h3M80 858.5h20M101 858.5h1M105 858.5h2M113 858.5h1M125 858.5h2M129 858.5h1M135 858.5h1M137 858.5h1M139 858.5h1M73 859.5h1M77 859.5h1M79 859.5h24M107 859.5h1M115 859.5h1M117 859.5h1M120 859.5h1M124 859.5h1M135 859.5h1M139 859.5h1M80 860.5h2M83 860.5h15M100 860.5h1M103 860.5h1M109 860.5h2M117 860.5h1M120 860.5h1M123 860.5h1M127 860.5h2M131 860.5h1M79 861.5h17M97 861.5h1M112 861.5h1M116 861.5h2M120 861.5h1M134 861.5h1M143 861.5h1M147 861.5h1M75 862.5h1M78 862.5h20M99 862.5h2M103 862.5h2M106 862.5h1M111 862.5h3M117 862.5h1M126 862.5h1M128 862.5h1M149 862.5h1M77 863.5h1M79 863.5h14M94 863.5h5M100 863.5h1M109 863.5h1M114 863.5h1M118 863.5h2M121 863.5h1M127 863.5h2M132 863.5h1M77 864.5h2M80 864.5h1M82 864.5h1M84 864.5h11M96 864.5h1M98 864.5h1M102 864.5h1M108 864.5h1M119 864.5h1M75 865.5h1M77 865.5h1M80 865.5h6M87 865.5h7M95 865.5h1M99 865.5h1M108 865.5h1M118 865.5h3M124 865.5h1M78 866.5h1M80 866.5h1M82 866.5h1M84 866.5h7M93 866.5h2M128 866.5h1M130 866.5h1M70 867.5h1M75 867.5h2M80 867.5h3M84 867.5h2M87 867.5h3M93 867.5h2M125 867.5h1M127 867.5h1M79 868.5h1M82 868.5h1M84 868.5h3M89 868.5h1M100 868.5h1M76 869.5h1M79 869.5h4M85 869.5h1M87 869.5h2M91 869.5h3M99 869.5h1M101 869.5h1M78 870.5h1M80 870.5h2M83 870.5h1M87 870.5h2M104 870.5h1M152 870.5h1M80 871.5h1M82 871.5h2M88 871.5h1M90 871.5h1M101 871.5h1M121 871.5h1M76 872.5h1M86 872.5h1M88 872.5h1M79 873.5h1M85 873.5h1M87 873.5h1M105 873.5h1M111 873.5h1M114 873.5h1M123 873.5h1M125 873.5h1M141 873.5h1M101 874.5h1M110 874.5h1M80 875.5h1M89 875.5h1M108 875.5h1M76 876.5h1M84 876.5h2M109 876.5h1M111 876.5h1M78 877.5h1M110 878.5h1" stroke="#000" stroke-width="1" fill="none"/><path d="M109.4 758.3V880.3M68.8 834.8H194.6" stroke="#000" stroke-width="1.2"/><rect x="68.8" y="758.3" width="125.8" height="122" fill="none" stroke="#000" stroke-width="1.3"/><path d="M68.8 880.3H194.6M68.8 758.3V880.3" stroke="#000" stroke-width="1.8"/><path d="M68.8 880.3v4.5M68.8 880.3h-4.5M78.3 880.3v2.6M68.8 871.1h-2.6M83.8 880.3v2.6M68.8 865.7h-2.6M87.7 880.3v2.6M68.8 861.9h-2.6M90.8 880.3v2.6M68.8 859h-2.6M93.3 880.3v2.6M68.8 856.6h-2.6M95.4 880.3v2.6M68.8 854.5h-2.6M97.2 880.3v2.6M68.8 852.8h-2.6M98.8 880.3v2.6M68.8 851.2h-2.6M100.2 880.3v4.5M68.8 849.8h-4.5M109.7 880.3v2.6M68.8 840.6h-2.6M115.3 880.3v2.6M68.8 835.2h-2.6M119.2 880.3v2.6M68.8 831.4h-2.6M122.2 880.3v2.6M68.8 828.5h-2.6M124.7 880.3v2.6M68.8 826.1h-2.6M126.8 880.3v2.6M68.8 824h-2.6M128.7 880.3v2.6M68.8 822.3h-2.6M130.3 880.3v2.6M68.8 820.7h-2.6M131.7 880.3v4.5M68.8 819.3h-4.5M141.2 880.3v2.6M68.8 810.1h-2.6M146.7 880.3v2.6M68.8 804.7h-2.6M150.6 880.3v2.6M68.8 800.9h-2.6M153.7 880.3v2.6M68.8 798h-2.6M156.2 880.3v2.6M68.8 795.6h-2.6M158.3 880.3v2.6M68.8 793.5h-2.6M160.1 880.3v2.6M68.8 791.8h-2.6M161.7 880.3v2.6M68.8 790.2h-2.6M163.1 880.3v4.5M68.8 788.8h-4.5M172.6 880.3v2.6M68.8 779.6h-2.6M178.2 880.3v2.6M68.8 774.2h-2.6M182.1 880.3v2.6M68.8 770.4h-2.6M185.1 880.3v2.6M68.8 767.5h-2.6M187.6 880.3v2.6M68.8 765.1h-2.6M189.7 880.3v2.6M68.8 763h-2.6M191.6 880.3v2.6M68.8 761.3h-2.6M193.2 880.3v2.6M68.8 759.7h-2.6M194.6 880.3v4.5M68.8 758.3h-4.5" stroke="#000" stroke-width="0.9" fill="none"/><text x="67.6" y="897.1" font-size="9.8" text-anchor="middle" font-family='"Liberation Sans", sans-serif' stroke="#000" stroke-width="0.3">10</text><text x="75.4" y="891.1" font-size="9.8" text-anchor="middle" font-family='"Liberation Sans", sans-serif' stroke="#000" stroke-width="0.3">0</text><text x="99" y="897.1" font-size="9.8" text-anchor="middle" font-family='"Liberation Sans", sans-serif' stroke="#000" stroke-width="0.3">10</text><text x="106.8" y="891.1" font-size="9.8" text-anchor="middle" font-family='"Liberation Sans", sans-serif' stroke="#000" stroke-width="0.3">1</text><text x="130.5" y="897.1" font-size="9.8" text-anchor="middle" font-family='"Liberation Sans", sans-serif' stroke="#000" stroke-width="0.3">10</text><text x="138.3" y="891.1" font-size="9.8" text-anchor="middle" font-family='"Liberation Sans", sans-serif' stroke="#000" stroke-width="0.3">2</text><text x="161.9" y="897.1" font-size="9.8" text-anchor="middle" font-family='"Liberation Sans", sans-serif' stroke="#000" stroke-width="0.3">10</text><text x="169.7" y="891.1" font-size="9.8" text-anchor="middle" font-family='"Liberation Sans", sans-serif' stroke="#000" stroke-width="0.3">3</text><text x="193.4" y="897.1" font-size="9.8" text-anchor="middle" font-family='"Liberation Sans", sans-serif' stroke="#000" stroke-width="0.3">10</text><text x="201.2" y="891.1" font-size="9.8" text-anchor="middle" font-family='"Liberation Sans", sans-serif' stroke="#000" stroke-width="0.3">4</text><text transform="translate(61.5,880.3) rotate(-90)" font-size="9.2" text-anchor="middle" font-family='"Liberation Sans", sans-serif' stroke="#000" stroke-width="0.3">10</text><text transform="translate(55.4,871.5) rotate(-90)" font-size="9.2" text-anchor="middle" font-family='"Liberation Sans", sans-serif' stroke="#000" stroke-width="0.3">0</text><text transform="translate(61.5,849.8) rotate(-90)" font-size="9.2" text-anchor="middle" font-family='"Liberation Sans", sans-serif' stroke="#000" stroke-width="0.3">10</text><text transform="translate(55.4,841) rotate(-90)" font-size="9.2" text-anchor="middle" font-family='"Liberation Sans", sans-serif' stroke="#000" stroke-width="0.3">1</text><text transform="translate(61.5,819.3) rotate(-90)" font-size="9.2" text-anchor="middle" font-family='"Liberation Sans", sans-serif' stroke="#000" stroke-width="0.3">10</text><text transform="translate(55.4,810.5) rotate(-90)" font-size="9.2" text-anchor="middle" font-family='"Liberation Sans", sans-serif' stroke="#000" stroke-width="0.3">2</text><text transform="translate(61.5,788.8) rotate(-90)" font-size="9.2" text-anchor="middle" font-family='"Liberation Sans", sans-serif' stroke="#000" stroke-width="0.3">10</text><text transform="translate(55.4,780) rotate(-90)" font-size="9.2" text-anchor="middle" font-family='"Liberation Sans", sans-serif' stroke="#000" stroke-width="0.3">3</text><text transform="translate(61.5,758.3) rotate(-90)" font-size="9.2" text-anchor="middle" font-family='"Liberation Sans", sans-serif' stroke="#000" stroke-width="0.3">10</text><text transform="translate(55.4,749.5) rotate(-90)" font-size="9.2" text-anchor="middle" font-family='"Liberation Sans", sans-serif' stroke="#000" stroke-width="0.3">4</text><text x="128.5" y="775.4" font-size="13.3" text-anchor="start" font-weight="normal" font-family='"Liberation Sans", sans-serif' textLength="57.7" lengthAdjust="spacingAndGlyphs" stroke="#000" stroke-width="0.25">wtDap10</text><text x="143.8" y="796.9" font-size="11.2" text-anchor="start" font-weight="normal" font-family='"Liberation Sans", sans-serif' textLength="22.4" lengthAdjust="spacingAndGlyphs" stroke="#000" stroke-width="0.25">28.7</text><text x="172.3" y="796.9" font-size="11.2" text-anchor="start" font-weight="normal" font-family='"Liberation Sans", sans-serif' textLength="16.2" lengthAdjust="spacingAndGlyphs" stroke="#000" stroke-width="0.25">3.7</text><text x="143" y="817" font-size="11.2" text-anchor="start" font-weight="normal" font-family='"Liberation Sans", sans-serif' textLength="23.2" lengthAdjust="spacingAndGlyphs" stroke="#000" stroke-width="0.25">56.7</text><text x="171.5" y="817" font-size="11.2" text-anchor="start" font-weight="normal" font-family='"Liberation Sans", sans-serif' textLength="21.5" lengthAdjust="spacingAndGlyphs" stroke="#000" stroke-width="0.25">10.9</text><path d="M150 803.1H191.5M170 783V823" stroke="#000" stroke-width="1.2"/><path d="M263 788.5h1M271 788.5h1M253 792.5h1M280 793.5h1M314 793.5h1M246 794.5h1M271 794.5h1M262 795.5h1M266 795.5h1M267 796.5h1M269 797.5h1M275 797.5h1M237 798.5h1M251 798.5h1M258 798.5h1M261 798.5h1M265 798.5h1M268 798.5h1M274 798.5h1M281 798.5h1M253 799.5h1M269 799.5h1M272 799.5h1M246 800.5h1M252 800.5h2M256 800.5h1M260 800.5h1M263 800.5h1M245 801.5h1M265 801.5h1M278 801.5h1M282 801.5h1M253 802.5h1M255 802.5h1M257 802.5h3M261 802.5h1M264 802.5h1M271 802.5h1M274 802.5h1M276 802.5h1M278 802.5h1M234 803.5h1M251 803.5h1M254 803.5h1M256 803.5h1M258 803.5h2M264 803.5h3M269 803.5h1M271 803.5h1M276 803.5h1M283 803.5h1M299 803.5h1M239 804.5h1M246 804.5h2M249 804.5h2M254 804.5h3M259 804.5h3M264 804.5h2M267 804.5h1M270 804.5h1M243 805.5h2M248 805.5h1M252 805.5h5M258 805.5h6M268 805.5h1M270 805.5h1M273 805.5h1M277 805.5h1M292 805.5h1M296 805.5h2M244 806.5h1M247 806.5h3M251 806.5h5M257 806.5h4M262 806.5h1M264 806.5h4M269 806.5h1M271 806.5h2M274 806.5h1M279 806.5h1M291 806.5h2M295 806.5h1M306 806.5h1M310 806.5h1M246 807.5h2M249 807.5h2M253 807.5h13M269 807.5h2M273 807.5h2M280 807.5h2M283 807.5h1M287 807.5h2M295 807.5h1M299 807.5h1M302 807.5h1M242 808.5h2M247 808.5h1M250 808.5h8M259 808.5h8M269 808.5h1M271 808.5h1M277 808.5h2M281 808.5h2M284 808.5h2M247 809.5h4M252 809.5h4M257 809.5h3M262 809.5h2M265 809.5h1M267 809.5h2M270 809.5h2M280 809.5h1M288 809.5h4M297 809.5h2M302 809.5h1M311 809.5h1M228 810.5h1M244 810.5h2M247 810.5h2M251 810.5h14M267 810.5h4M275 810.5h2M280 810.5h1M284 810.5h1M291 810.5h2M298 810.5h1M303 810.5h1M239 811.5h1M241 811.5h2M246 811.5h2M249 811.5h2M254 811.5h3M258 811.5h2M261 811.5h1M263 811.5h2M267 811.5h1M270 811.5h2M276 811.5h1M279 811.5h1M295 811.5h2M237 812.5h1M239 812.5h1M241 812.5h1M243 812.5h1M245 812.5h4M251 812.5h10M262 812.5h2M265 812.5h1M267 812.5h1M276 812.5h1M283 812.5h1M286 812.5h1M289 812.5h2M295 812.5h1M242 813.5h3M248 813.5h1M250 813.5h5M256 813.5h6M263 813.5h1M266 813.5h3M270 813.5h1M272 813.5h1M277 813.5h2M280 813.5h1M285 813.5h1M287 813.5h1M244 814.5h1M248 814.5h1M250 814.5h9M261 814.5h1M263 814.5h1M267 814.5h1M281 814.5h1M242 815.5h1M244 815.5h2M248 815.5h1M250 815.5h1M253 815.5h4M262 815.5h1M268 815.5h2M272 815.5h1M275 815.5h1M279 815.5h3M288 815.5h1M290 815.5h1M297 815.5h1M244 816.5h2M247 816.5h1M249 816.5h1M251 816.5h1M254 816.5h1M256 816.5h1M261 816.5h1M264 816.5h1M268 816.5h1M272 816.5h1M275 816.5h1M235 817.5h1M252 817.5h2M264 817.5h1M266 817.5h1M284 817.5h1M296 817.5h1M241 818.5h1M248 818.5h2M255 818.5h1M257 818.5h2M260 818.5h2M275 818.5h1M232 819.5h1M248 819.5h1M263 819.5h1M277 819.5h1M240 820.5h1M245 820.5h1M247 820.5h2M271 820.5h1M225 822.5h1M246 822.5h1M256 822.5h1M269 822.5h1M245 823.5h1M276 823.5h1M251 825.5h1M274 825.5h1M254 826.5h1M230 827.5h1M244 827.5h1M255 827.5h1M246 828.5h1M257 828.5h1M307 828.5h1M256 830.5h1M267 830.5h2M231 831.5h1M275 831.5h1M278 831.5h1M294 831.5h1M273 832.5h1M251 833.5h1M264 833.5h1M259 834.5h1M277 834.5h1M295 834.5h1M238 835.5h1M251 835.5h1M258 835.5h1M277 835.5h1M280 835.5h1M284 835.5h1M241 836.5h1M248 836.5h1M252 836.5h1M264 836.5h1M270 836.5h1M277 836.5h2M283 836.5h1M285 836.5h1M292 836.5h1M294 836.5h1M301 836.5h1M234 837.5h1M245 837.5h1M255 837.5h1M260 837.5h1M270 837.5h1M278 837.5h1M290 837.5h1M294 837.5h1M297 837.5h1M302 837.5h1M232 838.5h1M241 838.5h1M246 838.5h1M253 838.5h1M261 838.5h1M263 838.5h1M265 838.5h1M268 838.5h1M275 838.5h1M277 838.5h1M280 838.5h3M286 838.5h1M291 838.5h1M294 838.5h1M304 838.5h1M251 839.5h1M256 839.5h2M261 839.5h1M265 839.5h1M267 839.5h2M272 839.5h2M276 839.5h2M281 839.5h1M284 839.5h4M289 839.5h1M294 839.5h1M229 840.5h1M239 840.5h1M247 840.5h1M250 840.5h5M259 840.5h1M263 840.5h1M267 840.5h2M270 840.5h3M275 840.5h1M278 840.5h1M281 840.5h1M283 840.5h2M286 840.5h2M295 840.5h1M297 840.5h1M300 840.5h1M239 841.5h1M241 841.5h1M244 841.5h3M248 841.5h1M253 841.5h2M259 841.5h1M264 841.5h2M269 841.5h3M273 841.5h4M281 841.5h1M288 841.5h2M291 841.5h3M298 841.5h2M231 842.5h1M233 842.5h1M240 842.5h1M242 842.5h2M250 842.5h2M253 842.5h2M260 842.5h1M262 842.5h2M268 842.5h1M273 842.5h1M275 842.5h6M286 842.5h4M292 842.5h1M294 842.5h1M297 842.5h1M300 842.5h1M311 842.5h1M314 842.5h1M228 843.5h1M231 843.5h1M238 843.5h1M241 843.5h2M245 843.5h1M249 843.5h1M254 843.5h6M267 843.5h1M271 843.5h1M273 843.5h3M278 843.5h3M282 843.5h4M287 843.5h3M292 843.5h1M295 843.5h2M305 843.5h1M311 843.5h1M227 844.5h1M231 844.5h1M233 844.5h2M237 844.5h1M239 844.5h1M244 844.5h1M246 844.5h3M250 844.5h2M253 844.5h2M256 844.5h1M258 844.5h1M262 844.5h1M265 844.5h1M267 844.5h3M273 844.5h1M277 844.5h1M280 844.5h7M290 844.5h3M294 844.5h4M301 844.5h1M233 845.5h1M235 845.5h1M237 845.5h1M239 845.5h7M247 845.5h9M257 845.5h4M262 845.5h1M264 845.5h1M267 845.5h1M272 845.5h1M274 845.5h21M299 845.5h1M304 845.5h1M323 845.5h1M232 846.5h6M240 846.5h5M246 846.5h1M248 846.5h9M259 846.5h2M265 846.5h2M268 846.5h1M271 846.5h10M282 846.5h5M288 846.5h1M290 846.5h1M292 846.5h1M294 846.5h3M299 846.5h1M301 846.5h1M306 846.5h1M230 847.5h1M232 847.5h1M236 847.5h1M238 847.5h3M242 847.5h3M246 847.5h3M250 847.5h5M256 847.5h1M258 847.5h1M260 847.5h1M263 847.5h3M267 847.5h4M272 847.5h1M275 847.5h20M296 847.5h4M301 847.5h1M231 848.5h3M236 848.5h1M238 848.5h11M250 848.5h1M252 848.5h3M256 848.5h1M258 848.5h3M262 848.5h2M266 848.5h2M269 848.5h12M282 848.5h7M291 848.5h2M295 848.5h1M297 848.5h1M301 848.5h1M227 849.5h1M236 849.5h5M242 849.5h16M259 849.5h2M262 849.5h3M266 849.5h2M269 849.5h1M271 849.5h22M294 849.5h1M296 849.5h1M302 849.5h1M233 850.5h2M237 850.5h5M243 850.5h11M255 850.5h8M265 850.5h12M278 850.5h7M286 850.5h11M298 850.5h1M300 850.5h3M305 850.5h1M312 850.5h1M228 851.5h3M233 851.5h4M238 851.5h1M240 851.5h3M244 851.5h9M254 851.5h6M261 851.5h8M270 851.5h22M293 851.5h2M296 851.5h2M302 851.5h1M312 851.5h1M348 851.5h1M224 852.5h1M229 852.5h2M233 852.5h5M240 852.5h15M256 852.5h5M262 852.5h1M264 852.5h8M273 852.5h27M302 852.5h1M306 852.5h1M309 852.5h1M231 853.5h4M236 853.5h15M252 853.5h2M255 853.5h7M263 853.5h2M266 853.5h21M288 853.5h4M293 853.5h2M296 853.5h4M303 853.5h1M313 853.5h1M228 854.5h2M233 854.5h1M238 854.5h4M243 854.5h8M252 854.5h8M262 854.5h1M265 854.5h4M270 854.5h1M272 854.5h23M296 854.5h4M301 854.5h2M225 855.5h1M227 855.5h1M233 855.5h21M255 855.5h12M268 855.5h3M272 855.5h1M274 855.5h4M279 855.5h16M299 855.5h1M301 855.5h1M309 855.5h1M229 856.5h1M232 856.5h3M236 856.5h2M239 856.5h5M245 856.5h7M253 856.5h8M262 856.5h6M270 856.5h2M273 856.5h4M278 856.5h3M282 856.5h17M300 856.5h1M304 856.5h1M333 856.5h1M232 857.5h1M234 857.5h1M236 857.5h2M239 857.5h19M259 857.5h3M266 857.5h1M268 857.5h1M270 857.5h4M275 857.5h13M289 857.5h7M297 857.5h3M301 857.5h1M308 857.5h1M313 857.5h1M228 858.5h1M231 858.5h2M235 858.5h1M238 858.5h4M243 858.5h7M251 858.5h3M255 858.5h4M260 858.5h5M267 858.5h3M271 858.5h25M298 858.5h1M300 858.5h2M307 858.5h1M316 858.5h1M234 859.5h4M239 859.5h6M246 859.5h12M259 859.5h1M261 859.5h2M265 859.5h2M268 859.5h2M271 859.5h1M273 859.5h21M304 859.5h1M232 860.5h3M237 860.5h8M246 860.5h4M251 860.5h6M258 860.5h1M260 860.5h3M266 860.5h1M268 860.5h3M272 860.5h2M276 860.5h8M285 860.5h4M290 860.5h10M303 860.5h1M307 860.5h1M315 860.5h1M228 861.5h1M232 861.5h1M239 861.5h2M242 861.5h2M245 861.5h12M258 861.5h2M266 861.5h4M271 861.5h2M274 861.5h2M279 861.5h1M281 861.5h3M285 861.5h1M287 861.5h10M301 861.5h1M228 862.5h1M232 862.5h1M237 862.5h1M239 862.5h5M245 862.5h1M248 862.5h3M253 862.5h1M256 862.5h5M265 862.5h4M274 862.5h2M277 862.5h4M282 862.5h2M285 862.5h2M288 862.5h2M292 862.5h1M294 862.5h1M297 862.5h1M311 862.5h1M233 863.5h1M236 863.5h1M242 863.5h1M244 863.5h9M255 863.5h1M257 863.5h2M261 863.5h2M265 863.5h7M273 863.5h6M280 863.5h6M287 863.5h1M289 863.5h1M292 863.5h1M294 863.5h1M298 863.5h1M236 864.5h1M238 864.5h4M243 864.5h1M245 864.5h3M251 864.5h1M255 864.5h1M257 864.5h1M265 864.5h1M267 864.5h4M275 864.5h6M283 864.5h1M285 864.5h2M289 864.5h4M295 864.5h1M297 864.5h2M305 864.5h1M237 865.5h1M240 865.5h5M247 865.5h1M249 865.5h3M256 865.5h1M258 865.5h1M260 865.5h1M263 865.5h1M267 865.5h1M271 865.5h3M275 865.5h11M288 865.5h2M292 865.5h1M294 865.5h1M304 865.5h1M239 866.5h1M242 866.5h2M246 866.5h1M248 866.5h2M251 866.5h3M256 866.5h1M262 866.5h1M275 866.5h1M277 866.5h3M281 866.5h1M283 866.5h2M287 866.5h3M292 866.5h1M295 866.5h1M299 866.5h1M226 867.5h1M228 867.5h1M241 867.5h2M244 867.5h2M253 867.5h1M258 867.5h2M265 867.5h1M267 867.5h2M270 867.5h1M272 867.5h1M275 867.5h3M279 867.5h1M281 867.5h3M287 867.5h1M290 867.5h1M294 867.5h3M303 867.5h1M232 868.5h1M236 868.5h1M242 868.5h1M247 868.5h1M250 868.5h2M256 868.5h1M259 868.5h1M267 868.5h1M269 868.5h1M273 868.5h1M276 868.5h1M278 868.5h2M282 868.5h1M286 868.5h1M289 868.5h2M296 868.5h1M238 869.5h1M244 869.5h1M249 869.5h1M252 869.5h1M263 869.5h1M268 869.5h1M270 869.5h1M273 869.5h1M278 869.5h2M285 869.5h1M287 869.5h1M292 869.5h1M294 869.5h1M243 870.5h1M246 870.5h1M250 870.5h1M252 870.5h1M260 870.5h1M265 870.5h1M269 870.5h1M272 870.5h3M278 870.5h1M284 870.5h1M287 870.5h1M290 870.5h1M292 870.5h1M245 871.5h1M248 871.5h1M258 871.5h1M268 871.5h5M278 871.5h2M302 871.5h1M233 872.5h1M243 872.5h1M259 872.5h1M272 872.5h1M278 872.5h1M280 872.5h1M288 872.5h1M311 872.5h1M321 872.5h1M257 873.5h1M261 873.5h1M263 873.5h1M277 873.5h1M279 873.5h1M294 873.5h1M306 873.5h1M244 874.5h1M251 874.5h1M271 874.5h1M279 874.5h1M273 875.5h1M284 875.5h1M296 875.5h1M245 876.5h1M278 876.5h1M231 877.5h1M269 878.5h1M301 878.5h1" stroke="#000" stroke-width="1" fill="none"/><path d="M264.5 757V880.7M222 835.5H355" stroke="#000" stroke-width="1.2"/><rect x="222" y="757" width="133" height="123.7" fill="none" stroke="#000" stroke-width="1.3"/><path d="M222 880.7H355M222 757V880.7" stroke="#000" stroke-width="1.8"/><path d="M222 880.7v4.5M222 880.7h-4.5M232 880.7v2.6M222 871.4h-2.6M237.9 880.7v2.6M222 865.9h-2.6M242 880.7v2.6M222 862.1h-2.6M245.2 880.7v2.6M222 859.1h-2.6M247.9 880.7v2.6M222 856.6h-2.6M250.1 880.7v2.6M222 854.6h-2.6M252 880.7v2.6M222 852.8h-2.6M253.7 880.7v2.6M222 851.2h-2.6M255.2 880.7v4.5M222 849.8h-4.5M265.3 880.7v2.6M222 840.5h-2.6M271.1 880.7v2.6M222 835h-2.6M275.3 880.7v2.6M222 831.2h-2.6M278.5 880.7v2.6M222 828.2h-2.6M281.1 880.7v2.6M222 825.7h-2.6M283.3 880.7v2.6M222 823.6h-2.6M285.3 880.7v2.6M222 821.8h-2.6M287 880.7v2.6M222 820.3h-2.6M288.5 880.7v4.5M222 818.9h-4.5M298.5 880.7v2.6M222 809.5h-2.6M304.4 880.7v2.6M222 804.1h-2.6M308.5 880.7v2.6M222 800.2h-2.6M311.7 880.7v2.6M222 797.2h-2.6M314.4 880.7v2.6M222 794.8h-2.6M316.6 880.7v2.6M222 792.7h-2.6M318.5 880.7v2.6M222 790.9h-2.6M320.2 880.7v2.6M222 789.3h-2.6M321.8 880.7v4.5M222 787.9h-4.5M331.8 880.7v2.6M222 778.6h-2.6M337.6 880.7v2.6M222 773.2h-2.6M341.8 880.7v2.6M222 769.3h-2.6M345 880.7v2.6M222 766.3h-2.6M347.6 880.7v2.6M222 763.9h-2.6M349.8 880.7v2.6M222 761.8h-2.6M351.8 880.7v2.6M222 760h-2.6M353.5 880.7v2.6M222 758.4h-2.6M355 880.7v4.5M222 757h-4.5" stroke="#000" stroke-width="0.9" fill="none"/><text x="220.8" y="897.5" font-size="9.8" text-anchor="middle" font-family='"Liberation Sans", sans-serif' stroke="#000" stroke-width="0.3">10</text><text x="228.6" y="891.5" font-size="9.8" text-anchor="middle" font-family='"Liberation Sans", sans-serif' stroke="#000" stroke-width="0.3">0</text><text x="254.1" y="897.5" font-size="9.8" text-anchor="middle" font-family='"Liberation Sans", sans-serif' stroke="#000" stroke-width="0.3">10</text><text x="261.9" y="891.5" font-size="9.8" text-anchor="middle" font-family='"Liberation Sans", sans-serif' stroke="#000" stroke-width="0.3">1</text><text x="287.3" y="897.5" font-size="9.8" text-anchor="middle" font-family='"Liberation Sans", sans-serif' stroke="#000" stroke-width="0.3">10</text><text x="295.1" y="891.5" font-size="9.8" text-anchor="middle" font-family='"Liberation Sans", sans-serif' stroke="#000" stroke-width="0.3">2</text><text x="320.6" y="897.5" font-size="9.8" text-anchor="middle" font-family='"Liberation Sans", sans-serif' stroke="#000" stroke-width="0.3">10</text><text x="328.4" y="891.5" font-size="9.8" text-anchor="middle" font-family='"Liberation Sans", sans-serif' stroke="#000" stroke-width="0.3">3</text><text x="353.8" y="897.5" font-size="9.8" text-anchor="middle" font-family='"Liberation Sans", sans-serif' stroke="#000" stroke-width="0.3">10</text><text x="361.6" y="891.5" font-size="9.8" text-anchor="middle" font-family='"Liberation Sans", sans-serif' stroke="#000" stroke-width="0.3">4</text><text transform="translate(214,880.7) rotate(-90)" font-size="9.0" text-anchor="middle" font-family='"Liberation Sans", sans-serif' stroke="#000" stroke-width="0.3">10</text><text transform="translate(207.9,871.9) rotate(-90)" font-size="9.0" text-anchor="middle" font-family='"Liberation Sans", sans-serif' stroke="#000" stroke-width="0.3">0</text><text transform="translate(214,849.8) rotate(-90)" font-size="9.0" text-anchor="middle" font-family='"Liberation Sans", sans-serif' stroke="#000" stroke-width="0.3">10</text><text transform="translate(207.9,841) rotate(-90)" font-size="9.0" text-anchor="middle" font-family='"Liberation Sans", sans-serif' stroke="#000" stroke-width="0.3">1</text><text transform="translate(214,818.9) rotate(-90)" font-size="9.0" text-anchor="middle" font-family='"Liberation Sans", sans-serif' stroke="#000" stroke-width="0.3">10</text><text transform="translate(207.9,810.1) rotate(-90)" font-size="9.0" text-anchor="middle" font-family='"Liberation Sans", sans-serif' stroke="#000" stroke-width="0.3">2</text><text transform="translate(214,787.9) rotate(-90)" font-size="9.0" text-anchor="middle" font-family='"Liberation Sans", sans-serif' stroke="#000" stroke-width="0.3">10</text><text transform="translate(207.9,779.1) rotate(-90)" font-size="9.0" text-anchor="middle" font-family='"Liberation Sans", sans-serif' stroke="#000" stroke-width="0.3">3</text><text transform="translate(214,757) rotate(-90)" font-size="9.0" text-anchor="middle" font-family='"Liberation Sans", sans-serif' stroke="#000" stroke-width="0.3">10</text><text transform="translate(207.9,748.2) rotate(-90)" font-size="9.0" text-anchor="middle" font-family='"Liberation Sans", sans-serif' stroke="#000" stroke-width="0.3">4</text><text x="290.5" y="774.2" font-size="13.3" text-anchor="start" font-weight="normal" font-family='"Liberation Sans", sans-serif' textLength="57.2" lengthAdjust="spacingAndGlyphs" stroke="#000" stroke-width="0.25">chDap10</text><text x="307.7" y="795.2" font-size="11.2" text-anchor="start" font-weight="normal" font-family='"Liberation Sans", sans-serif' textLength="16.9" lengthAdjust="spacingAndGlyphs" stroke="#000" stroke-width="0.25">9.7</text><text x="331.5" y="795.2" font-size="11.2" text-anchor="start" font-weight="normal" font-family='"Liberation Sans", sans-serif' textLength="16.2" lengthAdjust="spacingAndGlyphs" stroke="#000" stroke-width="0.25">4.4</text><text x="303.8" y="815.7" font-size="11.2" text-anchor="start" font-weight="normal" font-family='"Liberation Sans", sans-serif' textLength="23.1" lengthAdjust="spacingAndGlyphs" stroke="#000" stroke-width="0.25">26.8</text><text x="330.8" y="815.7" font-size="11.2" text-anchor="start" font-weight="normal" font-family='"Liberation Sans", sans-serif' textLength="21.2" lengthAdjust="spacingAndGlyphs" stroke="#000" stroke-width="0.25">59.1</text><path d="M307.4 801.1H348.5M328.9 780.3V821.1" stroke="#000" stroke-width="1.2"/><path d="M413 788.5h1M423 788.5h1M408 791.5h1M412 791.5h1M415 791.5h1M435 791.5h1M418 793.5h1M419 794.5h1M431 794.5h1M396 795.5h1M403 795.5h1M405 795.5h2M419 795.5h3M425 795.5h1M429 795.5h2M442 795.5h1M447 795.5h1M452 795.5h1M407 796.5h1M411 796.5h1M415 796.5h1M421 796.5h1M426 796.5h7M403 797.5h1M415 797.5h1M419 797.5h2M423 797.5h3M430 797.5h2M436 797.5h2M440 797.5h1M443 797.5h1M403 798.5h1M407 798.5h1M409 798.5h1M412 798.5h9M422 798.5h1M425 798.5h1M427 798.5h1M435 798.5h1M446 798.5h1M403 799.5h1M406 799.5h1M410 799.5h3M414 799.5h2M418 799.5h6M425 799.5h5M433 799.5h2M439 799.5h1M441 799.5h1M473 799.5h1M401 800.5h1M404 800.5h1M406 800.5h11M418 800.5h7M428 800.5h1M431 800.5h1M433 800.5h1M399 801.5h1M403 801.5h2M406 801.5h6M413 801.5h18M433 801.5h2M436 801.5h1M440 801.5h1M443 801.5h1M400 802.5h1M402 802.5h4M407 802.5h23M431 802.5h1M434 802.5h2M467 802.5h1M396 803.5h1M400 803.5h1M402 803.5h5M408 803.5h19M428 803.5h1M431 803.5h1M473 803.5h1M390 804.5h1M395 804.5h1M400 804.5h4M405 804.5h24M430 804.5h2M433 804.5h1M389 805.5h1M395 805.5h1M397 805.5h31M436 805.5h1M394 806.5h1M396 806.5h34M432 806.5h1M441 806.5h1M394 807.5h30M426 807.5h1M430 807.5h1M387 808.5h1M389 808.5h1M391 808.5h1M395 808.5h26M422 808.5h2M426 808.5h1M428 808.5h1M431 808.5h1M435 808.5h1M438 808.5h1M470 808.5h1M389 809.5h2M392 809.5h6M399 809.5h25M429 809.5h1M431 809.5h1M386 810.5h1M388 810.5h1M391 810.5h1M393 810.5h2M396 810.5h25M424 810.5h1M426 810.5h1M430 810.5h1M440 810.5h1M385 811.5h1M389 811.5h4M394 811.5h25M420 811.5h3M426 811.5h2M442 811.5h1M388 812.5h1M391 812.5h1M393 812.5h1M395 812.5h23M420 812.5h2M423 812.5h1M432 812.5h1M389 813.5h26M417 813.5h2M423 813.5h1M430 813.5h1M440 813.5h1M386 814.5h4M391 814.5h22M414 814.5h3M418 814.5h1M421 814.5h1M430 814.5h1M384 815.5h2M388 815.5h1M390 815.5h1M392 815.5h1M394 815.5h5M400 815.5h13M414 815.5h1M416 815.5h1M422 815.5h1M434 815.5h1M384 816.5h1M387 816.5h10M400 816.5h2M403 816.5h4M409 816.5h1M419 816.5h1M424 816.5h1M432 816.5h1M440 816.5h1M387 817.5h2M390 817.5h1M393 817.5h2M396 817.5h4M402 817.5h6M409 817.5h2M412 817.5h1M415 817.5h1M386 818.5h1M388 818.5h2M392 818.5h2M395 818.5h2M399 818.5h3M403 818.5h2M407 818.5h1M409 818.5h2M412 818.5h1M414 818.5h1M420 818.5h2M441 818.5h1M393 819.5h1M396 819.5h1M398 819.5h1M400 819.5h6M408 819.5h1M411 819.5h1M422 819.5h1M384 820.5h2M387 820.5h1M391 820.5h1M397 820.5h1M399 820.5h1M401 820.5h1M403 820.5h2M406 820.5h1M411 820.5h1M422 820.5h1M385 821.5h1M393 821.5h1M395 821.5h1M404 821.5h1M409 821.5h2M414 821.5h1M417 821.5h1M430 821.5h1M397 822.5h1M400 822.5h1M417 822.5h1M421 822.5h1M424 822.5h2M388 823.5h1M399 823.5h1M423 823.5h1M386 824.5h2M401 824.5h1M432 824.5h1M392 825.5h1M394 825.5h1M407 825.5h1M420 825.5h1M386 826.5h1M391 826.5h1M408 826.5h1M412 826.5h1M415 826.5h2M422 826.5h1M392 827.5h1M416 827.5h1M451 827.5h1M411 828.5h1M421 828.5h1M386 829.5h1M423 829.5h2M397 830.5h1M403 830.5h1M421 830.5h1M425 830.5h1M431 830.5h1M443 830.5h1M399 831.5h1M416 831.5h1M428 831.5h1M432 831.5h1M439 831.5h2M444 831.5h1M456 831.5h1M385 832.5h1M398 832.5h1M402 832.5h1M407 832.5h1M411 832.5h1M443 832.5h1M389 833.5h1M420 833.5h1M429 833.5h1M439 833.5h1M402 834.5h1M415 834.5h1M429 834.5h2M436 834.5h1M440 834.5h2M444 834.5h1M450 834.5h1M388 835.5h1M397 835.5h2M403 835.5h1M417 835.5h1M425 835.5h1M434 835.5h1M437 835.5h1M439 835.5h1M456 835.5h1M391 836.5h1M396 836.5h1M400 836.5h2M407 836.5h1M413 836.5h3M417 836.5h1M426 836.5h1M430 836.5h1M432 836.5h2M435 836.5h2M438 836.5h1M440 836.5h2M443 836.5h1M385 837.5h1M387 837.5h1M397 837.5h2M400 837.5h3M408 837.5h1M411 837.5h2M416 837.5h1M418 837.5h1M421 837.5h1M426 837.5h1M428 837.5h1M434 837.5h1M436 837.5h1M444 837.5h1M448 837.5h1M450 837.5h1M453 837.5h1M384 838.5h1M392 838.5h1M394 838.5h2M399 838.5h1M401 838.5h3M407 838.5h2M411 838.5h2M414 838.5h1M417 838.5h1M426 838.5h1M431 838.5h1M434 838.5h4M440 838.5h1M442 838.5h1M445 838.5h1M447 838.5h1M452 838.5h1M386 839.5h1M392 839.5h1M394 839.5h2M399 839.5h3M403 839.5h2M408 839.5h5M414 839.5h1M417 839.5h1M420 839.5h1M422 839.5h3M426 839.5h6M436 839.5h1M438 839.5h2M443 839.5h1M445 839.5h1M447 839.5h1M386 840.5h1M389 840.5h1M391 840.5h1M393 840.5h1M398 840.5h1M400 840.5h6M407 840.5h2M410 840.5h1M413 840.5h1M420 840.5h1M422 840.5h2M425 840.5h1M427 840.5h1M429 840.5h1M431 840.5h2M434 840.5h5M441 840.5h2M445 840.5h5M451 840.5h1M393 841.5h2M397 841.5h1M401 841.5h4M406 841.5h1M411 841.5h3M415 841.5h1M417 841.5h1M419 841.5h2M425 841.5h2M430 841.5h4M435 841.5h3M441 841.5h1M446 841.5h2M450 841.5h1M453 841.5h2M459 841.5h1M461 841.5h1M390 842.5h1M393 842.5h1M395 842.5h1M398 842.5h1M400 842.5h6M407 842.5h3M413 842.5h2M418 842.5h1M422 842.5h5M428 842.5h2M431 842.5h2M434 842.5h2M438 842.5h1M440 842.5h2M443 842.5h1M445 842.5h4M450 842.5h1M452 842.5h1M455 842.5h1M389 843.5h1M392 843.5h3M396 843.5h2M399 843.5h12M412 843.5h2M415 843.5h3M420 843.5h2M423 843.5h5M429 843.5h12M442 843.5h2M445 843.5h1M447 843.5h1M449 843.5h3M388 844.5h2M391 844.5h1M393 844.5h2M396 844.5h6M403 844.5h6M410 844.5h5M417 844.5h2M420 844.5h2M423 844.5h2M429 844.5h2M432 844.5h4M438 844.5h5M444 844.5h1M446 844.5h2M451 844.5h1M455 844.5h1M388 845.5h2M393 845.5h17M411 845.5h1M413 845.5h2M416 845.5h1M418 845.5h2M421 845.5h1M424 845.5h2M427 845.5h2M430 845.5h1M433 845.5h1M435 845.5h2M440 845.5h4M445 845.5h2M448 845.5h3M453 845.5h1M458 845.5h1M388 846.5h1M390 846.5h2M394 846.5h5M400 846.5h7M408 846.5h11M420 846.5h1M425 846.5h6M432 846.5h15M450 846.5h1M454 846.5h2M461 846.5h1M463 846.5h1M387 847.5h3M391 847.5h2M394 847.5h33M428 847.5h11M440 847.5h1M442 847.5h1M444 847.5h1M451 847.5h1M457 847.5h1M459 847.5h1M389 848.5h1M391 848.5h25M417 848.5h2M421 848.5h2M424 848.5h3M428 848.5h12M442 848.5h6M451 848.5h1M465 848.5h1M386 849.5h3M390 849.5h13M404 849.5h12M419 849.5h2M422 849.5h2M425 849.5h1M427 849.5h5M433 849.5h5M439 849.5h1M441 849.5h7M455 849.5h1M388 850.5h1M391 850.5h1M393 850.5h3M397 850.5h22M421 850.5h2M424 850.5h7M432 850.5h3M436 850.5h1M438 850.5h9M448 850.5h1M455 850.5h1M386 851.5h2M391 851.5h2M394 851.5h24M422 851.5h3M427 851.5h6M434 851.5h4M439 851.5h1M441 851.5h5M450 851.5h1M453 851.5h1M455 851.5h1M386 852.5h2M389 852.5h6M396 852.5h21M419 852.5h1M421 852.5h2M426 852.5h1M428 852.5h1M430 852.5h3M434 852.5h6M443 852.5h4M452 852.5h1M385 853.5h6M392 853.5h3M396 853.5h17M414 853.5h4M419 853.5h1M422 853.5h3M426 853.5h3M430 853.5h2M433 853.5h6M440 853.5h3M444 853.5h1M446 853.5h2M450 853.5h2M385 854.5h1M387 854.5h30M418 854.5h1M424 854.5h2M427 854.5h1M430 854.5h6M438 854.5h3M443 854.5h2M447 854.5h2M456 854.5h1M465 854.5h1M384 855.5h23M408 855.5h7M416 855.5h5M422 855.5h1M424 855.5h3M428 855.5h7M436 855.5h1M439 855.5h2M444 855.5h2M447 855.5h2M450 855.5h1M452 855.5h1M469 855.5h1M385 856.5h1M388 856.5h1M390 856.5h3M394 856.5h21M416 856.5h1M418 856.5h4M424 856.5h6M432 856.5h1M436 856.5h1M438 856.5h1M441 856.5h3M455 856.5h1M457 856.5h1M387 857.5h2M390 857.5h5M396 857.5h16M413 857.5h8M427 857.5h1M429 857.5h2M432 857.5h2M435 857.5h1M437 857.5h3M441 857.5h1M444 857.5h1M446 857.5h1M448 857.5h1M454 857.5h1M456 857.5h1M384 858.5h1M387 858.5h35M423 858.5h1M426 858.5h2M430 858.5h1M432 858.5h1M434 858.5h1M441 858.5h1M445 858.5h1M451 858.5h1M386 859.5h2M389 859.5h30M420 859.5h1M422 859.5h1M426 859.5h2M430 859.5h1M432 859.5h2M445 859.5h1M447 859.5h2M385 860.5h1M387 860.5h1M389 860.5h1M391 860.5h25M417 860.5h5M429 860.5h1M435 860.5h1M439 860.5h1M448 860.5h1M451 860.5h1M456 860.5h1M386 861.5h3M390 861.5h29M422 861.5h2M425 861.5h1M428 861.5h1M432 861.5h1M434 861.5h1M438 861.5h1M440 861.5h1M442 861.5h1M470 861.5h1M387 862.5h3M391 862.5h1M393 862.5h20M414 862.5h2M418 862.5h1M426 862.5h1M429 862.5h1M431 862.5h1M445 862.5h1M386 863.5h1M388 863.5h26M416 863.5h1M422 863.5h1M425 863.5h1M427 863.5h2M430 863.5h1M435 863.5h1M438 863.5h1M444 863.5h1M384 864.5h1M388 864.5h1M391 864.5h1M394 864.5h3M398 864.5h9M408 864.5h7M416 864.5h2M420 864.5h2M425 864.5h1M427 864.5h2M439 864.5h2M385 865.5h2M388 865.5h1M391 865.5h18M410 865.5h2M413 865.5h2M416 865.5h2M424 865.5h3M434 865.5h2M463 865.5h1M465 865.5h1M385 866.5h2M388 866.5h4M393 866.5h8M402 866.5h4M407 866.5h5M413 866.5h2M417 866.5h1M426 866.5h1M429 866.5h1M389 867.5h6M396 867.5h2M399 867.5h5M405 867.5h1M408 867.5h4M413 867.5h2M418 867.5h2M423 867.5h1M429 867.5h1M431 867.5h1M433 867.5h1M444 867.5h1M384 868.5h1M388 868.5h1M393 868.5h1M395 868.5h1M399 868.5h1M401 868.5h1M403 868.5h2M408 868.5h1M415 868.5h1M437 868.5h1M461 868.5h1M387 869.5h1M389 869.5h3M393 869.5h2M396 869.5h3M401 869.5h2M407 869.5h1M409 869.5h1M411 869.5h1M413 869.5h2M391 870.5h1M393 870.5h1M396 870.5h1M398 870.5h3M402 870.5h2M408 870.5h1M417 870.5h1M419 870.5h1M424 870.5h1M427 870.5h1M435 870.5h1M437 870.5h1M390 871.5h1M394 871.5h1M397 871.5h2M400 871.5h3M411 871.5h2M399 872.5h1M401 872.5h1M404 872.5h2M412 872.5h2M433 872.5h1M437 872.5h1M390 873.5h1M393 873.5h1M395 873.5h1M403 873.5h1M420 873.5h1M431 873.5h1M407 874.5h1M410 874.5h1M426 874.5h1M433 874.5h1M401 875.5h1M406 875.5h1M435 875.5h1" stroke="#000" stroke-width="1" fill="none"/><path d="M423.6 756.5V877.7M383.5 833.2H509.6" stroke="#000" stroke-width="1.2"/><rect x="383.5" y="756.5" width="126.1" height="121.2" fill="none" stroke="#000" stroke-width="1.3"/><path d="M383.5 877.7H509.6M383.5 756.5V877.7" stroke="#000" stroke-width="1.8"/><path d="M383.5 877.7v4.5M383.5 877.7h-4.5M393 877.7v2.6M383.5 868.6h-2.6M398.5 877.7v2.6M383.5 863.2h-2.6M402.5 877.7v2.6M383.5 859.5h-2.6M405.5 877.7v2.6M383.5 856.5h-2.6M408 877.7v2.6M383.5 854.1h-2.6M410.1 877.7v2.6M383.5 852.1h-2.6M412 877.7v2.6M383.5 850.3h-2.6M413.6 877.7v2.6M383.5 848.8h-2.6M415 877.7v4.5M383.5 847.4h-4.5M424.5 877.7v2.6M383.5 838.3h-2.6M430.1 877.7v2.6M383.5 832.9h-2.6M434 877.7v2.6M383.5 829.2h-2.6M437.1 877.7v2.6M383.5 826.2h-2.6M439.6 877.7v2.6M383.5 823.8h-2.6M441.7 877.7v2.6M383.5 821.8h-2.6M443.5 877.7v2.6M383.5 820h-2.6M445.1 877.7v2.6M383.5 818.5h-2.6M446.6 877.7v4.5M383.5 817.1h-4.5M456 877.7v2.6M383.5 808h-2.6M461.6 877.7v2.6M383.5 802.6h-2.6M465.5 877.7v2.6M383.5 798.9h-2.6M468.6 877.7v2.6M383.5 795.9h-2.6M471.1 877.7v2.6M383.5 793.5h-2.6M473.2 877.7v2.6M383.5 791.5h-2.6M475 877.7v2.6M383.5 789.7h-2.6M476.6 877.7v2.6M383.5 788.2h-2.6M478.1 877.7v4.5M383.5 786.8h-4.5M487.6 877.7v2.6M383.5 777.7h-2.6M493.1 877.7v2.6M383.5 772.3h-2.6M497.1 877.7v2.6M383.5 768.6h-2.6M500.1 877.7v2.6M383.5 765.6h-2.6M502.6 877.7v2.6M383.5 763.2h-2.6M504.7 877.7v2.6M383.5 761.2h-2.6M506.5 877.7v2.6M383.5 759.4h-2.6M508.2 877.7v2.6M383.5 757.9h-2.6M509.6 877.7v4.5M383.5 756.5h-4.5" stroke="#000" stroke-width="0.9" fill="none"/><text x="382.3" y="894.5" font-size="9.8" text-anchor="middle" font-family='"Liberation Sans", sans-serif' stroke="#000" stroke-width="0.3">10</text><text x="390.1" y="888.5" font-size="9.8" text-anchor="middle" font-family='"Liberation Sans", sans-serif' stroke="#000" stroke-width="0.3">0</text><text x="413.8" y="894.5" font-size="9.8" text-anchor="middle" font-family='"Liberation Sans", sans-serif' stroke="#000" stroke-width="0.3">10</text><text x="421.6" y="888.5" font-size="9.8" text-anchor="middle" font-family='"Liberation Sans", sans-serif' stroke="#000" stroke-width="0.3">1</text><text x="445.4" y="894.5" font-size="9.8" text-anchor="middle" font-family='"Liberation Sans", sans-serif' stroke="#000" stroke-width="0.3">10</text><text x="453.2" y="888.5" font-size="9.8" text-anchor="middle" font-family='"Liberation Sans", sans-serif' stroke="#000" stroke-width="0.3">2</text><text x="476.9" y="894.5" font-size="9.8" text-anchor="middle" font-family='"Liberation Sans", sans-serif' stroke="#000" stroke-width="0.3">10</text><text x="484.7" y="888.5" font-size="9.8" text-anchor="middle" font-family='"Liberation Sans", sans-serif' stroke="#000" stroke-width="0.3">3</text><text x="508.4" y="894.5" font-size="9.8" text-anchor="middle" font-family='"Liberation Sans", sans-serif' stroke="#000" stroke-width="0.3">10</text><text x="516.2" y="888.5" font-size="9.8" text-anchor="middle" font-family='"Liberation Sans", sans-serif' stroke="#000" stroke-width="0.3">4</text><text transform="translate(375.8,877.7) rotate(-90)" font-size="9.8" text-anchor="middle" font-family='"Liberation Sans", sans-serif' stroke="#000" stroke-width="0.3">10</text><text transform="translate(369.7,868.9) rotate(-90)" font-size="9.8" text-anchor="middle" font-family='"Liberation Sans", sans-serif' stroke="#000" stroke-width="0.3">0</text><text transform="translate(375.8,847.4) rotate(-90)" font-size="9.8" text-anchor="middle" font-family='"Liberation Sans", sans-serif' stroke="#000" stroke-width="0.3">10</text><text transform="translate(369.7,838.6) rotate(-90)" font-size="9.8" text-anchor="middle" font-family='"Liberation Sans", sans-serif' stroke="#000" stroke-width="0.3">1</text><text transform="translate(375.8,817.1) rotate(-90)" font-size="9.8" text-anchor="middle" font-family='"Liberation Sans", sans-serif' stroke="#000" stroke-width="0.3">10</text><text transform="translate(369.7,808.3) rotate(-90)" font-size="9.8" text-anchor="middle" font-family='"Liberation Sans", sans-serif' stroke="#000" stroke-width="0.3">2</text><text transform="translate(375.8,786.8) rotate(-90)" font-size="9.8" text-anchor="middle" font-family='"Liberation Sans", sans-serif' stroke="#000" stroke-width="0.3">10</text><text transform="translate(369.7,778) rotate(-90)" font-size="9.8" text-anchor="middle" font-family='"Liberation Sans", sans-serif' stroke="#000" stroke-width="0.3">3</text><text transform="translate(375.8,756.5) rotate(-90)" font-size="9.8" text-anchor="middle" font-family='"Liberation Sans", sans-serif' stroke="#000" stroke-width="0.3">10</text><text transform="translate(369.7,747.7) rotate(-90)" font-size="9.8" text-anchor="middle" font-family='"Liberation Sans", sans-serif' stroke="#000" stroke-width="0.3">4</text><text x="445.8" y="772.2" font-size="13.3" text-anchor="start" font-weight="normal" font-family='"Liberation Sans", sans-serif' textLength="57.7" lengthAdjust="spacingAndGlyphs" stroke="#000" stroke-width="0.25">wtDap12</text><text x="457.3" y="792.7" font-size="11.2" text-anchor="start" font-weight="normal" font-family='"Liberation Sans", sans-serif' textLength="23.9" lengthAdjust="spacingAndGlyphs" stroke="#000" stroke-width="0.25">31.3</text><text x="485" y="792.7" font-size="11.2" text-anchor="start" font-weight="normal" font-family='"Liberation Sans", sans-serif' textLength="17.4" lengthAdjust="spacingAndGlyphs" stroke="#000" stroke-width="0.25">2.7</text><text x="457.3" y="813.5" font-size="11.2" text-anchor="start" font-weight="normal" font-family='"Liberation Sans", sans-serif' textLength="23.5" lengthAdjust="spacingAndGlyphs" stroke="#000" stroke-width="0.25">55.2</text><text x="484.5" y="813.5" font-size="11.2" text-anchor="start" font-weight="normal" font-family='"Liberation Sans", sans-serif' textLength="21.6" lengthAdjust="spacingAndGlyphs" stroke="#000" stroke-width="0.25">10.8</text><path d="M462.4 799.9H503.9M483.5 778.8V819.6" stroke="#000" stroke-width="1.2"/></svg>
</body></html>
